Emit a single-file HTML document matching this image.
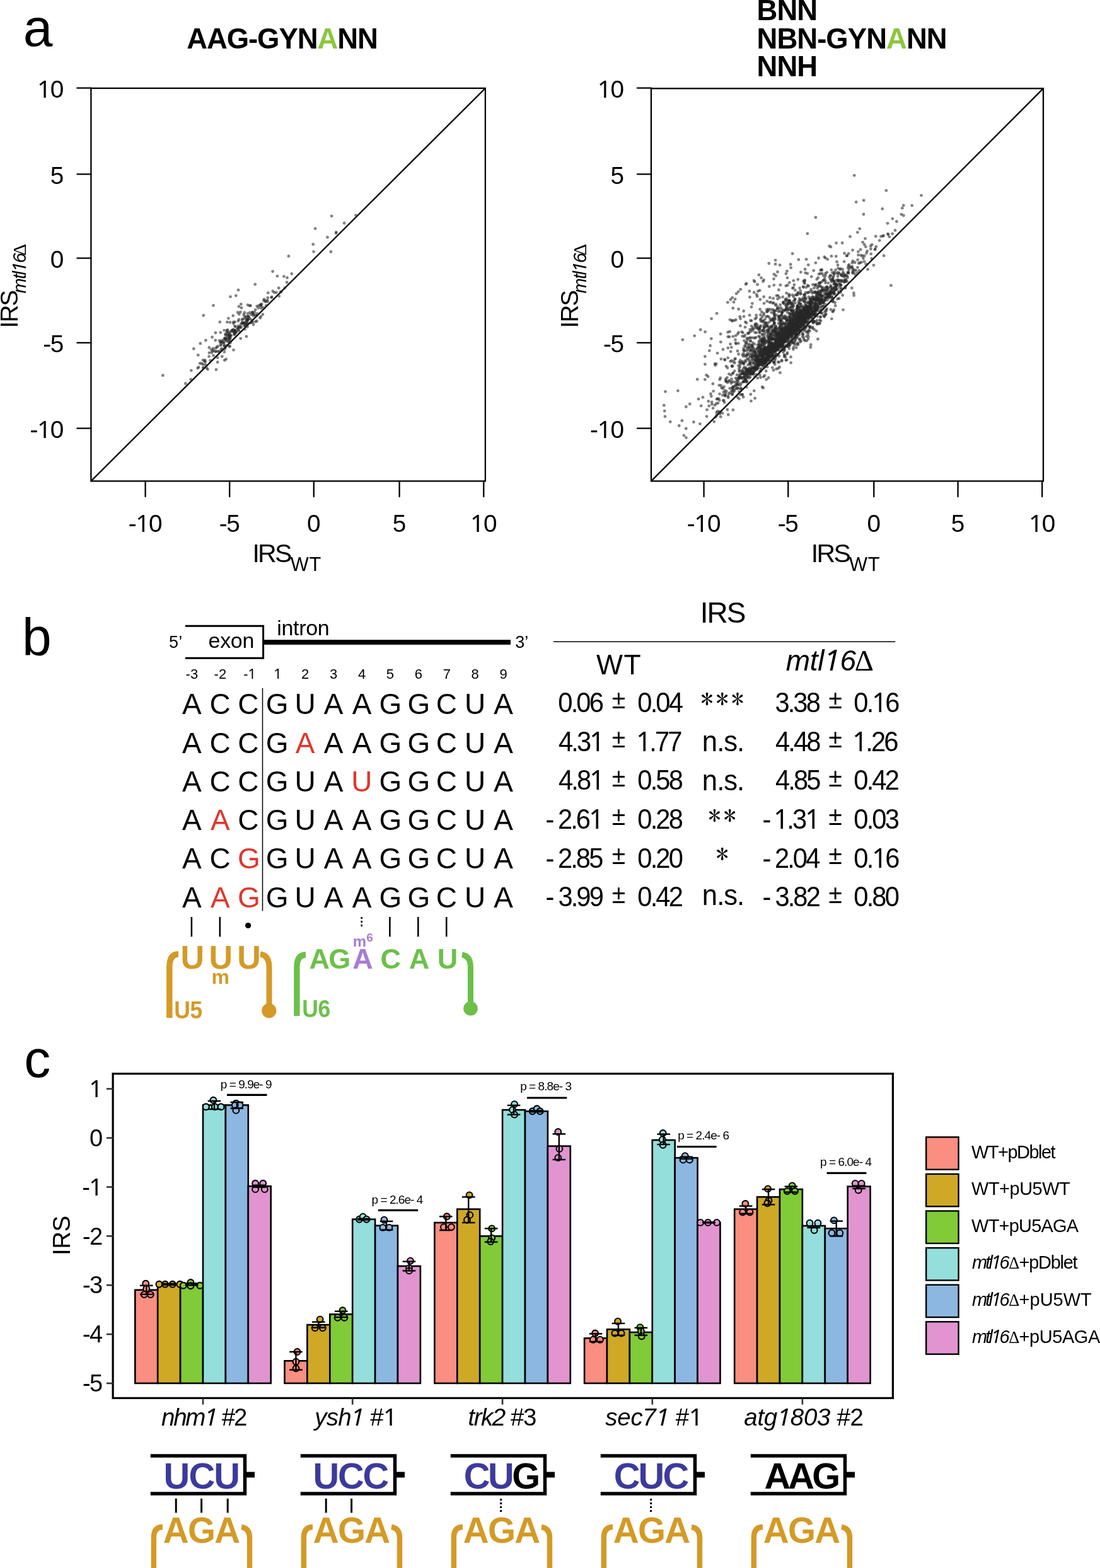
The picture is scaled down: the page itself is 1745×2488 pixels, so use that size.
<!DOCTYPE html>
<html><head><meta charset="utf-8"><title>Figure</title>
<style>html,body{margin:0;padding:0;background:#fff;overflow:hidden;} svg{display:block;}</style>
</head><body>
<svg width="1745" height="2488" viewBox="0 0 1745 2488" font-family="'Liberation Sans', Arial, Helvetica, sans-serif">
<text x="36.63" y="72.60" font-size="84">a</text>
<text x="296.17" y="77.00" font-size="45.5" font-weight="bold" letter-spacing="-1.082">AAG-GYN<tspan fill="#8cc63f">A</tspan>NN</text>
<text x="1200.56" y="32.40" font-size="45.5" font-weight="bold" letter-spacing="-0.977">BNN</text>
<text x="1200.56" y="76.60" font-size="45.5" font-weight="bold" letter-spacing="-0.977">NBN-GYN<tspan fill="#8cc63f">A</tspan>NN</text>
<text x="1200.56" y="121.00" font-size="45.5" font-weight="bold" letter-spacing="-0.977">NNH</text>
<rect x="144.4" y="140.0" width="625.50" height="623.40" fill="none" stroke="#000" stroke-width="2.3"/>
<line x1="144.40" y1="763.40" x2="769.90" y2="140.00" stroke="#000" stroke-width="2.3"/>
<line x1="122.40" y1="139.70" x2="144.40" y2="139.70" stroke="#000" stroke-width="2.3" stroke-linecap="round"/>
<text x="59.03" y="154.90" font-size="38.8" letter-spacing="-1.4"><tspan font-family="'Noto Sans', 'Liberation Sans', Arial, sans-serif">1</tspan>0</text>
<line x1="122.40" y1="276.30" x2="144.40" y2="276.30" stroke="#000" stroke-width="2.3" stroke-linecap="round"/>
<text x="79.82" y="291.50" font-size="38.8" letter-spacing="-1.4">5</text>
<line x1="122.40" y1="409.70" x2="144.40" y2="409.70" stroke="#000" stroke-width="2.3" stroke-linecap="round"/>
<text x="79.82" y="424.90" font-size="38.8" letter-spacing="-1.4">0</text>
<line x1="122.40" y1="543.90" x2="144.40" y2="543.90" stroke="#000" stroke-width="2.3" stroke-linecap="round"/>
<text x="68.30" y="559.10" font-size="38.8" letter-spacing="-1.4">-5</text>
<line x1="122.40" y1="679.70" x2="144.40" y2="679.70" stroke="#000" stroke-width="2.3" stroke-linecap="round"/>
<text x="47.51" y="694.90" font-size="38.8" letter-spacing="-1.4">-<tspan font-family="'Noto Sans', 'Liberation Sans', Arial, sans-serif">1</tspan>0</text>
<line x1="230.60" y1="763.40" x2="230.60" y2="788.00" stroke="#000" stroke-width="2.3" stroke-linecap="round"/>
<text x="203.65" y="844.20" font-size="38.8" letter-spacing="-1.4">-<tspan font-family="'Noto Sans', 'Liberation Sans', Arial, sans-serif">1</tspan>0</text>
<line x1="364.20" y1="763.40" x2="364.20" y2="788.00" stroke="#000" stroke-width="2.3" stroke-linecap="round"/>
<text x="347.65" y="844.20" font-size="38.8" letter-spacing="-1.4">-5</text>
<line x1="497.80" y1="763.40" x2="497.80" y2="788.00" stroke="#000" stroke-width="2.3" stroke-linecap="round"/>
<text x="487.01" y="844.20" font-size="38.8" letter-spacing="-1.4">0</text>
<line x1="633.60" y1="763.40" x2="633.60" y2="788.00" stroke="#000" stroke-width="2.3" stroke-linecap="round"/>
<text x="622.81" y="844.20" font-size="38.8" letter-spacing="-1.4">5</text>
<line x1="767.30" y1="763.40" x2="767.30" y2="788.00" stroke="#000" stroke-width="2.3" stroke-linecap="round"/>
<text x="746.11" y="844.20" font-size="38.8" letter-spacing="-1.4"><tspan font-family="'Noto Sans', 'Liberation Sans', Arial, sans-serif">1</tspan>0</text>
<rect x="1033.0" y="140.4" width="622.00" height="623.00" fill="none" stroke="#000" stroke-width="2.3"/>
<line x1="1033.00" y1="763.40" x2="1655.00" y2="140.40" stroke="#000" stroke-width="2.3"/>
<line x1="1011.00" y1="139.70" x2="1033.00" y2="139.70" stroke="#000" stroke-width="2.3" stroke-linecap="round"/>
<text x="947.63" y="154.90" font-size="38.8" letter-spacing="-1.4"><tspan font-family="'Noto Sans', 'Liberation Sans', Arial, sans-serif">1</tspan>0</text>
<line x1="1011.00" y1="276.30" x2="1033.00" y2="276.30" stroke="#000" stroke-width="2.3" stroke-linecap="round"/>
<text x="968.42" y="291.50" font-size="38.8" letter-spacing="-1.4">5</text>
<line x1="1011.00" y1="409.70" x2="1033.00" y2="409.70" stroke="#000" stroke-width="2.3" stroke-linecap="round"/>
<text x="968.42" y="424.90" font-size="38.8" letter-spacing="-1.4">0</text>
<line x1="1011.00" y1="543.90" x2="1033.00" y2="543.90" stroke="#000" stroke-width="2.3" stroke-linecap="round"/>
<text x="956.90" y="559.10" font-size="38.8" letter-spacing="-1.4">-5</text>
<line x1="1011.00" y1="679.70" x2="1033.00" y2="679.70" stroke="#000" stroke-width="2.3" stroke-linecap="round"/>
<text x="936.11" y="694.90" font-size="38.8" letter-spacing="-1.4">-<tspan font-family="'Noto Sans', 'Liberation Sans', Arial, sans-serif">1</tspan>0</text>
<line x1="1116.60" y1="763.40" x2="1116.60" y2="788.00" stroke="#000" stroke-width="2.3" stroke-linecap="round"/>
<text x="1089.65" y="844.20" font-size="38.8" letter-spacing="-1.4">-<tspan font-family="'Noto Sans', 'Liberation Sans', Arial, sans-serif">1</tspan>0</text>
<line x1="1250.30" y1="763.40" x2="1250.30" y2="788.00" stroke="#000" stroke-width="2.3" stroke-linecap="round"/>
<text x="1233.75" y="844.20" font-size="38.8" letter-spacing="-1.4">-5</text>
<line x1="1386.30" y1="763.40" x2="1386.30" y2="788.00" stroke="#000" stroke-width="2.3" stroke-linecap="round"/>
<text x="1375.51" y="844.20" font-size="38.8" letter-spacing="-1.4">0</text>
<line x1="1519.60" y1="763.40" x2="1519.60" y2="788.00" stroke="#000" stroke-width="2.3" stroke-linecap="round"/>
<text x="1508.81" y="844.20" font-size="38.8" letter-spacing="-1.4">5</text>
<line x1="1653.20" y1="763.40" x2="1653.20" y2="788.00" stroke="#000" stroke-width="2.3" stroke-linecap="round"/>
<text x="1632.01" y="844.20" font-size="38.8" letter-spacing="-1.4"><tspan font-family="'Noto Sans', 'Liberation Sans', Arial, sans-serif">1</tspan>0</text>
<text x="400.41" y="892.40" font-size="41.1" letter-spacing="-2.7">IRS<tspan font-size="30.8" dy="13.9" letter-spacing="0.5">WT</tspan></text>
<text x="1286.71" y="892.40" font-size="41.1" letter-spacing="-2.7">IRS<tspan font-size="30.8" dy="13.9" letter-spacing="0.5">WT</tspan></text>
<g transform="translate(27.8,520.4) rotate(-90)"><text x="0" y="0" font-size="38.5" letter-spacing="-1.9">IRS</text><text x="55.0" y="13" font-size="29" font-style="italic" letter-spacing="-1.6">mtl<tspan font-family="'Noto Sans', 'Liberation Sans', Arial, sans-serif">1</tspan>6</text><text x="115.0" y="13" font-size="29" font-family="'Liberation Serif', 'Times New Roman', serif">Δ</text></g>
<g transform="translate(916.8,520.4) rotate(-90)"><text x="0" y="0" font-size="38.5" letter-spacing="-1.9">IRS</text><text x="55.0" y="13" font-size="29" font-style="italic" letter-spacing="-1.6">mtl<tspan font-family="'Noto Sans', 'Liberation Sans', Arial, sans-serif">1</tspan>6</text><text x="115.0" y="13" font-size="29" font-family="'Liberation Serif', 'Times New Roman', serif">Δ</text></g>
<g fill="#282828" fill-opacity="0.58"><circle cx="359.9" cy="548.2" r="2.4"/><circle cx="392.4" cy="518.5" r="2.4"/><circle cx="371.6" cy="527.0" r="2.4"/><circle cx="418.9" cy="474.9" r="2.4"/><circle cx="457.9" cy="406.4" r="2.4"/><circle cx="401.7" cy="501.0" r="2.4"/><circle cx="412.6" cy="504.6" r="2.4"/><circle cx="303.4" cy="587.8" r="2.4"/><circle cx="387.0" cy="516.4" r="2.4"/><circle cx="372.3" cy="524.3" r="2.4"/><circle cx="381.4" cy="495.2" r="2.4"/><circle cx="439.9" cy="438.1" r="2.4"/><circle cx="313.6" cy="584.1" r="2.4"/><circle cx="533.1" cy="370.0" r="2.4"/><circle cx="405.4" cy="510.4" r="2.4"/><circle cx="338.5" cy="484.7" r="2.4"/><circle cx="331.6" cy="565.6" r="2.4"/><circle cx="375.3" cy="526.9" r="2.4"/><circle cx="355.3" cy="538.3" r="2.4"/><circle cx="358.1" cy="539.2" r="2.4"/><circle cx="497.6" cy="399.3" r="2.4"/><circle cx="356.2" cy="571.6" r="2.4"/><circle cx="432.6" cy="430.7" r="2.4"/><circle cx="366.2" cy="532.8" r="2.4"/><circle cx="432.8" cy="462.0" r="2.4"/><circle cx="322.2" cy="578.4" r="2.4"/><circle cx="360.3" cy="532.1" r="2.4"/><circle cx="338.6" cy="564.1" r="2.4"/><circle cx="355.8" cy="558.4" r="2.4"/><circle cx="371.5" cy="529.3" r="2.4"/><circle cx="496.7" cy="387.7" r="2.4"/><circle cx="322.4" cy="583.4" r="2.4"/><circle cx="357.4" cy="530.4" r="2.4"/><circle cx="370.2" cy="513.0" r="2.4"/><circle cx="442.2" cy="457.0" r="2.4"/><circle cx="438.4" cy="464.1" r="2.4"/><circle cx="377.1" cy="521.2" r="2.4"/><circle cx="405.6" cy="500.7" r="2.4"/><circle cx="352.0" cy="540.3" r="2.4"/><circle cx="377.9" cy="509.3" r="2.4"/><circle cx="382.2" cy="482.7" r="2.4"/><circle cx="373.1" cy="526.9" r="2.4"/><circle cx="371.9" cy="524.3" r="2.4"/><circle cx="349.4" cy="543.4" r="2.4"/><circle cx="377.7" cy="517.5" r="2.4"/><circle cx="302.6" cy="601.9" r="2.4"/><circle cx="329.5" cy="586.1" r="2.4"/><circle cx="363.8" cy="543.2" r="2.4"/><circle cx="413.6" cy="502.3" r="2.4"/><circle cx="386.5" cy="512.7" r="2.4"/><circle cx="397.4" cy="512.1" r="2.4"/><circle cx="415.1" cy="482.5" r="2.4"/><circle cx="345.5" cy="549.4" r="2.4"/><circle cx="336.6" cy="535.0" r="2.4"/><circle cx="380.8" cy="517.8" r="2.4"/><circle cx="374.3" cy="469.1" r="2.4"/><circle cx="317.8" cy="545.0" r="2.4"/><circle cx="364.9" cy="511.5" r="2.4"/><circle cx="400.5" cy="495.7" r="2.4"/><circle cx="369.8" cy="500.9" r="2.4"/><circle cx="564.5" cy="341.6" r="2.4"/><circle cx="357.0" cy="536.1" r="2.4"/><circle cx="401.1" cy="510.8" r="2.4"/><circle cx="364.7" cy="549.4" r="2.4"/><circle cx="370.4" cy="510.8" r="2.4"/><circle cx="407.4" cy="509.4" r="2.4"/><circle cx="315.0" cy="582.7" r="2.4"/><circle cx="398.7" cy="511.9" r="2.4"/><circle cx="424.3" cy="478.6" r="2.4"/><circle cx="355.2" cy="544.7" r="2.4"/><circle cx="258.3" cy="595.7" r="2.4"/><circle cx="392.4" cy="508.6" r="2.4"/><circle cx="370.3" cy="526.2" r="2.4"/><circle cx="358.9" cy="541.2" r="2.4"/><circle cx="397.0" cy="505.9" r="2.4"/><circle cx="392.0" cy="514.5" r="2.4"/><circle cx="337.2" cy="557.3" r="2.4"/><circle cx="500.1" cy="362.7" r="2.4"/><circle cx="349.8" cy="527.6" r="2.4"/><circle cx="359.7" cy="528.0" r="2.4"/><circle cx="388.0" cy="502.1" r="2.4"/><circle cx="371.6" cy="531.0" r="2.4"/><circle cx="392.8" cy="507.1" r="2.4"/><circle cx="325.7" cy="574.5" r="2.4"/><circle cx="379.3" cy="519.2" r="2.4"/><circle cx="362.9" cy="539.5" r="2.4"/><circle cx="430.6" cy="472.2" r="2.4"/><circle cx="324.2" cy="573.1" r="2.4"/><circle cx="357.4" cy="551.2" r="2.4"/><circle cx="358.0" cy="531.4" r="2.4"/><circle cx="396.0" cy="485.2" r="2.4"/><circle cx="307.3" cy="553.4" r="2.4"/><circle cx="445.2" cy="463.3" r="2.4"/><circle cx="546.1" cy="354.0" r="2.4"/><circle cx="331.8" cy="551.5" r="2.4"/><circle cx="358.6" cy="569.9" r="2.4"/><circle cx="370.5" cy="555.3" r="2.4"/><circle cx="350.8" cy="542.7" r="2.4"/><circle cx="354.5" cy="542.4" r="2.4"/><circle cx="373.5" cy="518.6" r="2.4"/><circle cx="378.3" cy="523.1" r="2.4"/><circle cx="348.0" cy="540.5" r="2.4"/><circle cx="421.2" cy="477.2" r="2.4"/><circle cx="393.0" cy="483.8" r="2.4"/><circle cx="367.5" cy="524.5" r="2.4"/><circle cx="363.8" cy="527.0" r="2.4"/><circle cx="379.3" cy="498.6" r="2.4"/><circle cx="345.1" cy="574.7" r="2.4"/><circle cx="386.7" cy="499.2" r="2.4"/><circle cx="392.2" cy="506.9" r="2.4"/><circle cx="388.8" cy="517.4" r="2.4"/><circle cx="392.0" cy="514.1" r="2.4"/><circle cx="326.4" cy="540.0" r="2.4"/><circle cx="341.6" cy="557.8" r="2.4"/><circle cx="424.7" cy="472.4" r="2.4"/><circle cx="533.3" cy="368.3" r="2.4"/><circle cx="410.9" cy="484.7" r="2.4"/><circle cx="363.3" cy="531.4" r="2.4"/><circle cx="364.2" cy="530.0" r="2.4"/><circle cx="350.0" cy="548.0" r="2.4"/><circle cx="384.0" cy="507.8" r="2.4"/><circle cx="407.9" cy="497.7" r="2.4"/><circle cx="346.0" cy="557.4" r="2.4"/><circle cx="372.7" cy="510.9" r="2.4"/><circle cx="338.0" cy="552.8" r="2.4"/><circle cx="414.1" cy="484.5" r="2.4"/><circle cx="364.9" cy="532.7" r="2.4"/><circle cx="414.1" cy="488.9" r="2.4"/><circle cx="373.9" cy="527.4" r="2.4"/><circle cx="387.9" cy="505.7" r="2.4"/><circle cx="331.9" cy="559.8" r="2.4"/><circle cx="394.3" cy="502.9" r="2.4"/><circle cx="390.4" cy="504.3" r="2.4"/><circle cx="382.1" cy="514.4" r="2.4"/><circle cx="424.3" cy="476.6" r="2.4"/><circle cx="407.7" cy="485.8" r="2.4"/><circle cx="363.7" cy="549.7" r="2.4"/><circle cx="369.2" cy="523.6" r="2.4"/><circle cx="442.8" cy="469.9" r="2.4"/><circle cx="325.8" cy="579.0" r="2.4"/><circle cx="409.7" cy="488.5" r="2.4"/><circle cx="364.7" cy="539.9" r="2.4"/><circle cx="421.1" cy="478.9" r="2.4"/><circle cx="385.4" cy="513.0" r="2.4"/><circle cx="387.9" cy="496.0" r="2.4"/><circle cx="402.8" cy="499.1" r="2.4"/><circle cx="388.2" cy="512.9" r="2.4"/><circle cx="393.6" cy="501.6" r="2.4"/><circle cx="378.9" cy="506.9" r="2.4"/><circle cx="372.3" cy="517.1" r="2.4"/><circle cx="342.8" cy="557.7" r="2.4"/><circle cx="399.5" cy="508.5" r="2.4"/><circle cx="422.1" cy="485.0" r="2.4"/><circle cx="390.9" cy="533.9" r="2.4"/><circle cx="352.3" cy="565.7" r="2.4"/><circle cx="317.1" cy="576.6" r="2.4"/><circle cx="361.0" cy="523.7" r="2.4"/><circle cx="378.9" cy="486.3" r="2.4"/><circle cx="524.9" cy="399.5" r="2.4"/><circle cx="381.7" cy="537.1" r="2.4"/><circle cx="342.3" cy="552.4" r="2.4"/><circle cx="390.8" cy="502.1" r="2.4"/><circle cx="391.4" cy="509.8" r="2.4"/><circle cx="365.3" cy="543.9" r="2.4"/><circle cx="388.1" cy="511.4" r="2.4"/><circle cx="341.9" cy="528.0" r="2.4"/><circle cx="344.1" cy="550.8" r="2.4"/><circle cx="382.6" cy="519.5" r="2.4"/><circle cx="360.3" cy="511.1" r="2.4"/><circle cx="372.5" cy="527.2" r="2.4"/><circle cx="357.7" cy="537.7" r="2.4"/><circle cx="327.9" cy="583.9" r="2.4"/><circle cx="455.1" cy="448.0" r="2.4"/><circle cx="425.3" cy="464.6" r="2.4"/><circle cx="362.4" cy="505.1" r="2.4"/><circle cx="400.6" cy="495.6" r="2.4"/><circle cx="322.8" cy="500.5" r="2.4"/><circle cx="407.2" cy="500.8" r="2.4"/><circle cx="354.1" cy="543.7" r="2.4"/><circle cx="435.2" cy="464.2" r="2.4"/><circle cx="362.7" cy="533.1" r="2.4"/><circle cx="359.8" cy="535.8" r="2.4"/><circle cx="322.1" cy="571.3" r="2.4"/><circle cx="397.5" cy="484.9" r="2.4"/><circle cx="350.4" cy="554.9" r="2.4"/><circle cx="403.6" cy="495.4" r="2.4"/><circle cx="350.7" cy="546.3" r="2.4"/><circle cx="388.2" cy="513.0" r="2.4"/><circle cx="366.4" cy="526.5" r="2.4"/><circle cx="362.1" cy="537.5" r="2.4"/><circle cx="370.3" cy="522.7" r="2.4"/><circle cx="462.8" cy="434.4" r="2.4"/><circle cx="314.3" cy="563.4" r="2.4"/><circle cx="370.8" cy="525.2" r="2.4"/><circle cx="342.9" cy="586.5" r="2.4"/><circle cx="358.3" cy="537.7" r="2.4"/><circle cx="335.9" cy="559.6" r="2.4"/><circle cx="401.1" cy="497.9" r="2.4"/><circle cx="345.1" cy="567.4" r="2.4"/><circle cx="416.8" cy="499.0" r="2.4"/><circle cx="347.5" cy="558.2" r="2.4"/><circle cx="383.8" cy="512.1" r="2.4"/><circle cx="366.5" cy="532.2" r="2.4"/><circle cx="389.8" cy="515.4" r="2.4"/><circle cx="450.4" cy="438.6" r="2.4"/><circle cx="380.9" cy="519.7" r="2.4"/><circle cx="351.0" cy="542.2" r="2.4"/><circle cx="394.1" cy="506.3" r="2.4"/><circle cx="377.5" cy="520.5" r="2.4"/><circle cx="341.8" cy="540.0" r="2.4"/><circle cx="431.1" cy="471.2" r="2.4"/><circle cx="451.8" cy="456.8" r="2.4"/><circle cx="405.1" cy="491.6" r="2.4"/><circle cx="384.7" cy="506.1" r="2.4"/><circle cx="398.3" cy="498.9" r="2.4"/><circle cx="362.8" cy="531.7" r="2.4"/><circle cx="392.4" cy="511.5" r="2.4"/><circle cx="335.1" cy="554.9" r="2.4"/><circle cx="365.5" cy="470.8" r="2.4"/><circle cx="368.4" cy="524.4" r="2.4"/><circle cx="383.0" cy="488.5" r="2.4"/><circle cx="377.2" cy="495.7" r="2.4"/><circle cx="355.7" cy="524.1" r="2.4"/><circle cx="364.4" cy="536.4" r="2.4"/><circle cx="404.7" cy="451.2" r="2.4"/><circle cx="356.7" cy="553.9" r="2.4"/><circle cx="325.2" cy="571.5" r="2.4"/><circle cx="319.9" cy="576.7" r="2.4"/><circle cx="348.8" cy="510.9" r="2.4"/><circle cx="378.1" cy="460.2" r="2.4"/><circle cx="374.8" cy="523.8" r="2.4"/><circle cx="394.5" cy="502.7" r="2.4"/><circle cx="294.3" cy="608.5" r="2.4"/><circle cx="417.3" cy="488.0" r="2.4"/><circle cx="391.8" cy="515.2" r="2.4"/><circle cx="363.8" cy="536.2" r="2.4"/><circle cx="393.0" cy="507.3" r="2.4"/><circle cx="333.7" cy="572.0" r="2.4"/><circle cx="355.6" cy="548.3" r="2.4"/><circle cx="526.1" cy="342.8" r="2.4"/><circle cx="361.8" cy="542.0" r="2.4"/><circle cx="391.2" cy="508.7" r="2.4"/><circle cx="361.8" cy="529.1" r="2.4"/><circle cx="365.5" cy="536.6" r="2.4"/><circle cx="446.0" cy="462.9" r="2.4"/><circle cx="418.4" cy="477.0" r="2.4"/><circle cx="396.5" cy="495.8" r="2.4"/><circle cx="360.0" cy="526.2" r="2.4"/><circle cx="402.1" cy="515.0" r="2.4"/><circle cx="388.4" cy="522.4" r="2.4"/><circle cx="379.1" cy="525.0" r="2.4"/><circle cx="384.3" cy="512.6" r="2.4"/><circle cx="356.0" cy="549.0" r="2.4"/><circle cx="322.9" cy="584.2" r="2.4"/><circle cx="360.4" cy="523.8" r="2.4"/><circle cx="413.5" cy="483.2" r="2.4"/><circle cx="455.5" cy="440.7" r="2.4"/><circle cx="519.5" cy="376.4" r="2.4"/><circle cx="356.7" cy="537.1" r="2.4"/><circle cx="363.5" cy="533.9" r="2.4"/><circle cx="372.7" cy="530.3" r="2.4"/><circle cx="351.9" cy="553.2" r="2.4"/><circle cx="338.9" cy="556.0" r="2.4"/><circle cx="413.5" cy="484.9" r="2.4"/><circle cx="393.0" cy="497.6" r="2.4"/></g>
<g fill="#282828" fill-opacity="0.58"><circle cx="1224.8" cy="568.8" r="2.4"/><circle cx="1212.7" cy="537.1" r="2.4"/><circle cx="1258.2" cy="494.2" r="2.4"/><circle cx="1231.0" cy="554.6" r="2.4"/><circle cx="1276.7" cy="506.5" r="2.4"/><circle cx="1220.7" cy="566.4" r="2.4"/><circle cx="1292.9" cy="493.1" r="2.4"/><circle cx="1294.0" cy="488.5" r="2.4"/><circle cx="1244.4" cy="537.3" r="2.4"/><circle cx="1267.9" cy="502.9" r="2.4"/><circle cx="1250.7" cy="515.8" r="2.4"/><circle cx="1321.2" cy="478.3" r="2.4"/><circle cx="1208.9" cy="540.9" r="2.4"/><circle cx="1217.7" cy="560.9" r="2.4"/><circle cx="1279.2" cy="485.7" r="2.4"/><circle cx="1267.7" cy="511.6" r="2.4"/><circle cx="1192.7" cy="547.3" r="2.4"/><circle cx="1229.8" cy="556.7" r="2.4"/><circle cx="1229.7" cy="525.1" r="2.4"/><circle cx="1222.8" cy="554.8" r="2.4"/><circle cx="1306.4" cy="500.5" r="2.4"/><circle cx="1284.9" cy="499.3" r="2.4"/><circle cx="1266.4" cy="513.6" r="2.4"/><circle cx="1226.0" cy="546.5" r="2.4"/><circle cx="1191.5" cy="636.3" r="2.4"/><circle cx="1258.8" cy="470.9" r="2.4"/><circle cx="1261.0" cy="531.1" r="2.4"/><circle cx="1230.7" cy="526.1" r="2.4"/><circle cx="1219.2" cy="554.0" r="2.4"/><circle cx="1201.9" cy="547.3" r="2.4"/><circle cx="1252.1" cy="518.2" r="2.4"/><circle cx="1237.6" cy="532.3" r="2.4"/><circle cx="1171.6" cy="490.5" r="2.4"/><circle cx="1209.2" cy="614.0" r="2.4"/><circle cx="1154.0" cy="583.7" r="2.4"/><circle cx="1271.8" cy="500.7" r="2.4"/><circle cx="1209.2" cy="502.7" r="2.4"/><circle cx="1218.9" cy="490.6" r="2.4"/><circle cx="1264.1" cy="526.0" r="2.4"/><circle cx="1206.5" cy="556.0" r="2.4"/><circle cx="1341.9" cy="454.1" r="2.4"/><circle cx="1240.8" cy="547.1" r="2.4"/><circle cx="1264.4" cy="506.6" r="2.4"/><circle cx="1254.3" cy="498.2" r="2.4"/><circle cx="1241.7" cy="526.9" r="2.4"/><circle cx="1254.0" cy="520.0" r="2.4"/><circle cx="1193.9" cy="561.8" r="2.4"/><circle cx="1244.7" cy="534.8" r="2.4"/><circle cx="1291.4" cy="457.1" r="2.4"/><circle cx="1197.1" cy="581.4" r="2.4"/><circle cx="1236.6" cy="493.3" r="2.4"/><circle cx="1171.5" cy="580.2" r="2.4"/><circle cx="1254.6" cy="566.4" r="2.4"/><circle cx="1227.7" cy="547.3" r="2.4"/><circle cx="1224.4" cy="547.7" r="2.4"/><circle cx="1222.2" cy="559.8" r="2.4"/><circle cx="1217.3" cy="554.5" r="2.4"/><circle cx="1422.4" cy="351.5" r="2.4"/><circle cx="1181.5" cy="556.7" r="2.4"/><circle cx="1190.7" cy="587.3" r="2.4"/><circle cx="1199.1" cy="535.4" r="2.4"/><circle cx="1276.2" cy="503.9" r="2.4"/><circle cx="1347.1" cy="419.9" r="2.4"/><circle cx="1115.0" cy="630.4" r="2.4"/><circle cx="1300.4" cy="479.1" r="2.4"/><circle cx="1369.4" cy="409.9" r="2.4"/><circle cx="1256.4" cy="525.0" r="2.4"/><circle cx="1221.9" cy="566.3" r="2.4"/><circle cx="1323.9" cy="460.6" r="2.4"/><circle cx="1192.3" cy="561.4" r="2.4"/><circle cx="1143.9" cy="611.7" r="2.4"/><circle cx="1240.0" cy="524.0" r="2.4"/><circle cx="1206.6" cy="518.5" r="2.4"/><circle cx="1351.3" cy="457.0" r="2.4"/><circle cx="1193.6" cy="548.9" r="2.4"/><circle cx="1275.3" cy="501.0" r="2.4"/><circle cx="1254.0" cy="524.9" r="2.4"/><circle cx="1248.0" cy="571.2" r="2.4"/><circle cx="1269.0" cy="538.0" r="2.4"/><circle cx="1291.9" cy="493.0" r="2.4"/><circle cx="1175.2" cy="598.1" r="2.4"/><circle cx="1302.7" cy="492.1" r="2.4"/><circle cx="1273.3" cy="502.6" r="2.4"/><circle cx="1077.3" cy="675.5" r="2.4"/><circle cx="1231.4" cy="499.6" r="2.4"/><circle cx="1337.6" cy="433.8" r="2.4"/><circle cx="1342.6" cy="437.1" r="2.4"/><circle cx="1214.8" cy="567.3" r="2.4"/><circle cx="1189.1" cy="500.2" r="2.4"/><circle cx="1236.7" cy="547.4" r="2.4"/><circle cx="1259.3" cy="522.0" r="2.4"/><circle cx="1205.5" cy="570.3" r="2.4"/><circle cx="1236.1" cy="574.6" r="2.4"/><circle cx="1292.8" cy="492.5" r="2.4"/><circle cx="1262.1" cy="511.4" r="2.4"/><circle cx="1235.9" cy="535.3" r="2.4"/><circle cx="1285.8" cy="499.0" r="2.4"/><circle cx="1203.9" cy="436.2" r="2.4"/><circle cx="1271.3" cy="516.5" r="2.4"/><circle cx="1278.6" cy="495.3" r="2.4"/><circle cx="1295.4" cy="470.7" r="2.4"/><circle cx="1088.3" cy="680.0" r="2.4"/><circle cx="1254.7" cy="487.6" r="2.4"/><circle cx="1174.2" cy="578.6" r="2.4"/><circle cx="1236.3" cy="537.1" r="2.4"/><circle cx="1326.4" cy="444.6" r="2.4"/><circle cx="1283.8" cy="498.2" r="2.4"/><circle cx="1201.3" cy="573.8" r="2.4"/><circle cx="1260.8" cy="517.4" r="2.4"/><circle cx="1256.6" cy="515.4" r="2.4"/><circle cx="1226.7" cy="473.4" r="2.4"/><circle cx="1220.9" cy="479.8" r="2.4"/><circle cx="1326.6" cy="453.6" r="2.4"/><circle cx="1266.9" cy="510.7" r="2.4"/><circle cx="1202.6" cy="581.4" r="2.4"/><circle cx="1266.2" cy="487.7" r="2.4"/><circle cx="1323.0" cy="466.7" r="2.4"/><circle cx="1244.9" cy="522.5" r="2.4"/><circle cx="1194.3" cy="520.1" r="2.4"/><circle cx="1143.9" cy="569.6" r="2.4"/><circle cx="1220.9" cy="542.5" r="2.4"/><circle cx="1255.0" cy="480.4" r="2.4"/><circle cx="1235.7" cy="503.3" r="2.4"/><circle cx="1286.5" cy="489.8" r="2.4"/><circle cx="1193.4" cy="556.6" r="2.4"/><circle cx="1279.2" cy="503.4" r="2.4"/><circle cx="1187.0" cy="537.2" r="2.4"/><circle cx="1256.4" cy="536.6" r="2.4"/><circle cx="1267.0" cy="481.3" r="2.4"/><circle cx="1321.4" cy="474.4" r="2.4"/><circle cx="1217.1" cy="559.7" r="2.4"/><circle cx="1234.1" cy="536.2" r="2.4"/><circle cx="1254.5" cy="507.9" r="2.4"/><circle cx="1334.6" cy="446.3" r="2.4"/><circle cx="1179.0" cy="576.4" r="2.4"/><circle cx="1301.9" cy="477.8" r="2.4"/><circle cx="1234.4" cy="562.5" r="2.4"/><circle cx="1245.0" cy="505.7" r="2.4"/><circle cx="1271.0" cy="504.0" r="2.4"/><circle cx="1214.1" cy="576.8" r="2.4"/><circle cx="1210.3" cy="568.6" r="2.4"/><circle cx="1231.3" cy="482.9" r="2.4"/><circle cx="1130.9" cy="608.9" r="2.4"/><circle cx="1251.2" cy="542.2" r="2.4"/><circle cx="1207.2" cy="584.6" r="2.4"/><circle cx="1260.0" cy="525.3" r="2.4"/><circle cx="1253.8" cy="508.4" r="2.4"/><circle cx="1241.0" cy="530.4" r="2.4"/><circle cx="1320.4" cy="432.6" r="2.4"/><circle cx="1230.7" cy="551.0" r="2.4"/><circle cx="1231.0" cy="552.1" r="2.4"/><circle cx="1167.1" cy="610.6" r="2.4"/><circle cx="1289.8" cy="471.1" r="2.4"/><circle cx="1254.7" cy="575.6" r="2.4"/><circle cx="1256.0" cy="531.6" r="2.4"/><circle cx="1239.4" cy="534.2" r="2.4"/><circle cx="1266.2" cy="524.4" r="2.4"/><circle cx="1208.0" cy="568.8" r="2.4"/><circle cx="1204.0" cy="519.5" r="2.4"/><circle cx="1323.2" cy="446.3" r="2.4"/><circle cx="1266.6" cy="505.3" r="2.4"/><circle cx="1317.6" cy="466.5" r="2.4"/><circle cx="1210.8" cy="562.0" r="2.4"/><circle cx="1118.4" cy="565.6" r="2.4"/><circle cx="1275.4" cy="502.0" r="2.4"/><circle cx="1266.1" cy="517.0" r="2.4"/><circle cx="1199.8" cy="519.7" r="2.4"/><circle cx="1301.7" cy="502.8" r="2.4"/><circle cx="1293.2" cy="486.0" r="2.4"/><circle cx="1265.6" cy="500.8" r="2.4"/><circle cx="1225.7" cy="545.7" r="2.4"/><circle cx="1233.3" cy="489.9" r="2.4"/><circle cx="1156.6" cy="593.4" r="2.4"/><circle cx="1288.3" cy="493.5" r="2.4"/><circle cx="1222.9" cy="552.6" r="2.4"/><circle cx="1193.4" cy="592.9" r="2.4"/><circle cx="1224.9" cy="544.3" r="2.4"/><circle cx="1256.5" cy="517.5" r="2.4"/><circle cx="1177.7" cy="625.9" r="2.4"/><circle cx="1231.1" cy="552.8" r="2.4"/><circle cx="1273.1" cy="500.5" r="2.4"/><circle cx="1211.6" cy="444.1" r="2.4"/><circle cx="1259.2" cy="528.3" r="2.4"/><circle cx="1220.8" cy="575.5" r="2.4"/><circle cx="1229.1" cy="551.5" r="2.4"/><circle cx="1237.9" cy="545.0" r="2.4"/><circle cx="1204.3" cy="565.1" r="2.4"/><circle cx="1208.3" cy="571.1" r="2.4"/><circle cx="1230.6" cy="547.0" r="2.4"/><circle cx="1293.9" cy="453.7" r="2.4"/><circle cx="1301.3" cy="488.1" r="2.4"/><circle cx="1271.9" cy="514.2" r="2.4"/><circle cx="1179.2" cy="630.0" r="2.4"/><circle cx="1368.6" cy="384.3" r="2.4"/><circle cx="1224.4" cy="535.3" r="2.4"/><circle cx="1162.9" cy="533.9" r="2.4"/><circle cx="1316.9" cy="463.6" r="2.4"/><circle cx="1204.8" cy="541.0" r="2.4"/><circle cx="1265.5" cy="515.9" r="2.4"/><circle cx="1264.2" cy="505.1" r="2.4"/><circle cx="1217.6" cy="563.8" r="2.4"/><circle cx="1162.8" cy="488.9" r="2.4"/><circle cx="1237.5" cy="591.4" r="2.4"/><circle cx="1279.2" cy="526.9" r="2.4"/><circle cx="1248.6" cy="519.5" r="2.4"/><circle cx="1297.9" cy="454.6" r="2.4"/><circle cx="1276.6" cy="445.5" r="2.4"/><circle cx="1253.0" cy="529.4" r="2.4"/><circle cx="1262.5" cy="520.7" r="2.4"/><circle cx="1244.5" cy="542.0" r="2.4"/><circle cx="1266.3" cy="523.7" r="2.4"/><circle cx="1254.5" cy="500.1" r="2.4"/><circle cx="1229.0" cy="521.1" r="2.4"/><circle cx="1239.7" cy="514.0" r="2.4"/><circle cx="1165.5" cy="575.8" r="2.4"/><circle cx="1270.9" cy="513.3" r="2.4"/><circle cx="1191.8" cy="591.8" r="2.4"/><circle cx="1269.2" cy="496.0" r="2.4"/><circle cx="1273.9" cy="502.5" r="2.4"/><circle cx="1322.3" cy="464.7" r="2.4"/><circle cx="1301.9" cy="454.2" r="2.4"/><circle cx="1415.9" cy="347.1" r="2.4"/><circle cx="1302.5" cy="475.6" r="2.4"/><circle cx="1261.7" cy="506.5" r="2.4"/><circle cx="1189.5" cy="587.8" r="2.4"/><circle cx="1276.5" cy="449.8" r="2.4"/><circle cx="1293.7" cy="481.0" r="2.4"/><circle cx="1158.0" cy="507.3" r="2.4"/><circle cx="1212.9" cy="558.4" r="2.4"/><circle cx="1271.8" cy="497.9" r="2.4"/><circle cx="1245.9" cy="538.6" r="2.4"/><circle cx="1273.7" cy="515.4" r="2.4"/><circle cx="1270.7" cy="508.2" r="2.4"/><circle cx="1236.0" cy="504.2" r="2.4"/><circle cx="1296.4" cy="467.3" r="2.4"/><circle cx="1265.1" cy="485.8" r="2.4"/><circle cx="1252.1" cy="548.2" r="2.4"/><circle cx="1295.7" cy="492.8" r="2.4"/><circle cx="1179.8" cy="598.2" r="2.4"/><circle cx="1272.7" cy="513.1" r="2.4"/><circle cx="1310.0" cy="483.2" r="2.4"/><circle cx="1284.3" cy="480.0" r="2.4"/><circle cx="1251.7" cy="531.8" r="2.4"/><circle cx="1199.9" cy="572.8" r="2.4"/><circle cx="1150.1" cy="626.3" r="2.4"/><circle cx="1177.3" cy="592.6" r="2.4"/><circle cx="1202.0" cy="570.1" r="2.4"/><circle cx="1208.7" cy="548.3" r="2.4"/><circle cx="1327.5" cy="453.3" r="2.4"/><circle cx="1217.6" cy="565.6" r="2.4"/><circle cx="1258.1" cy="514.6" r="2.4"/><circle cx="1304.1" cy="478.1" r="2.4"/><circle cx="1208.7" cy="538.2" r="2.4"/><circle cx="1239.9" cy="544.7" r="2.4"/><circle cx="1125.4" cy="556.4" r="2.4"/><circle cx="1217.7" cy="556.0" r="2.4"/><circle cx="1206.2" cy="550.9" r="2.4"/><circle cx="1281.5" cy="479.2" r="2.4"/><circle cx="1277.0" cy="492.1" r="2.4"/><circle cx="1260.3" cy="509.3" r="2.4"/><circle cx="1235.5" cy="543.5" r="2.4"/><circle cx="1267.1" cy="491.6" r="2.4"/><circle cx="1190.8" cy="540.7" r="2.4"/><circle cx="1283.0" cy="523.9" r="2.4"/><circle cx="1323.2" cy="462.8" r="2.4"/><circle cx="1214.5" cy="560.2" r="2.4"/><circle cx="1216.4" cy="494.8" r="2.4"/><circle cx="1299.1" cy="434.8" r="2.4"/><circle cx="1343.9" cy="405.7" r="2.4"/><circle cx="1200.0" cy="564.9" r="2.4"/><circle cx="1233.4" cy="553.2" r="2.4"/><circle cx="1229.6" cy="560.1" r="2.4"/><circle cx="1288.3" cy="483.3" r="2.4"/><circle cx="1197.6" cy="536.4" r="2.4"/><circle cx="1197.3" cy="447.0" r="2.4"/><circle cx="1189.0" cy="584.2" r="2.4"/><circle cx="1297.1" cy="463.6" r="2.4"/><circle cx="1207.1" cy="578.7" r="2.4"/><circle cx="1250.7" cy="513.4" r="2.4"/><circle cx="1263.3" cy="530.8" r="2.4"/><circle cx="1323.0" cy="435.9" r="2.4"/><circle cx="1257.4" cy="526.8" r="2.4"/><circle cx="1237.0" cy="518.4" r="2.4"/><circle cx="1352.0" cy="417.0" r="2.4"/><circle cx="1284.7" cy="480.2" r="2.4"/><circle cx="1197.5" cy="558.9" r="2.4"/><circle cx="1227.6" cy="524.2" r="2.4"/><circle cx="1278.8" cy="497.3" r="2.4"/><circle cx="1190.7" cy="583.6" r="2.4"/><circle cx="1306.8" cy="460.9" r="2.4"/><circle cx="1219.7" cy="502.8" r="2.4"/><circle cx="1274.1" cy="454.8" r="2.4"/><circle cx="1340.9" cy="457.0" r="2.4"/><circle cx="1212.2" cy="573.4" r="2.4"/><circle cx="1361.6" cy="404.7" r="2.4"/><circle cx="1221.9" cy="491.0" r="2.4"/><circle cx="1265.3" cy="511.8" r="2.4"/><circle cx="1264.4" cy="521.3" r="2.4"/><circle cx="1259.1" cy="520.0" r="2.4"/><circle cx="1227.8" cy="498.5" r="2.4"/><circle cx="1288.9" cy="495.1" r="2.4"/><circle cx="1131.7" cy="620.6" r="2.4"/><circle cx="1223.1" cy="547.9" r="2.4"/><circle cx="1321.0" cy="441.0" r="2.4"/><circle cx="1293.8" cy="481.7" r="2.4"/><circle cx="1234.2" cy="544.0" r="2.4"/><circle cx="1181.0" cy="597.7" r="2.4"/><circle cx="1280.4" cy="500.2" r="2.4"/><circle cx="1274.6" cy="445.8" r="2.4"/><circle cx="1241.3" cy="546.1" r="2.4"/><circle cx="1208.4" cy="560.3" r="2.4"/><circle cx="1222.7" cy="560.1" r="2.4"/><circle cx="1168.2" cy="465.9" r="2.4"/><circle cx="1228.0" cy="554.9" r="2.4"/><circle cx="1218.9" cy="529.0" r="2.4"/><circle cx="1208.4" cy="555.9" r="2.4"/><circle cx="1231.1" cy="543.4" r="2.4"/><circle cx="1154.9" cy="534.3" r="2.4"/><circle cx="1287.5" cy="480.4" r="2.4"/><circle cx="1316.8" cy="472.6" r="2.4"/><circle cx="1244.4" cy="563.3" r="2.4"/><circle cx="1238.5" cy="532.9" r="2.4"/><circle cx="1272.0" cy="510.6" r="2.4"/><circle cx="1274.4" cy="501.4" r="2.4"/><circle cx="1261.0" cy="530.6" r="2.4"/><circle cx="1214.3" cy="573.4" r="2.4"/><circle cx="1215.7" cy="602.2" r="2.4"/><circle cx="1211.9" cy="519.1" r="2.4"/><circle cx="1245.3" cy="529.7" r="2.4"/><circle cx="1244.4" cy="534.5" r="2.4"/><circle cx="1291.5" cy="473.8" r="2.4"/><circle cx="1142.9" cy="599.6" r="2.4"/><circle cx="1220.7" cy="557.4" r="2.4"/><circle cx="1162.1" cy="617.6" r="2.4"/><circle cx="1265.1" cy="534.5" r="2.4"/><circle cx="1257.6" cy="515.8" r="2.4"/><circle cx="1226.3" cy="554.7" r="2.4"/><circle cx="1285.1" cy="519.7" r="2.4"/><circle cx="1253.7" cy="519.6" r="2.4"/><circle cx="1209.6" cy="565.3" r="2.4"/><circle cx="1277.1" cy="519.2" r="2.4"/><circle cx="1259.7" cy="535.9" r="2.4"/><circle cx="1238.7" cy="509.2" r="2.4"/><circle cx="1199.9" cy="504.2" r="2.4"/><circle cx="1253.2" cy="532.1" r="2.4"/><circle cx="1189.0" cy="594.4" r="2.4"/><circle cx="1244.7" cy="522.1" r="2.4"/><circle cx="1217.7" cy="525.4" r="2.4"/><circle cx="1298.0" cy="474.4" r="2.4"/><circle cx="1203.3" cy="566.9" r="2.4"/><circle cx="1295.4" cy="483.9" r="2.4"/><circle cx="1177.3" cy="599.9" r="2.4"/><circle cx="1276.1" cy="509.7" r="2.4"/><circle cx="1234.5" cy="553.9" r="2.4"/><circle cx="1335.3" cy="446.5" r="2.4"/><circle cx="1258.7" cy="519.1" r="2.4"/><circle cx="1266.1" cy="488.2" r="2.4"/><circle cx="1232.9" cy="543.2" r="2.4"/><circle cx="1192.2" cy="517.3" r="2.4"/><circle cx="1202.8" cy="579.5" r="2.4"/><circle cx="1299.2" cy="448.9" r="2.4"/><circle cx="1281.1" cy="499.4" r="2.4"/><circle cx="1250.9" cy="536.4" r="2.4"/><circle cx="1202.6" cy="577.8" r="2.4"/><circle cx="1299.6" cy="454.0" r="2.4"/><circle cx="1238.5" cy="542.6" r="2.4"/><circle cx="1240.6" cy="539.4" r="2.4"/><circle cx="1207.3" cy="569.6" r="2.4"/><circle cx="1318.7" cy="447.1" r="2.4"/><circle cx="1249.8" cy="483.6" r="2.4"/><circle cx="1279.3" cy="498.8" r="2.4"/><circle cx="1161.9" cy="615.9" r="2.4"/><circle cx="1272.7" cy="501.2" r="2.4"/><circle cx="1293.9" cy="497.7" r="2.4"/><circle cx="1298.6" cy="512.9" r="2.4"/><circle cx="1181.2" cy="589.9" r="2.4"/><circle cx="1201.9" cy="570.9" r="2.4"/><circle cx="1222.9" cy="552.3" r="2.4"/><circle cx="1268.6" cy="524.5" r="2.4"/><circle cx="1277.8" cy="506.8" r="2.4"/><circle cx="1306.0" cy="444.8" r="2.4"/><circle cx="1249.8" cy="518.3" r="2.4"/><circle cx="1174.4" cy="611.2" r="2.4"/><circle cx="1296.3" cy="514.4" r="2.4"/><circle cx="1213.1" cy="546.0" r="2.4"/><circle cx="1318.5" cy="460.5" r="2.4"/><circle cx="1271.7" cy="514.9" r="2.4"/><circle cx="1301.3" cy="502.9" r="2.4"/><circle cx="1287.3" cy="439.0" r="2.4"/><circle cx="1241.9" cy="531.0" r="2.4"/><circle cx="1153.8" cy="650.0" r="2.4"/><circle cx="1170.9" cy="610.7" r="2.4"/><circle cx="1188.1" cy="599.4" r="2.4"/><circle cx="1256.3" cy="540.4" r="2.4"/><circle cx="1225.3" cy="538.2" r="2.4"/><circle cx="1233.6" cy="474.3" r="2.4"/><circle cx="1221.5" cy="529.8" r="2.4"/><circle cx="1191.6" cy="571.8" r="2.4"/><circle cx="1239.2" cy="514.3" r="2.4"/><circle cx="1193.9" cy="583.8" r="2.4"/><circle cx="1250.8" cy="519.1" r="2.4"/><circle cx="1223.5" cy="537.0" r="2.4"/><circle cx="1251.5" cy="470.5" r="2.4"/><circle cx="1243.7" cy="535.3" r="2.4"/><circle cx="1252.3" cy="520.3" r="2.4"/><circle cx="1179.5" cy="605.3" r="2.4"/><circle cx="1219.6" cy="553.1" r="2.4"/><circle cx="1207.5" cy="510.2" r="2.4"/><circle cx="1246.9" cy="536.7" r="2.4"/><circle cx="1326.6" cy="460.0" r="2.4"/><circle cx="1188.3" cy="527.6" r="2.4"/><circle cx="1253.7" cy="512.7" r="2.4"/><circle cx="1232.0" cy="545.8" r="2.4"/><circle cx="1245.1" cy="526.0" r="2.4"/><circle cx="1320.7" cy="494.4" r="2.4"/><circle cx="1256.8" cy="513.2" r="2.4"/><circle cx="1256.8" cy="517.4" r="2.4"/><circle cx="1271.2" cy="514.9" r="2.4"/><circle cx="1282.6" cy="534.5" r="2.4"/><circle cx="1257.6" cy="507.2" r="2.4"/><circle cx="1309.6" cy="499.0" r="2.4"/><circle cx="1251.7" cy="508.1" r="2.4"/><circle cx="1262.0" cy="527.7" r="2.4"/><circle cx="1160.3" cy="551.1" r="2.4"/><circle cx="1184.2" cy="449.8" r="2.4"/><circle cx="1158.2" cy="623.0" r="2.4"/><circle cx="1262.1" cy="522.7" r="2.4"/><circle cx="1282.3" cy="420.3" r="2.4"/><circle cx="1201.4" cy="584.8" r="2.4"/><circle cx="1275.1" cy="513.9" r="2.4"/><circle cx="1234.5" cy="538.9" r="2.4"/><circle cx="1250.3" cy="507.6" r="2.4"/><circle cx="1220.5" cy="558.1" r="2.4"/><circle cx="1198.2" cy="514.1" r="2.4"/><circle cx="1258.8" cy="445.3" r="2.4"/><circle cx="1147.5" cy="635.5" r="2.4"/><circle cx="1171.4" cy="544.8" r="2.4"/><circle cx="1196.0" cy="445.1" r="2.4"/><circle cx="1207.9" cy="540.1" r="2.4"/><circle cx="1247.7" cy="474.2" r="2.4"/><circle cx="1351.8" cy="423.0" r="2.4"/><circle cx="1219.8" cy="418.0" r="2.4"/><circle cx="1250.7" cy="534.3" r="2.4"/><circle cx="1223.4" cy="518.7" r="2.4"/><circle cx="1276.2" cy="506.2" r="2.4"/><circle cx="1167.3" cy="507.5" r="2.4"/><circle cx="1253.8" cy="529.8" r="2.4"/><circle cx="1265.7" cy="507.2" r="2.4"/><circle cx="1324.7" cy="456.3" r="2.4"/><circle cx="1208.6" cy="577.8" r="2.4"/><circle cx="1255.0" cy="491.9" r="2.4"/><circle cx="1217.0" cy="517.0" r="2.4"/><circle cx="1228.1" cy="556.5" r="2.4"/><circle cx="1234.3" cy="469.1" r="2.4"/><circle cx="1265.7" cy="526.3" r="2.4"/><circle cx="1207.3" cy="555.4" r="2.4"/><circle cx="1180.1" cy="597.7" r="2.4"/><circle cx="1235.8" cy="565.2" r="2.4"/><circle cx="1264.2" cy="489.5" r="2.4"/><circle cx="1282.6" cy="503.1" r="2.4"/><circle cx="1263.5" cy="504.0" r="2.4"/><circle cx="1265.8" cy="544.1" r="2.4"/><circle cx="1265.1" cy="495.4" r="2.4"/><circle cx="1212.3" cy="562.1" r="2.4"/><circle cx="1264.6" cy="511.6" r="2.4"/><circle cx="1253.6" cy="545.7" r="2.4"/><circle cx="1185.4" cy="553.1" r="2.4"/><circle cx="1244.7" cy="552.5" r="2.4"/><circle cx="1215.3" cy="512.2" r="2.4"/><circle cx="1266.4" cy="496.0" r="2.4"/><circle cx="1238.4" cy="501.7" r="2.4"/><circle cx="1251.4" cy="530.4" r="2.4"/><circle cx="1246.4" cy="523.4" r="2.4"/><circle cx="1238.7" cy="538.6" r="2.4"/><circle cx="1243.8" cy="527.3" r="2.4"/><circle cx="1315.5" cy="468.5" r="2.4"/><circle cx="1237.7" cy="483.7" r="2.4"/><circle cx="1277.9" cy="508.6" r="2.4"/><circle cx="1171.2" cy="462.9" r="2.4"/><circle cx="1280.6" cy="498.1" r="2.4"/><circle cx="1234.6" cy="548.5" r="2.4"/><circle cx="1260.6" cy="498.7" r="2.4"/><circle cx="1243.4" cy="501.7" r="2.4"/><circle cx="1221.4" cy="553.0" r="2.4"/><circle cx="1215.5" cy="502.5" r="2.4"/><circle cx="1329.5" cy="425.6" r="2.4"/><circle cx="1202.6" cy="575.1" r="2.4"/><circle cx="1281.8" cy="530.7" r="2.4"/><circle cx="1243.5" cy="550.6" r="2.4"/><circle cx="1207.0" cy="563.7" r="2.4"/><circle cx="1238.6" cy="488.4" r="2.4"/><circle cx="1277.2" cy="503.4" r="2.4"/><circle cx="1202.3" cy="556.9" r="2.4"/><circle cx="1279.7" cy="504.2" r="2.4"/><circle cx="1225.3" cy="537.0" r="2.4"/><circle cx="1269.5" cy="498.5" r="2.4"/><circle cx="1171.0" cy="605.2" r="2.4"/><circle cx="1234.3" cy="574.5" r="2.4"/><circle cx="1282.3" cy="495.6" r="2.4"/><circle cx="1211.6" cy="574.4" r="2.4"/><circle cx="1174.2" cy="571.6" r="2.4"/><circle cx="1316.9" cy="463.9" r="2.4"/><circle cx="1241.5" cy="547.6" r="2.4"/><circle cx="1270.5" cy="501.3" r="2.4"/><circle cx="1270.6" cy="513.0" r="2.4"/><circle cx="1227.5" cy="544.4" r="2.4"/><circle cx="1313.7" cy="449.1" r="2.4"/><circle cx="1255.5" cy="523.6" r="2.4"/><circle cx="1247.7" cy="509.0" r="2.4"/><circle cx="1247.7" cy="533.2" r="2.4"/><circle cx="1291.6" cy="522.7" r="2.4"/><circle cx="1146.4" cy="627.1" r="2.4"/><circle cx="1297.0" cy="486.4" r="2.4"/><circle cx="1285.3" cy="482.7" r="2.4"/><circle cx="1263.0" cy="513.9" r="2.4"/><circle cx="1198.1" cy="571.0" r="2.4"/><circle cx="1273.6" cy="508.6" r="2.4"/><circle cx="1259.8" cy="523.9" r="2.4"/><circle cx="1219.0" cy="522.6" r="2.4"/><circle cx="1244.5" cy="532.8" r="2.4"/><circle cx="1171.7" cy="527.3" r="2.4"/><circle cx="1249.6" cy="522.1" r="2.4"/><circle cx="1219.0" cy="549.6" r="2.4"/><circle cx="1274.1" cy="509.5" r="2.4"/><circle cx="1237.2" cy="550.0" r="2.4"/><circle cx="1294.9" cy="476.8" r="2.4"/><circle cx="1196.2" cy="521.6" r="2.4"/><circle cx="1276.7" cy="478.5" r="2.4"/><circle cx="1286.3" cy="546.8" r="2.4"/><circle cx="1213.8" cy="561.4" r="2.4"/><circle cx="1128.4" cy="628.8" r="2.4"/><circle cx="1220.1" cy="566.8" r="2.4"/><circle cx="1237.6" cy="509.9" r="2.4"/><circle cx="1300.3" cy="495.8" r="2.4"/><circle cx="1262.9" cy="512.8" r="2.4"/><circle cx="1213.7" cy="552.1" r="2.4"/><circle cx="1176.7" cy="526.6" r="2.4"/><circle cx="1338.8" cy="439.0" r="2.4"/><circle cx="1270.1" cy="466.4" r="2.4"/><circle cx="1204.1" cy="555.9" r="2.4"/><circle cx="1280.4" cy="517.0" r="2.4"/><circle cx="1233.0" cy="541.1" r="2.4"/><circle cx="1170.3" cy="530.0" r="2.4"/><circle cx="1321.4" cy="478.5" r="2.4"/><circle cx="1279.9" cy="493.6" r="2.4"/><circle cx="1336.2" cy="385.4" r="2.4"/><circle cx="1280.1" cy="494.4" r="2.4"/><circle cx="1229.9" cy="546.7" r="2.4"/><circle cx="1201.6" cy="565.5" r="2.4"/><circle cx="1261.0" cy="514.8" r="2.4"/><circle cx="1227.0" cy="557.8" r="2.4"/><circle cx="1240.4" cy="531.8" r="2.4"/><circle cx="1294.2" cy="485.5" r="2.4"/><circle cx="1315.7" cy="467.9" r="2.4"/><circle cx="1224.3" cy="564.2" r="2.4"/><circle cx="1218.9" cy="550.7" r="2.4"/><circle cx="1237.1" cy="420.6" r="2.4"/><circle cx="1148.1" cy="635.6" r="2.4"/><circle cx="1277.2" cy="488.4" r="2.4"/><circle cx="1294.6" cy="482.3" r="2.4"/><circle cx="1218.2" cy="551.0" r="2.4"/><circle cx="1252.1" cy="527.7" r="2.4"/><circle cx="1120.6" cy="595.2" r="2.4"/><circle cx="1240.0" cy="571.6" r="2.4"/><circle cx="1123.2" cy="597.5" r="2.4"/><circle cx="1212.2" cy="578.5" r="2.4"/><circle cx="1239.8" cy="530.7" r="2.4"/><circle cx="1370.0" cy="340.0" r="2.4"/><circle cx="1236.6" cy="582.5" r="2.4"/><circle cx="1219.6" cy="518.3" r="2.4"/><circle cx="1319.4" cy="505.8" r="2.4"/><circle cx="1233.5" cy="548.3" r="2.4"/><circle cx="1268.6" cy="505.8" r="2.4"/><circle cx="1306.7" cy="485.4" r="2.4"/><circle cx="1276.4" cy="491.9" r="2.4"/><circle cx="1206.6" cy="576.5" r="2.4"/><circle cx="1247.2" cy="521.1" r="2.4"/><circle cx="1303.9" cy="496.9" r="2.4"/><circle cx="1226.5" cy="550.0" r="2.4"/><circle cx="1199.2" cy="554.0" r="2.4"/><circle cx="1213.7" cy="513.8" r="2.4"/><circle cx="1252.0" cy="534.3" r="2.4"/><circle cx="1325.1" cy="453.5" r="2.4"/><circle cx="1192.0" cy="487.1" r="2.4"/><circle cx="1240.0" cy="495.4" r="2.4"/><circle cx="1326.6" cy="385.6" r="2.4"/><circle cx="1205.4" cy="528.2" r="2.4"/><circle cx="1193.7" cy="565.5" r="2.4"/><circle cx="1106.2" cy="601.9" r="2.4"/><circle cx="1283.1" cy="517.4" r="2.4"/><circle cx="1310.3" cy="498.5" r="2.4"/><circle cx="1216.4" cy="556.0" r="2.4"/><circle cx="1211.7" cy="572.5" r="2.4"/><circle cx="1280.4" cy="487.4" r="2.4"/><circle cx="1315.6" cy="439.7" r="2.4"/><circle cx="1402.1" cy="405.7" r="2.4"/><circle cx="1190.1" cy="590.3" r="2.4"/><circle cx="1197.5" cy="570.2" r="2.4"/><circle cx="1270.4" cy="481.8" r="2.4"/><circle cx="1286.5" cy="489.6" r="2.4"/><circle cx="1236.7" cy="535.5" r="2.4"/><circle cx="1248.2" cy="509.8" r="2.4"/><circle cx="1212.7" cy="560.9" r="2.4"/><circle cx="1232.1" cy="532.0" r="2.4"/><circle cx="1284.9" cy="488.6" r="2.4"/><circle cx="1161.9" cy="615.0" r="2.4"/><circle cx="1236.3" cy="505.4" r="2.4"/><circle cx="1245.2" cy="527.0" r="2.4"/><circle cx="1147.0" cy="554.4" r="2.4"/><circle cx="1253.4" cy="528.5" r="2.4"/><circle cx="1204.8" cy="562.0" r="2.4"/><circle cx="1221.1" cy="551.4" r="2.4"/><circle cx="1172.4" cy="632.8" r="2.4"/><circle cx="1206.0" cy="475.2" r="2.4"/><circle cx="1251.5" cy="490.6" r="2.4"/><circle cx="1207.5" cy="440.8" r="2.4"/><circle cx="1250.6" cy="549.5" r="2.4"/><circle cx="1108.1" cy="633.2" r="2.4"/><circle cx="1361.5" cy="399.3" r="2.4"/><circle cx="1219.1" cy="559.3" r="2.4"/><circle cx="1293.8" cy="489.6" r="2.4"/><circle cx="1307.3" cy="477.5" r="2.4"/><circle cx="1238.6" cy="530.6" r="2.4"/><circle cx="1214.4" cy="572.6" r="2.4"/><circle cx="1287.3" cy="491.1" r="2.4"/><circle cx="1258.4" cy="456.6" r="2.4"/><circle cx="1250.7" cy="522.7" r="2.4"/><circle cx="1291.4" cy="495.5" r="2.4"/><circle cx="1180.0" cy="502.2" r="2.4"/><circle cx="1231.7" cy="562.6" r="2.4"/><circle cx="1250.8" cy="522.2" r="2.4"/><circle cx="1254.7" cy="506.6" r="2.4"/><circle cx="1321.1" cy="445.2" r="2.4"/><circle cx="1302.5" cy="492.3" r="2.4"/><circle cx="1281.8" cy="495.8" r="2.4"/><circle cx="1136.2" cy="577.5" r="2.4"/><circle cx="1179.9" cy="556.6" r="2.4"/><circle cx="1200.6" cy="577.1" r="2.4"/><circle cx="1241.7" cy="471.2" r="2.4"/><circle cx="1152.0" cy="581.1" r="2.4"/><circle cx="1224.1" cy="563.2" r="2.4"/><circle cx="1208.9" cy="570.6" r="2.4"/><circle cx="1143.2" cy="661.3" r="2.4"/><circle cx="1182.3" cy="510.8" r="2.4"/><circle cx="1319.7" cy="470.7" r="2.4"/><circle cx="1352.9" cy="432.1" r="2.4"/><circle cx="1118.7" cy="526.6" r="2.4"/><circle cx="1331.6" cy="455.1" r="2.4"/><circle cx="1312.5" cy="457.8" r="2.4"/><circle cx="1273.3" cy="534.3" r="2.4"/><circle cx="1179.7" cy="605.6" r="2.4"/><circle cx="1286.6" cy="459.2" r="2.4"/><circle cx="1179.4" cy="561.0" r="2.4"/><circle cx="1189.3" cy="535.8" r="2.4"/><circle cx="1229.6" cy="506.5" r="2.4"/><circle cx="1228.4" cy="500.8" r="2.4"/><circle cx="1249.9" cy="523.1" r="2.4"/><circle cx="1226.9" cy="550.5" r="2.4"/><circle cx="1302.7" cy="469.3" r="2.4"/><circle cx="1255.5" cy="531.2" r="2.4"/><circle cx="1154.7" cy="567.8" r="2.4"/><circle cx="1310.9" cy="467.5" r="2.4"/><circle cx="1288.0" cy="479.6" r="2.4"/><circle cx="1276.1" cy="524.5" r="2.4"/><circle cx="1271.9" cy="504.8" r="2.4"/><circle cx="1227.5" cy="442.6" r="2.4"/><circle cx="1278.1" cy="520.4" r="2.4"/><circle cx="1268.7" cy="516.5" r="2.4"/><circle cx="1303.0" cy="428.0" r="2.4"/><circle cx="1273.3" cy="513.9" r="2.4"/><circle cx="1260.3" cy="519.2" r="2.4"/><circle cx="1226.6" cy="555.9" r="2.4"/><circle cx="1255.2" cy="514.3" r="2.4"/><circle cx="1297.6" cy="473.4" r="2.4"/><circle cx="1173.5" cy="598.5" r="2.4"/><circle cx="1248.7" cy="533.7" r="2.4"/><circle cx="1233.4" cy="552.6" r="2.4"/><circle cx="1239.3" cy="530.8" r="2.4"/><circle cx="1173.0" cy="594.7" r="2.4"/><circle cx="1328.3" cy="458.1" r="2.4"/><circle cx="1280.4" cy="497.0" r="2.4"/><circle cx="1204.2" cy="551.3" r="2.4"/><circle cx="1254.4" cy="517.0" r="2.4"/><circle cx="1282.3" cy="486.5" r="2.4"/><circle cx="1251.9" cy="497.2" r="2.4"/><circle cx="1275.2" cy="503.9" r="2.4"/><circle cx="1247.7" cy="530.1" r="2.4"/><circle cx="1249.0" cy="440.8" r="2.4"/><circle cx="1180.3" cy="582.7" r="2.4"/><circle cx="1289.5" cy="451.6" r="2.4"/><circle cx="1231.0" cy="553.2" r="2.4"/><circle cx="1179.7" cy="493.5" r="2.4"/><circle cx="1193.7" cy="585.7" r="2.4"/><circle cx="1181.7" cy="596.2" r="2.4"/><circle cx="1198.7" cy="559.7" r="2.4"/><circle cx="1258.9" cy="498.7" r="2.4"/><circle cx="1334.6" cy="435.9" r="2.4"/><circle cx="1283.7" cy="499.3" r="2.4"/><circle cx="1247.9" cy="537.0" r="2.4"/><circle cx="1229.7" cy="531.8" r="2.4"/><circle cx="1205.7" cy="490.7" r="2.4"/><circle cx="1174.0" cy="596.9" r="2.4"/><circle cx="1381.4" cy="395.0" r="2.4"/><circle cx="1319.1" cy="444.6" r="2.4"/><circle cx="1277.1" cy="427.2" r="2.4"/><circle cx="1371.3" cy="405.9" r="2.4"/><circle cx="1275.9" cy="509.8" r="2.4"/><circle cx="1216.4" cy="518.0" r="2.4"/><circle cx="1260.9" cy="475.2" r="2.4"/><circle cx="1208.3" cy="524.5" r="2.4"/><circle cx="1231.6" cy="540.5" r="2.4"/><circle cx="1305.5" cy="459.9" r="2.4"/><circle cx="1303.4" cy="455.9" r="2.4"/><circle cx="1241.8" cy="528.5" r="2.4"/><circle cx="1395.3" cy="381.6" r="2.4"/><circle cx="1192.1" cy="592.7" r="2.4"/><circle cx="1352.6" cy="433.6" r="2.4"/><circle cx="1301.9" cy="464.4" r="2.4"/><circle cx="1253.6" cy="520.9" r="2.4"/><circle cx="1219.5" cy="536.0" r="2.4"/><circle cx="1212.7" cy="567.7" r="2.4"/><circle cx="1176.8" cy="617.6" r="2.4"/><circle cx="1302.1" cy="509.1" r="2.4"/><circle cx="1312.6" cy="460.2" r="2.4"/><circle cx="1226.4" cy="565.5" r="2.4"/><circle cx="1280.2" cy="489.4" r="2.4"/><circle cx="1211.2" cy="573.0" r="2.4"/><circle cx="1257.6" cy="488.6" r="2.4"/><circle cx="1268.3" cy="518.4" r="2.4"/><circle cx="1249.9" cy="525.5" r="2.4"/><circle cx="1220.8" cy="570.1" r="2.4"/><circle cx="1205.2" cy="571.4" r="2.4"/><circle cx="1297.4" cy="538.0" r="2.4"/><circle cx="1297.0" cy="480.9" r="2.4"/><circle cx="1170.0" cy="556.9" r="2.4"/><circle cx="1206.6" cy="599.0" r="2.4"/><circle cx="1226.5" cy="508.6" r="2.4"/><circle cx="1207.0" cy="565.4" r="2.4"/><circle cx="1262.7" cy="521.2" r="2.4"/><circle cx="1291.4" cy="481.0" r="2.4"/><circle cx="1257.2" cy="402.4" r="2.4"/><circle cx="1211.3" cy="597.8" r="2.4"/><circle cx="1280.3" cy="486.4" r="2.4"/><circle cx="1274.2" cy="506.4" r="2.4"/><circle cx="1251.5" cy="501.6" r="2.4"/><circle cx="1211.6" cy="560.0" r="2.4"/><circle cx="1329.1" cy="432.3" r="2.4"/><circle cx="1362.3" cy="417.7" r="2.4"/><circle cx="1312.2" cy="455.1" r="2.4"/><circle cx="1255.7" cy="530.1" r="2.4"/><circle cx="1237.2" cy="518.3" r="2.4"/><circle cx="1249.0" cy="540.6" r="2.4"/><circle cx="1158.6" cy="573.3" r="2.4"/><circle cx="1204.5" cy="563.1" r="2.4"/><circle cx="1330.1" cy="434.7" r="2.4"/><circle cx="1254.6" cy="524.8" r="2.4"/><circle cx="1235.6" cy="489.1" r="2.4"/><circle cx="1252.8" cy="482.0" r="2.4"/><circle cx="1408.3" cy="371.1" r="2.4"/><circle cx="1215.3" cy="588.7" r="2.4"/><circle cx="1223.9" cy="545.1" r="2.4"/><circle cx="1205.3" cy="595.0" r="2.4"/><circle cx="1214.3" cy="557.9" r="2.4"/><circle cx="1303.8" cy="469.6" r="2.4"/><circle cx="1235.2" cy="551.2" r="2.4"/><circle cx="1250.5" cy="531.4" r="2.4"/><circle cx="1274.7" cy="491.1" r="2.4"/><circle cx="1295.2" cy="474.0" r="2.4"/><circle cx="1311.0" cy="455.4" r="2.4"/><circle cx="1248.9" cy="495.6" r="2.4"/><circle cx="1282.1" cy="505.7" r="2.4"/><circle cx="1197.6" cy="631.9" r="2.4"/><circle cx="1252.2" cy="530.1" r="2.4"/><circle cx="1223.4" cy="560.3" r="2.4"/><circle cx="1256.2" cy="544.5" r="2.4"/><circle cx="1265.6" cy="510.6" r="2.4"/><circle cx="1280.1" cy="496.8" r="2.4"/><circle cx="1216.4" cy="562.5" r="2.4"/><circle cx="1196.8" cy="545.9" r="2.4"/><circle cx="1214.4" cy="572.2" r="2.4"/><circle cx="1247.4" cy="488.6" r="2.4"/><circle cx="1303.9" cy="475.2" r="2.4"/><circle cx="1257.9" cy="501.6" r="2.4"/><circle cx="1203.9" cy="545.8" r="2.4"/><circle cx="1267.4" cy="517.2" r="2.4"/><circle cx="1245.1" cy="504.3" r="2.4"/><circle cx="1230.6" cy="523.5" r="2.4"/><circle cx="1188.1" cy="572.1" r="2.4"/><circle cx="1101.7" cy="532.8" r="2.4"/><circle cx="1318.1" cy="466.0" r="2.4"/><circle cx="1271.0" cy="502.8" r="2.4"/><circle cx="1280.1" cy="490.7" r="2.4"/><circle cx="1330.9" cy="462.7" r="2.4"/><circle cx="1139.1" cy="639.6" r="2.4"/><circle cx="1243.8" cy="532.6" r="2.4"/><circle cx="1288.1" cy="474.1" r="2.4"/><circle cx="1211.1" cy="543.4" r="2.4"/><circle cx="1147.8" cy="622.3" r="2.4"/><circle cx="1277.6" cy="432.8" r="2.4"/><circle cx="1167.7" cy="545.4" r="2.4"/><circle cx="1229.7" cy="520.9" r="2.4"/><circle cx="1232.9" cy="547.4" r="2.4"/><circle cx="1209.2" cy="543.9" r="2.4"/><circle cx="1256.2" cy="529.3" r="2.4"/><circle cx="1231.5" cy="552.7" r="2.4"/><circle cx="1256.4" cy="504.0" r="2.4"/><circle cx="1307.0" cy="444.4" r="2.4"/><circle cx="1228.1" cy="513.8" r="2.4"/><circle cx="1183.7" cy="605.4" r="2.4"/><circle cx="1274.6" cy="455.8" r="2.4"/><circle cx="1293.4" cy="492.5" r="2.4"/><circle cx="1326.1" cy="458.9" r="2.4"/><circle cx="1250.2" cy="505.0" r="2.4"/><circle cx="1322.8" cy="464.2" r="2.4"/><circle cx="1207.9" cy="556.9" r="2.4"/><circle cx="1252.1" cy="519.5" r="2.4"/><circle cx="1170.5" cy="616.4" r="2.4"/><circle cx="1301.7" cy="482.2" r="2.4"/><circle cx="1337.4" cy="431.7" r="2.4"/><circle cx="1075.4" cy="620.1" r="2.4"/><circle cx="1266.8" cy="411.9" r="2.4"/><circle cx="1298.4" cy="463.6" r="2.4"/><circle cx="1208.1" cy="561.7" r="2.4"/><circle cx="1282.5" cy="486.3" r="2.4"/><circle cx="1247.9" cy="528.3" r="2.4"/><circle cx="1370.9" cy="414.8" r="2.4"/><circle cx="1239.7" cy="538.2" r="2.4"/><circle cx="1266.1" cy="546.7" r="2.4"/><circle cx="1177.5" cy="600.3" r="2.4"/><circle cx="1245.8" cy="535.0" r="2.4"/><circle cx="1262.4" cy="527.8" r="2.4"/><circle cx="1274.1" cy="514.4" r="2.4"/><circle cx="1275.1" cy="491.0" r="2.4"/><circle cx="1283.7" cy="482.2" r="2.4"/><circle cx="1254.7" cy="519.2" r="2.4"/><circle cx="1154.4" cy="479.8" r="2.4"/><circle cx="1288.8" cy="465.3" r="2.4"/><circle cx="1202.6" cy="461.9" r="2.4"/><circle cx="1242.9" cy="550.6" r="2.4"/><circle cx="1250.0" cy="508.2" r="2.4"/><circle cx="1289.0" cy="519.1" r="2.4"/><circle cx="1339.5" cy="447.0" r="2.4"/><circle cx="1251.7" cy="529.7" r="2.4"/><circle cx="1305.6" cy="490.3" r="2.4"/><circle cx="1226.6" cy="506.7" r="2.4"/><circle cx="1201.7" cy="553.6" r="2.4"/><circle cx="1186.9" cy="594.0" r="2.4"/><circle cx="1261.4" cy="514.8" r="2.4"/><circle cx="1265.5" cy="517.4" r="2.4"/><circle cx="1179.9" cy="592.6" r="2.4"/><circle cx="1266.1" cy="464.3" r="2.4"/><circle cx="1261.0" cy="517.5" r="2.4"/><circle cx="1272.8" cy="507.8" r="2.4"/><circle cx="1276.1" cy="509.9" r="2.4"/><circle cx="1205.6" cy="589.3" r="2.4"/><circle cx="1168.9" cy="608.8" r="2.4"/><circle cx="1270.5" cy="494.5" r="2.4"/><circle cx="1155.3" cy="658.0" r="2.4"/><circle cx="1194.7" cy="551.5" r="2.4"/><circle cx="1255.7" cy="508.6" r="2.4"/><circle cx="1290.6" cy="495.2" r="2.4"/><circle cx="1250.6" cy="481.1" r="2.4"/><circle cx="1141.3" cy="635.1" r="2.4"/><circle cx="1261.4" cy="460.4" r="2.4"/><circle cx="1223.5" cy="540.2" r="2.4"/><circle cx="1233.6" cy="543.6" r="2.4"/><circle cx="1211.2" cy="554.9" r="2.4"/><circle cx="1134.1" cy="577.1" r="2.4"/><circle cx="1258.5" cy="507.5" r="2.4"/><circle cx="1179.0" cy="585.7" r="2.4"/><circle cx="1364.3" cy="417.1" r="2.4"/><circle cx="1324.3" cy="448.5" r="2.4"/><circle cx="1204.6" cy="558.3" r="2.4"/><circle cx="1234.3" cy="545.7" r="2.4"/><circle cx="1227.1" cy="559.0" r="2.4"/><circle cx="1295.9" cy="508.3" r="2.4"/><circle cx="1302.8" cy="462.7" r="2.4"/><circle cx="1249.1" cy="532.8" r="2.4"/><circle cx="1235.5" cy="546.4" r="2.4"/><circle cx="1118.5" cy="578.0" r="2.4"/><circle cx="1138.2" cy="633.2" r="2.4"/><circle cx="1282.7" cy="454.0" r="2.4"/><circle cx="1148.5" cy="613.7" r="2.4"/><circle cx="1401.7" cy="373.9" r="2.4"/><circle cx="1275.6" cy="490.5" r="2.4"/><circle cx="1227.3" cy="550.2" r="2.4"/><circle cx="1249.3" cy="526.1" r="2.4"/><circle cx="1211.1" cy="523.1" r="2.4"/><circle cx="1272.7" cy="512.1" r="2.4"/><circle cx="1216.8" cy="560.6" r="2.4"/><circle cx="1276.8" cy="540.4" r="2.4"/><circle cx="1252.0" cy="513.2" r="2.4"/><circle cx="1368.2" cy="406.0" r="2.4"/><circle cx="1205.0" cy="576.1" r="2.4"/><circle cx="1312.0" cy="455.8" r="2.4"/><circle cx="1210.6" cy="553.0" r="2.4"/><circle cx="1293.4" cy="491.8" r="2.4"/><circle cx="1219.0" cy="552.4" r="2.4"/><circle cx="1229.3" cy="493.2" r="2.4"/><circle cx="1260.4" cy="524.5" r="2.4"/><circle cx="1192.0" cy="550.1" r="2.4"/><circle cx="1215.8" cy="541.7" r="2.4"/><circle cx="1180.1" cy="605.8" r="2.4"/><circle cx="1299.4" cy="467.8" r="2.4"/><circle cx="1235.8" cy="556.6" r="2.4"/><circle cx="1283.8" cy="490.8" r="2.4"/><circle cx="1284.3" cy="501.6" r="2.4"/><circle cx="1184.9" cy="536.7" r="2.4"/><circle cx="1254.7" cy="424.8" r="2.4"/><circle cx="1271.5" cy="523.4" r="2.4"/><circle cx="1281.9" cy="538.0" r="2.4"/><circle cx="1278.0" cy="464.5" r="2.4"/><circle cx="1184.0" cy="589.5" r="2.4"/><circle cx="1256.5" cy="524.2" r="2.4"/><circle cx="1231.6" cy="548.9" r="2.4"/><circle cx="1184.0" cy="588.5" r="2.4"/><circle cx="1281.3" cy="504.4" r="2.4"/><circle cx="1263.1" cy="495.2" r="2.4"/><circle cx="1166.5" cy="539.1" r="2.4"/><circle cx="1303.2" cy="486.4" r="2.4"/><circle cx="1409.1" cy="371.9" r="2.4"/><circle cx="1287.3" cy="491.6" r="2.4"/><circle cx="1284.1" cy="493.1" r="2.4"/><circle cx="1252.9" cy="478.7" r="2.4"/><circle cx="1239.4" cy="536.1" r="2.4"/><circle cx="1248.4" cy="536.4" r="2.4"/><circle cx="1309.5" cy="448.8" r="2.4"/><circle cx="1217.1" cy="568.9" r="2.4"/><circle cx="1261.4" cy="520.9" r="2.4"/><circle cx="1326.3" cy="406.7" r="2.4"/><circle cx="1265.3" cy="500.9" r="2.4"/><circle cx="1200.1" cy="527.8" r="2.4"/><circle cx="1287.6" cy="503.9" r="2.4"/><circle cx="1229.7" cy="504.7" r="2.4"/><circle cx="1140.9" cy="611.3" r="2.4"/><circle cx="1317.5" cy="437.3" r="2.4"/><circle cx="1249.5" cy="531.7" r="2.4"/><circle cx="1220.7" cy="510.6" r="2.4"/><circle cx="1254.4" cy="523.8" r="2.4"/><circle cx="1190.1" cy="564.7" r="2.4"/><circle cx="1262.7" cy="525.9" r="2.4"/><circle cx="1263.1" cy="505.4" r="2.4"/><circle cx="1154.7" cy="527.2" r="2.4"/><circle cx="1221.1" cy="560.4" r="2.4"/><circle cx="1250.0" cy="513.5" r="2.4"/><circle cx="1237.5" cy="534.8" r="2.4"/><circle cx="1173.0" cy="589.4" r="2.4"/><circle cx="1209.9" cy="541.7" r="2.4"/><circle cx="1261.8" cy="513.4" r="2.4"/><circle cx="1270.4" cy="431.8" r="2.4"/><circle cx="1224.6" cy="530.0" r="2.4"/><circle cx="1244.2" cy="481.9" r="2.4"/><circle cx="1206.5" cy="563.5" r="2.4"/><circle cx="1243.0" cy="535.7" r="2.4"/><circle cx="1136.6" cy="659.5" r="2.4"/><circle cx="1258.4" cy="511.6" r="2.4"/><circle cx="1182.4" cy="601.0" r="2.4"/><circle cx="1227.6" cy="508.9" r="2.4"/><circle cx="1100.4" cy="669.7" r="2.4"/><circle cx="1299.0" cy="478.6" r="2.4"/><circle cx="1250.8" cy="515.4" r="2.4"/><circle cx="1275.0" cy="503.4" r="2.4"/><circle cx="1268.1" cy="494.6" r="2.4"/><circle cx="1222.0" cy="551.4" r="2.4"/><circle cx="1237.5" cy="530.5" r="2.4"/><circle cx="1239.6" cy="541.9" r="2.4"/><circle cx="1317.4" cy="437.2" r="2.4"/><circle cx="1244.7" cy="542.8" r="2.4"/><circle cx="1292.3" cy="489.1" r="2.4"/><circle cx="1319.0" cy="406.4" r="2.4"/><circle cx="1250.9" cy="534.8" r="2.4"/><circle cx="1310.8" cy="463.4" r="2.4"/><circle cx="1258.2" cy="509.7" r="2.4"/><circle cx="1339.1" cy="447.5" r="2.4"/><circle cx="1219.1" cy="545.8" r="2.4"/><circle cx="1211.7" cy="541.7" r="2.4"/><circle cx="1261.3" cy="517.6" r="2.4"/><circle cx="1250.4" cy="533.6" r="2.4"/><circle cx="1315.9" cy="467.6" r="2.4"/><circle cx="1291.8" cy="487.3" r="2.4"/><circle cx="1267.7" cy="538.4" r="2.4"/><circle cx="1188.7" cy="555.7" r="2.4"/><circle cx="1353.1" cy="414.2" r="2.4"/><circle cx="1232.6" cy="540.7" r="2.4"/><circle cx="1210.4" cy="570.4" r="2.4"/><circle cx="1203.1" cy="578.3" r="2.4"/><circle cx="1241.4" cy="515.7" r="2.4"/><circle cx="1203.2" cy="574.1" r="2.4"/><circle cx="1283.3" cy="503.8" r="2.4"/><circle cx="1263.8" cy="516.1" r="2.4"/><circle cx="1210.0" cy="547.2" r="2.4"/><circle cx="1266.4" cy="520.5" r="2.4"/><circle cx="1286.5" cy="483.6" r="2.4"/><circle cx="1205.2" cy="558.5" r="2.4"/><circle cx="1266.1" cy="503.2" r="2.4"/><circle cx="1313.0" cy="468.5" r="2.4"/><circle cx="1250.0" cy="518.9" r="2.4"/><circle cx="1218.6" cy="553.1" r="2.4"/><circle cx="1276.4" cy="473.7" r="2.4"/><circle cx="1209.0" cy="531.5" r="2.4"/><circle cx="1290.1" cy="474.4" r="2.4"/><circle cx="1327.6" cy="415.4" r="2.4"/><circle cx="1247.3" cy="505.3" r="2.4"/><circle cx="1242.6" cy="543.6" r="2.4"/><circle cx="1268.5" cy="510.2" r="2.4"/><circle cx="1292.6" cy="486.0" r="2.4"/><circle cx="1284.6" cy="497.0" r="2.4"/><circle cx="1161.5" cy="509.3" r="2.4"/><circle cx="1280.9" cy="370.7" r="2.4"/><circle cx="1256.6" cy="514.5" r="2.4"/><circle cx="1284.0" cy="494.2" r="2.4"/><circle cx="1233.0" cy="489.6" r="2.4"/><circle cx="1285.9" cy="482.0" r="2.4"/><circle cx="1161.6" cy="472.5" r="2.4"/><circle cx="1245.7" cy="541.1" r="2.4"/><circle cx="1265.7" cy="495.2" r="2.4"/><circle cx="1314.0" cy="466.7" r="2.4"/><circle cx="1197.9" cy="505.9" r="2.4"/><circle cx="1268.6" cy="504.1" r="2.4"/><circle cx="1273.9" cy="506.1" r="2.4"/><circle cx="1228.7" cy="563.4" r="2.4"/><circle cx="1295.8" cy="489.7" r="2.4"/><circle cx="1408.1" cy="354.3" r="2.4"/><circle cx="1225.9" cy="526.8" r="2.4"/><circle cx="1264.5" cy="510.3" r="2.4"/><circle cx="1224.4" cy="562.7" r="2.4"/><circle cx="1336.7" cy="427.3" r="2.4"/><circle cx="1259.3" cy="515.6" r="2.4"/><circle cx="1293.0" cy="489.1" r="2.4"/><circle cx="1241.4" cy="523.1" r="2.4"/><circle cx="1226.1" cy="548.0" r="2.4"/><circle cx="1094.3" cy="641.0" r="2.4"/><circle cx="1253.2" cy="504.0" r="2.4"/><circle cx="1252.6" cy="524.1" r="2.4"/><circle cx="1228.3" cy="513.1" r="2.4"/><circle cx="1246.8" cy="453.6" r="2.4"/><circle cx="1283.2" cy="498.9" r="2.4"/><circle cx="1216.4" cy="517.1" r="2.4"/><circle cx="1325.2" cy="485.2" r="2.4"/><circle cx="1269.8" cy="491.9" r="2.4"/><circle cx="1210.5" cy="564.6" r="2.4"/><circle cx="1293.3" cy="463.0" r="2.4"/><circle cx="1261.5" cy="480.7" r="2.4"/><circle cx="1167.1" cy="544.2" r="2.4"/><circle cx="1295.4" cy="467.2" r="2.4"/><circle cx="1240.8" cy="495.1" r="2.4"/><circle cx="1238.4" cy="506.8" r="2.4"/><circle cx="1194.5" cy="591.7" r="2.4"/><circle cx="1385.9" cy="420.8" r="2.4"/><circle cx="1291.5" cy="464.2" r="2.4"/><circle cx="1260.3" cy="523.2" r="2.4"/><circle cx="1201.2" cy="470.4" r="2.4"/><circle cx="1282.2" cy="464.0" r="2.4"/><circle cx="1136.2" cy="640.5" r="2.4"/><circle cx="1258.7" cy="523.1" r="2.4"/><circle cx="1288.8" cy="498.8" r="2.4"/><circle cx="1334.4" cy="435.9" r="2.4"/><circle cx="1263.9" cy="511.4" r="2.4"/><circle cx="1280.4" cy="510.0" r="2.4"/><circle cx="1257.9" cy="503.6" r="2.4"/><circle cx="1252.1" cy="521.7" r="2.4"/><circle cx="1230.2" cy="412.8" r="2.4"/><circle cx="1226.8" cy="555.9" r="2.4"/><circle cx="1138.1" cy="560.3" r="2.4"/><circle cx="1183.9" cy="598.0" r="2.4"/><circle cx="1297.8" cy="483.7" r="2.4"/><circle cx="1264.8" cy="497.9" r="2.4"/><circle cx="1269.5" cy="477.1" r="2.4"/><circle cx="1210.0" cy="529.9" r="2.4"/><circle cx="1169.6" cy="604.1" r="2.4"/><circle cx="1166.5" cy="568.9" r="2.4"/><circle cx="1211.6" cy="497.0" r="2.4"/><circle cx="1279.3" cy="503.2" r="2.4"/><circle cx="1259.9" cy="451.9" r="2.4"/><circle cx="1274.8" cy="535.9" r="2.4"/><circle cx="1278.2" cy="506.8" r="2.4"/><circle cx="1247.7" cy="531.5" r="2.4"/><circle cx="1151.1" cy="623.6" r="2.4"/><circle cx="1330.2" cy="445.7" r="2.4"/><circle cx="1263.3" cy="533.4" r="2.4"/><circle cx="1193.6" cy="590.9" r="2.4"/><circle cx="1222.7" cy="530.3" r="2.4"/><circle cx="1232.7" cy="554.4" r="2.4"/><circle cx="1281.2" cy="496.5" r="2.4"/><circle cx="1212.6" cy="535.9" r="2.4"/><circle cx="1337.5" cy="491.6" r="2.4"/><circle cx="1262.2" cy="467.9" r="2.4"/><circle cx="1257.1" cy="496.8" r="2.4"/><circle cx="1257.5" cy="468.2" r="2.4"/><circle cx="1326.8" cy="450.4" r="2.4"/><circle cx="1260.0" cy="508.4" r="2.4"/><circle cx="1231.5" cy="585.4" r="2.4"/><circle cx="1229.0" cy="550.5" r="2.4"/><circle cx="1230.8" cy="537.1" r="2.4"/><circle cx="1196.3" cy="620.1" r="2.4"/><circle cx="1300.3" cy="465.6" r="2.4"/><circle cx="1252.8" cy="511.7" r="2.4"/><circle cx="1194.7" cy="589.9" r="2.4"/><circle cx="1217.8" cy="571.8" r="2.4"/><circle cx="1303.9" cy="459.6" r="2.4"/><circle cx="1279.3" cy="533.7" r="2.4"/><circle cx="1161.3" cy="508.4" r="2.4"/><circle cx="1227.0" cy="533.0" r="2.4"/><circle cx="1278.0" cy="489.4" r="2.4"/><circle cx="1254.7" cy="520.3" r="2.4"/><circle cx="1281.9" cy="492.6" r="2.4"/><circle cx="1241.2" cy="525.2" r="2.4"/><circle cx="1211.3" cy="552.7" r="2.4"/><circle cx="1289.1" cy="521.0" r="2.4"/><circle cx="1293.8" cy="477.9" r="2.4"/><circle cx="1258.4" cy="483.0" r="2.4"/><circle cx="1284.7" cy="519.7" r="2.4"/><circle cx="1257.9" cy="494.8" r="2.4"/><circle cx="1286.4" cy="480.2" r="2.4"/><circle cx="1180.2" cy="577.5" r="2.4"/><circle cx="1233.5" cy="532.1" r="2.4"/><circle cx="1220.7" cy="550.5" r="2.4"/><circle cx="1223.1" cy="528.1" r="2.4"/><circle cx="1298.9" cy="465.4" r="2.4"/><circle cx="1199.3" cy="584.1" r="2.4"/><circle cx="1308.8" cy="477.1" r="2.4"/><circle cx="1237.1" cy="514.7" r="2.4"/><circle cx="1278.4" cy="492.7" r="2.4"/><circle cx="1249.3" cy="527.8" r="2.4"/><circle cx="1204.9" cy="526.5" r="2.4"/><circle cx="1240.6" cy="519.1" r="2.4"/><circle cx="1323.2" cy="431.8" r="2.4"/><circle cx="1282.3" cy="499.6" r="2.4"/><circle cx="1285.8" cy="477.5" r="2.4"/><circle cx="1354.7" cy="468.8" r="2.4"/><circle cx="1290.2" cy="499.7" r="2.4"/><circle cx="1241.3" cy="522.7" r="2.4"/><circle cx="1256.5" cy="533.5" r="2.4"/><circle cx="1217.6" cy="501.8" r="2.4"/><circle cx="1231.4" cy="529.2" r="2.4"/><circle cx="1269.3" cy="499.4" r="2.4"/><circle cx="1274.0" cy="514.2" r="2.4"/><circle cx="1151.3" cy="603.6" r="2.4"/><circle cx="1143.4" cy="542.7" r="2.4"/><circle cx="1214.6" cy="569.9" r="2.4"/><circle cx="1209.6" cy="576.4" r="2.4"/><circle cx="1245.5" cy="534.9" r="2.4"/><circle cx="1230.1" cy="484.2" r="2.4"/><circle cx="1221.5" cy="544.6" r="2.4"/><circle cx="1263.4" cy="512.1" r="2.4"/><circle cx="1254.2" cy="532.4" r="2.4"/><circle cx="1206.6" cy="563.2" r="2.4"/><circle cx="1311.8" cy="432.2" r="2.4"/><circle cx="1230.3" cy="517.8" r="2.4"/><circle cx="1219.0" cy="569.5" r="2.4"/><circle cx="1239.7" cy="524.1" r="2.4"/><circle cx="1142.5" cy="654.0" r="2.4"/><circle cx="1354.4" cy="465.0" r="2.4"/><circle cx="1281.0" cy="495.8" r="2.4"/><circle cx="1245.3" cy="491.9" r="2.4"/><circle cx="1162.6" cy="620.6" r="2.4"/><circle cx="1268.0" cy="481.6" r="2.4"/><circle cx="1254.3" cy="510.5" r="2.4"/><circle cx="1232.0" cy="469.2" r="2.4"/><circle cx="1248.4" cy="519.3" r="2.4"/><circle cx="1183.3" cy="601.6" r="2.4"/><circle cx="1276.3" cy="467.1" r="2.4"/><circle cx="1293.2" cy="499.7" r="2.4"/><circle cx="1276.7" cy="494.8" r="2.4"/><circle cx="1187.3" cy="551.7" r="2.4"/><circle cx="1172.4" cy="600.8" r="2.4"/><circle cx="1219.0" cy="555.0" r="2.4"/><circle cx="1267.0" cy="497.9" r="2.4"/><circle cx="1271.1" cy="515.3" r="2.4"/><circle cx="1246.3" cy="537.7" r="2.4"/><circle cx="1309.5" cy="433.8" r="2.4"/><circle cx="1270.2" cy="465.4" r="2.4"/><circle cx="1240.5" cy="550.5" r="2.4"/><circle cx="1230.3" cy="539.8" r="2.4"/><circle cx="1325.5" cy="459.1" r="2.4"/><circle cx="1265.5" cy="467.7" r="2.4"/><circle cx="1213.7" cy="525.5" r="2.4"/><circle cx="1239.8" cy="552.2" r="2.4"/><circle cx="1288.5" cy="462.3" r="2.4"/><circle cx="1248.6" cy="561.7" r="2.4"/><circle cx="1211.9" cy="560.4" r="2.4"/><circle cx="1189.6" cy="522.8" r="2.4"/><circle cx="1124.7" cy="644.1" r="2.4"/><circle cx="1261.9" cy="530.4" r="2.4"/><circle cx="1204.3" cy="547.8" r="2.4"/><circle cx="1278.6" cy="499.6" r="2.4"/><circle cx="1365.9" cy="405.2" r="2.4"/><circle cx="1198.3" cy="582.0" r="2.4"/><circle cx="1330.2" cy="464.6" r="2.4"/><circle cx="1276.8" cy="468.5" r="2.4"/><circle cx="1283.0" cy="494.4" r="2.4"/><circle cx="1228.4" cy="526.3" r="2.4"/><circle cx="1179.6" cy="552.7" r="2.4"/><circle cx="1356.2" cy="416.5" r="2.4"/><circle cx="1311.6" cy="460.3" r="2.4"/><circle cx="1236.6" cy="539.6" r="2.4"/><circle cx="1191.7" cy="555.4" r="2.4"/><circle cx="1182.1" cy="519.2" r="2.4"/><circle cx="1372.5" cy="378.6" r="2.4"/><circle cx="1285.8" cy="475.4" r="2.4"/><circle cx="1250.6" cy="527.4" r="2.4"/><circle cx="1308.9" cy="475.4" r="2.4"/><circle cx="1150.0" cy="628.0" r="2.4"/><circle cx="1206.5" cy="564.8" r="2.4"/><circle cx="1189.9" cy="541.3" r="2.4"/><circle cx="1273.0" cy="487.1" r="2.4"/><circle cx="1189.7" cy="575.4" r="2.4"/><circle cx="1234.7" cy="530.8" r="2.4"/><circle cx="1243.7" cy="528.2" r="2.4"/><circle cx="1284.5" cy="500.9" r="2.4"/><circle cx="1231.9" cy="548.6" r="2.4"/><circle cx="1175.4" cy="599.6" r="2.4"/><circle cx="1224.1" cy="546.4" r="2.4"/><circle cx="1235.4" cy="540.2" r="2.4"/><circle cx="1315.5" cy="468.4" r="2.4"/><circle cx="1317.9" cy="491.2" r="2.4"/><circle cx="1241.5" cy="532.4" r="2.4"/><circle cx="1298.2" cy="486.1" r="2.4"/><circle cx="1159.2" cy="557.8" r="2.4"/><circle cx="1258.5" cy="544.1" r="2.4"/><circle cx="1135.3" cy="661.7" r="2.4"/><circle cx="1264.3" cy="522.4" r="2.4"/><circle cx="1149.8" cy="619.7" r="2.4"/><circle cx="1221.9" cy="532.2" r="2.4"/><circle cx="1266.9" cy="478.2" r="2.4"/><circle cx="1283.2" cy="507.9" r="2.4"/><circle cx="1207.5" cy="574.9" r="2.4"/><circle cx="1156.0" cy="604.9" r="2.4"/><circle cx="1260.8" cy="523.7" r="2.4"/><circle cx="1186.9" cy="592.5" r="2.4"/><circle cx="1200.5" cy="577.1" r="2.4"/><circle cx="1228.5" cy="551.3" r="2.4"/><circle cx="1193.1" cy="564.5" r="2.4"/><circle cx="1262.8" cy="522.2" r="2.4"/><circle cx="1295.3" cy="475.8" r="2.4"/><circle cx="1174.3" cy="626.0" r="2.4"/><circle cx="1322.1" cy="438.8" r="2.4"/><circle cx="1244.5" cy="540.0" r="2.4"/><circle cx="1216.6" cy="574.2" r="2.4"/><circle cx="1205.9" cy="554.3" r="2.4"/><circle cx="1218.5" cy="571.4" r="2.4"/><circle cx="1258.5" cy="521.5" r="2.4"/><circle cx="1227.6" cy="504.6" r="2.4"/><circle cx="1240.4" cy="572.8" r="2.4"/><circle cx="1279.1" cy="481.2" r="2.4"/><circle cx="1274.1" cy="472.5" r="2.4"/><circle cx="1269.0" cy="486.7" r="2.4"/><circle cx="1217.1" cy="494.0" r="2.4"/><circle cx="1255.5" cy="493.0" r="2.4"/><circle cx="1220.9" cy="550.7" r="2.4"/><circle cx="1254.0" cy="511.5" r="2.4"/><circle cx="1246.3" cy="531.0" r="2.4"/><circle cx="1197.7" cy="556.5" r="2.4"/><circle cx="1294.4" cy="491.8" r="2.4"/><circle cx="1186.7" cy="579.0" r="2.4"/><circle cx="1197.5" cy="559.2" r="2.4"/><circle cx="1269.8" cy="461.5" r="2.4"/><circle cx="1224.2" cy="524.4" r="2.4"/><circle cx="1297.5" cy="487.8" r="2.4"/><circle cx="1211.6" cy="516.2" r="2.4"/><circle cx="1160.7" cy="620.1" r="2.4"/><circle cx="1244.5" cy="563.7" r="2.4"/><circle cx="1266.0" cy="498.0" r="2.4"/><circle cx="1265.3" cy="517.7" r="2.4"/><circle cx="1214.2" cy="571.3" r="2.4"/><circle cx="1221.6" cy="505.9" r="2.4"/><circle cx="1223.8" cy="546.1" r="2.4"/><circle cx="1267.1" cy="497.5" r="2.4"/><circle cx="1218.9" cy="540.7" r="2.4"/><circle cx="1283.8" cy="496.4" r="2.4"/><circle cx="1284.1" cy="500.6" r="2.4"/><circle cx="1293.7" cy="492.4" r="2.4"/><circle cx="1139.8" cy="632.3" r="2.4"/><circle cx="1182.3" cy="592.0" r="2.4"/><circle cx="1243.1" cy="538.9" r="2.4"/><circle cx="1251.2" cy="526.0" r="2.4"/><circle cx="1209.2" cy="565.5" r="2.4"/><circle cx="1312.2" cy="466.1" r="2.4"/><circle cx="1228.9" cy="555.9" r="2.4"/><circle cx="1345.2" cy="425.0" r="2.4"/><circle cx="1269.9" cy="504.2" r="2.4"/><circle cx="1260.3" cy="500.9" r="2.4"/><circle cx="1195.1" cy="591.4" r="2.4"/><circle cx="1306.1" cy="437.2" r="2.4"/><circle cx="1235.0" cy="507.7" r="2.4"/><circle cx="1246.1" cy="566.6" r="2.4"/><circle cx="1189.5" cy="578.1" r="2.4"/><circle cx="1191.8" cy="554.5" r="2.4"/><circle cx="1203.5" cy="569.7" r="2.4"/><circle cx="1141.0" cy="653.2" r="2.4"/><circle cx="1208.2" cy="494.8" r="2.4"/><circle cx="1290.7" cy="509.7" r="2.4"/><circle cx="1212.3" cy="583.4" r="2.4"/><circle cx="1215.5" cy="567.7" r="2.4"/><circle cx="1210.1" cy="554.5" r="2.4"/><circle cx="1252.9" cy="503.4" r="2.4"/><circle cx="1203.6" cy="573.8" r="2.4"/><circle cx="1171.5" cy="609.0" r="2.4"/><circle cx="1327.4" cy="452.2" r="2.4"/><circle cx="1210.3" cy="566.0" r="2.4"/><circle cx="1235.6" cy="540.8" r="2.4"/><circle cx="1256.0" cy="484.0" r="2.4"/><circle cx="1266.2" cy="521.1" r="2.4"/><circle cx="1295.0" cy="510.9" r="2.4"/><circle cx="1201.3" cy="585.5" r="2.4"/><circle cx="1275.5" cy="506.1" r="2.4"/><circle cx="1209.3" cy="565.7" r="2.4"/><circle cx="1220.5" cy="537.7" r="2.4"/><circle cx="1231.9" cy="520.1" r="2.4"/><circle cx="1304.9" cy="480.2" r="2.4"/><circle cx="1165.7" cy="570.2" r="2.4"/><circle cx="1303.9" cy="447.0" r="2.4"/><circle cx="1247.6" cy="465.1" r="2.4"/><circle cx="1186.6" cy="591.2" r="2.4"/><circle cx="1191.4" cy="585.8" r="2.4"/><circle cx="1263.1" cy="529.7" r="2.4"/><circle cx="1259.4" cy="506.3" r="2.4"/><circle cx="1238.3" cy="549.6" r="2.4"/><circle cx="1177.2" cy="626.4" r="2.4"/><circle cx="1227.5" cy="480.6" r="2.4"/><circle cx="1267.7" cy="500.7" r="2.4"/><circle cx="1214.9" cy="573.8" r="2.4"/><circle cx="1181.2" cy="593.2" r="2.4"/><circle cx="1211.7" cy="471.0" r="2.4"/><circle cx="1327.9" cy="452.1" r="2.4"/><circle cx="1374.5" cy="401.7" r="2.4"/><circle cx="1247.8" cy="481.3" r="2.4"/><circle cx="1234.4" cy="584.7" r="2.4"/><circle cx="1249.1" cy="543.0" r="2.4"/><circle cx="1218.6" cy="562.0" r="2.4"/><circle cx="1138.0" cy="652.7" r="2.4"/><circle cx="1287.2" cy="496.0" r="2.4"/><circle cx="1246.1" cy="531.4" r="2.4"/><circle cx="1362.8" cy="429.5" r="2.4"/><circle cx="1177.6" cy="533.3" r="2.4"/><circle cx="1203.5" cy="579.8" r="2.4"/><circle cx="1231.4" cy="537.6" r="2.4"/><circle cx="1332.4" cy="427.5" r="2.4"/><circle cx="1238.5" cy="541.0" r="2.4"/><circle cx="1235.4" cy="539.1" r="2.4"/><circle cx="1271.7" cy="510.0" r="2.4"/><circle cx="1291.7" cy="510.6" r="2.4"/><circle cx="1277.4" cy="473.7" r="2.4"/><circle cx="1228.0" cy="524.2" r="2.4"/><circle cx="1205.9" cy="578.8" r="2.4"/><circle cx="1263.8" cy="517.1" r="2.4"/><circle cx="1282.1" cy="487.8" r="2.4"/><circle cx="1257.4" cy="517.7" r="2.4"/><circle cx="1219.9" cy="549.8" r="2.4"/><circle cx="1281.7" cy="493.3" r="2.4"/><circle cx="1195.1" cy="593.3" r="2.4"/><circle cx="1215.2" cy="554.2" r="2.4"/><circle cx="1173.7" cy="582.6" r="2.4"/><circle cx="1344.2" cy="438.2" r="2.4"/><circle cx="1238.7" cy="546.1" r="2.4"/><circle cx="1192.9" cy="566.3" r="2.4"/><circle cx="1216.2" cy="562.1" r="2.4"/><circle cx="1229.5" cy="543.0" r="2.4"/><circle cx="1258.4" cy="554.3" r="2.4"/><circle cx="1382.7" cy="410.4" r="2.4"/><circle cx="1228.3" cy="512.8" r="2.4"/><circle cx="1433.4" cy="342.0" r="2.4"/><circle cx="1348.1" cy="424.0" r="2.4"/><circle cx="1189.4" cy="576.9" r="2.4"/><circle cx="1262.6" cy="503.8" r="2.4"/><circle cx="1244.3" cy="512.7" r="2.4"/><circle cx="1223.8" cy="495.9" r="2.4"/><circle cx="1220.3" cy="454.5" r="2.4"/><circle cx="1233.0" cy="554.2" r="2.4"/><circle cx="1216.0" cy="564.7" r="2.4"/><circle cx="1293.6" cy="463.7" r="2.4"/><circle cx="1301.5" cy="428.8" r="2.4"/><circle cx="1110.5" cy="672.6" r="2.4"/><circle cx="1263.5" cy="524.4" r="2.4"/><circle cx="1346.2" cy="432.8" r="2.4"/><circle cx="1243.3" cy="555.2" r="2.4"/><circle cx="1269.5" cy="524.1" r="2.4"/><circle cx="1207.2" cy="551.9" r="2.4"/><circle cx="1371.2" cy="387.9" r="2.4"/><circle cx="1207.5" cy="544.3" r="2.4"/><circle cx="1231.8" cy="544.7" r="2.4"/><circle cx="1305.2" cy="456.3" r="2.4"/><circle cx="1285.7" cy="474.9" r="2.4"/><circle cx="1235.2" cy="494.5" r="2.4"/><circle cx="1309.3" cy="445.3" r="2.4"/><circle cx="1302.1" cy="495.5" r="2.4"/><circle cx="1216.6" cy="560.0" r="2.4"/><circle cx="1245.2" cy="535.4" r="2.4"/><circle cx="1237.3" cy="539.0" r="2.4"/><circle cx="1203.7" cy="580.1" r="2.4"/><circle cx="1292.5" cy="473.9" r="2.4"/><circle cx="1235.7" cy="501.7" r="2.4"/><circle cx="1191.3" cy="536.0" r="2.4"/><circle cx="1247.7" cy="484.1" r="2.4"/><circle cx="1264.7" cy="519.8" r="2.4"/><circle cx="1243.1" cy="492.3" r="2.4"/><circle cx="1258.8" cy="492.2" r="2.4"/><circle cx="1270.2" cy="508.3" r="2.4"/><circle cx="1229.5" cy="535.3" r="2.4"/><circle cx="1300.3" cy="477.0" r="2.4"/><circle cx="1252.9" cy="477.0" r="2.4"/><circle cx="1357.3" cy="437.0" r="2.4"/><circle cx="1231.5" cy="551.0" r="2.4"/><circle cx="1270.4" cy="521.4" r="2.4"/><circle cx="1197.3" cy="597.7" r="2.4"/><circle cx="1290.4" cy="498.1" r="2.4"/><circle cx="1230.4" cy="521.5" r="2.4"/><circle cx="1141.9" cy="656.7" r="2.4"/><circle cx="1274.5" cy="492.5" r="2.4"/><circle cx="1223.9" cy="537.1" r="2.4"/><circle cx="1259.4" cy="521.5" r="2.4"/><circle cx="1232.7" cy="537.7" r="2.4"/><circle cx="1265.4" cy="509.5" r="2.4"/><circle cx="1263.2" cy="528.6" r="2.4"/><circle cx="1280.8" cy="486.0" r="2.4"/><circle cx="1170.0" cy="615.3" r="2.4"/><circle cx="1257.9" cy="527.5" r="2.4"/><circle cx="1363.8" cy="362.9" r="2.4"/><circle cx="1285.3" cy="498.5" r="2.4"/><circle cx="1247.3" cy="516.0" r="2.4"/><circle cx="1118.4" cy="602.2" r="2.4"/><circle cx="1252.6" cy="524.1" r="2.4"/><circle cx="1287.0" cy="503.1" r="2.4"/><circle cx="1272.5" cy="506.7" r="2.4"/><circle cx="1344.4" cy="440.8" r="2.4"/><circle cx="1360.5" cy="424.3" r="2.4"/><circle cx="1185.3" cy="539.6" r="2.4"/><circle cx="1429.8" cy="340.1" r="2.4"/><circle cx="1249.2" cy="521.4" r="2.4"/><circle cx="1310.6" cy="492.0" r="2.4"/><circle cx="1251.3" cy="521.6" r="2.4"/><circle cx="1220.8" cy="566.0" r="2.4"/><circle cx="1252.5" cy="517.7" r="2.4"/><circle cx="1210.9" cy="561.9" r="2.4"/><circle cx="1292.5" cy="492.2" r="2.4"/><circle cx="1227.3" cy="575.2" r="2.4"/><circle cx="1282.9" cy="500.8" r="2.4"/><circle cx="1210.7" cy="615.5" r="2.4"/><circle cx="1297.3" cy="489.6" r="2.4"/><circle cx="1202.5" cy="559.0" r="2.4"/><circle cx="1223.9" cy="543.8" r="2.4"/><circle cx="1314.7" cy="469.5" r="2.4"/><circle cx="1287.5" cy="499.6" r="2.4"/><circle cx="1289.9" cy="505.7" r="2.4"/><circle cx="1282.1" cy="511.9" r="2.4"/><circle cx="1219.7" cy="541.1" r="2.4"/><circle cx="1312.8" cy="476.1" r="2.4"/><circle cx="1192.8" cy="522.2" r="2.4"/><circle cx="1169.2" cy="594.9" r="2.4"/><circle cx="1252.8" cy="526.5" r="2.4"/><circle cx="1299.0" cy="461.6" r="2.4"/><circle cx="1236.2" cy="539.5" r="2.4"/><circle cx="1221.3" cy="553.6" r="2.4"/><circle cx="1232.7" cy="549.5" r="2.4"/><circle cx="1373.3" cy="391.6" r="2.4"/><circle cx="1267.3" cy="522.0" r="2.4"/><circle cx="1185.7" cy="599.0" r="2.4"/><circle cx="1206.4" cy="559.5" r="2.4"/><circle cx="1279.6" cy="495.5" r="2.4"/><circle cx="1272.6" cy="504.6" r="2.4"/><circle cx="1197.4" cy="564.1" r="2.4"/><circle cx="1300.6" cy="512.9" r="2.4"/><circle cx="1217.2" cy="582.1" r="2.4"/><circle cx="1210.7" cy="574.9" r="2.4"/><circle cx="1242.3" cy="513.2" r="2.4"/><circle cx="1259.7" cy="521.9" r="2.4"/><circle cx="1256.2" cy="517.7" r="2.4"/><circle cx="1227.8" cy="537.4" r="2.4"/><circle cx="1232.0" cy="554.4" r="2.4"/><circle cx="1282.9" cy="487.7" r="2.4"/><circle cx="1229.3" cy="501.3" r="2.4"/><circle cx="1340.1" cy="435.3" r="2.4"/><circle cx="1318.7" cy="463.1" r="2.4"/><circle cx="1198.2" cy="571.4" r="2.4"/><circle cx="1256.8" cy="529.5" r="2.4"/><circle cx="1220.0" cy="552.4" r="2.4"/><circle cx="1184.0" cy="512.4" r="2.4"/><circle cx="1317.1" cy="443.0" r="2.4"/><circle cx="1296.9" cy="475.3" r="2.4"/><circle cx="1206.2" cy="507.5" r="2.4"/><circle cx="1221.3" cy="536.4" r="2.4"/><circle cx="1301.8" cy="472.9" r="2.4"/><circle cx="1268.0" cy="519.1" r="2.4"/><circle cx="1227.8" cy="452.4" r="2.4"/><circle cx="1265.8" cy="509.5" r="2.4"/><circle cx="1204.7" cy="521.2" r="2.4"/><circle cx="1245.8" cy="474.9" r="2.4"/><circle cx="1166.2" cy="474.7" r="2.4"/><circle cx="1258.9" cy="521.7" r="2.4"/><circle cx="1268.2" cy="473.8" r="2.4"/><circle cx="1252.7" cy="524.5" r="2.4"/><circle cx="1195.8" cy="584.5" r="2.4"/><circle cx="1248.0" cy="491.4" r="2.4"/><circle cx="1173.7" cy="502.3" r="2.4"/><circle cx="1278.5" cy="487.8" r="2.4"/><circle cx="1296.6" cy="464.6" r="2.4"/><circle cx="1340.4" cy="437.9" r="2.4"/><circle cx="1220.8" cy="535.3" r="2.4"/><circle cx="1252.2" cy="530.2" r="2.4"/><circle cx="1290.3" cy="512.7" r="2.4"/><circle cx="1260.5" cy="521.1" r="2.4"/><circle cx="1230.7" cy="517.4" r="2.4"/><circle cx="1199.7" cy="566.3" r="2.4"/><circle cx="1256.6" cy="542.2" r="2.4"/><circle cx="1257.4" cy="457.3" r="2.4"/><circle cx="1294.9" cy="488.7" r="2.4"/><circle cx="1313.0" cy="471.6" r="2.4"/><circle cx="1265.5" cy="519.2" r="2.4"/><circle cx="1219.2" cy="570.6" r="2.4"/><circle cx="1300.9" cy="481.1" r="2.4"/><circle cx="1207.2" cy="572.1" r="2.4"/><circle cx="1205.4" cy="551.1" r="2.4"/><circle cx="1274.1" cy="498.9" r="2.4"/><circle cx="1271.7" cy="504.5" r="2.4"/><circle cx="1249.6" cy="536.8" r="2.4"/><circle cx="1234.3" cy="551.8" r="2.4"/><circle cx="1287.8" cy="488.4" r="2.4"/><circle cx="1241.5" cy="541.5" r="2.4"/><circle cx="1224.5" cy="550.4" r="2.4"/><circle cx="1322.9" cy="491.4" r="2.4"/><circle cx="1224.3" cy="565.4" r="2.4"/><circle cx="1301.1" cy="448.6" r="2.4"/><circle cx="1293.9" cy="344.9" r="2.4"/><circle cx="1308.8" cy="473.0" r="2.4"/><circle cx="1275.2" cy="509.8" r="2.4"/><circle cx="1272.8" cy="513.8" r="2.4"/><circle cx="1223.5" cy="537.5" r="2.4"/><circle cx="1275.0" cy="488.2" r="2.4"/><circle cx="1271.4" cy="510.8" r="2.4"/><circle cx="1259.4" cy="514.5" r="2.4"/><circle cx="1192.2" cy="508.9" r="2.4"/><circle cx="1269.7" cy="496.7" r="2.4"/><circle cx="1225.7" cy="491.2" r="2.4"/><circle cx="1308.9" cy="456.8" r="2.4"/><circle cx="1229.1" cy="557.2" r="2.4"/><circle cx="1251.3" cy="510.1" r="2.4"/><circle cx="1228.1" cy="565.7" r="2.4"/><circle cx="1288.5" cy="496.9" r="2.4"/><circle cx="1237.7" cy="521.8" r="2.4"/><circle cx="1199.3" cy="562.7" r="2.4"/><circle cx="1316.6" cy="461.6" r="2.4"/><circle cx="1183.7" cy="594.9" r="2.4"/><circle cx="1193.3" cy="481.6" r="2.4"/><circle cx="1243.7" cy="542.2" r="2.4"/><circle cx="1263.6" cy="536.2" r="2.4"/><circle cx="1254.7" cy="521.2" r="2.4"/><circle cx="1186.1" cy="589.4" r="2.4"/><circle cx="1082.0" cy="667.4" r="2.4"/><circle cx="1360.4" cy="368.7" r="2.4"/><circle cx="1285.7" cy="503.4" r="2.4"/><circle cx="1280.2" cy="488.6" r="2.4"/><circle cx="1269.1" cy="518.1" r="2.4"/><circle cx="1255.7" cy="533.7" r="2.4"/><circle cx="1254.1" cy="419.5" r="2.4"/><circle cx="1247.4" cy="534.9" r="2.4"/><circle cx="1158.6" cy="545.9" r="2.4"/><circle cx="1265.7" cy="522.9" r="2.4"/><circle cx="1259.8" cy="500.1" r="2.4"/><circle cx="1201.7" cy="562.1" r="2.4"/><circle cx="1207.2" cy="554.2" r="2.4"/><circle cx="1276.8" cy="488.3" r="2.4"/><circle cx="1433.3" cy="325.8" r="2.4"/><circle cx="1143.1" cy="530.0" r="2.4"/><circle cx="1249.0" cy="549.9" r="2.4"/><circle cx="1191.2" cy="594.0" r="2.4"/><circle cx="1265.3" cy="485.0" r="2.4"/><circle cx="1319.7" cy="471.3" r="2.4"/><circle cx="1264.9" cy="521.6" r="2.4"/><circle cx="1334.2" cy="452.3" r="2.4"/><circle cx="1322.9" cy="433.8" r="2.4"/><circle cx="1329.5" cy="444.0" r="2.4"/><circle cx="1216.9" cy="523.6" r="2.4"/><circle cx="1249.9" cy="521.5" r="2.4"/><circle cx="1313.7" cy="472.7" r="2.4"/><circle cx="1202.8" cy="583.8" r="2.4"/><circle cx="1204.9" cy="521.3" r="2.4"/><circle cx="1332.3" cy="444.9" r="2.4"/><circle cx="1254.5" cy="524.8" r="2.4"/><circle cx="1278.6" cy="509.4" r="2.4"/><circle cx="1205.2" cy="460.9" r="2.4"/><circle cx="1297.9" cy="440.6" r="2.4"/><circle cx="1248.1" cy="534.7" r="2.4"/><circle cx="1283.2" cy="488.5" r="2.4"/><circle cx="1189.5" cy="592.1" r="2.4"/><circle cx="1291.2" cy="492.8" r="2.4"/><circle cx="1319.4" cy="459.3" r="2.4"/><circle cx="1258.5" cy="520.8" r="2.4"/><circle cx="1340.9" cy="447.2" r="2.4"/><circle cx="1273.0" cy="508.3" r="2.4"/><circle cx="1278.3" cy="505.9" r="2.4"/><circle cx="1261.4" cy="534.3" r="2.4"/><circle cx="1348.6" cy="375.4" r="2.4"/><circle cx="1297.8" cy="486.5" r="2.4"/><circle cx="1248.5" cy="530.5" r="2.4"/><circle cx="1243.9" cy="554.4" r="2.4"/><circle cx="1291.4" cy="482.8" r="2.4"/><circle cx="1343.1" cy="405.9" r="2.4"/><circle cx="1273.5" cy="500.7" r="2.4"/><circle cx="1177.3" cy="592.8" r="2.4"/><circle cx="1304.6" cy="469.5" r="2.4"/><circle cx="1263.5" cy="497.6" r="2.4"/><circle cx="1373.7" cy="418.9" r="2.4"/><circle cx="1316.8" cy="470.8" r="2.4"/><circle cx="1343.9" cy="446.7" r="2.4"/><circle cx="1263.5" cy="507.8" r="2.4"/><circle cx="1183.0" cy="543.3" r="2.4"/><circle cx="1231.9" cy="543.3" r="2.4"/><circle cx="1163.8" cy="606.0" r="2.4"/><circle cx="1286.9" cy="477.2" r="2.4"/><circle cx="1236.0" cy="529.1" r="2.4"/><circle cx="1258.7" cy="551.4" r="2.4"/><circle cx="1128.4" cy="537.3" r="2.4"/><circle cx="1250.4" cy="531.5" r="2.4"/><circle cx="1225.1" cy="549.4" r="2.4"/><circle cx="1238.8" cy="546.1" r="2.4"/><circle cx="1227.8" cy="546.8" r="2.4"/><circle cx="1214.1" cy="581.6" r="2.4"/><circle cx="1217.8" cy="531.9" r="2.4"/><circle cx="1232.3" cy="543.2" r="2.4"/><circle cx="1229.3" cy="539.9" r="2.4"/><circle cx="1265.8" cy="443.4" r="2.4"/><circle cx="1232.6" cy="522.9" r="2.4"/><circle cx="1223.6" cy="546.0" r="2.4"/><circle cx="1242.4" cy="526.4" r="2.4"/><circle cx="1215.7" cy="554.0" r="2.4"/><circle cx="1285.4" cy="484.2" r="2.4"/><circle cx="1203.4" cy="520.8" r="2.4"/><circle cx="1209.7" cy="574.3" r="2.4"/><circle cx="1300.4" cy="508.0" r="2.4"/><circle cx="1111.3" cy="523.2" r="2.4"/><circle cx="1196.2" cy="563.9" r="2.4"/><circle cx="1180.3" cy="592.8" r="2.4"/><circle cx="1249.0" cy="549.3" r="2.4"/><circle cx="1319.9" cy="465.7" r="2.4"/><circle cx="1255.5" cy="525.2" r="2.4"/><circle cx="1208.7" cy="541.1" r="2.4"/><circle cx="1218.2" cy="557.8" r="2.4"/><circle cx="1224.6" cy="562.7" r="2.4"/><circle cx="1253.8" cy="528.0" r="2.4"/><circle cx="1141.6" cy="625.1" r="2.4"/><circle cx="1278.3" cy="500.3" r="2.4"/><circle cx="1181.3" cy="548.8" r="2.4"/><circle cx="1346.2" cy="402.3" r="2.4"/><circle cx="1273.5" cy="504.3" r="2.4"/><circle cx="1196.8" cy="584.4" r="2.4"/><circle cx="1215.3" cy="576.1" r="2.4"/><circle cx="1265.5" cy="494.2" r="2.4"/><circle cx="1227.9" cy="435.2" r="2.4"/><circle cx="1222.5" cy="556.0" r="2.4"/><circle cx="1277.5" cy="501.7" r="2.4"/><circle cx="1281.0" cy="525.9" r="2.4"/><circle cx="1275.5" cy="512.3" r="2.4"/><circle cx="1152.4" cy="620.7" r="2.4"/><circle cx="1239.0" cy="535.3" r="2.4"/><circle cx="1229.7" cy="564.6" r="2.4"/><circle cx="1212.9" cy="519.5" r="2.4"/><circle cx="1224.5" cy="551.8" r="2.4"/><circle cx="1222.9" cy="572.6" r="2.4"/><circle cx="1311.0" cy="465.7" r="2.4"/><circle cx="1203.5" cy="533.7" r="2.4"/><circle cx="1258.4" cy="478.5" r="2.4"/><circle cx="1276.9" cy="507.1" r="2.4"/><circle cx="1237.9" cy="452.2" r="2.4"/><circle cx="1239.1" cy="545.8" r="2.4"/><circle cx="1278.0" cy="519.0" r="2.4"/><circle cx="1193.9" cy="524.5" r="2.4"/><circle cx="1193.8" cy="567.1" r="2.4"/><circle cx="1287.4" cy="479.3" r="2.4"/><circle cx="1219.1" cy="563.0" r="2.4"/><circle cx="1270.0" cy="509.9" r="2.4"/><circle cx="1269.7" cy="503.4" r="2.4"/><circle cx="1276.3" cy="507.9" r="2.4"/><circle cx="1256.8" cy="515.3" r="2.4"/><circle cx="1134.1" cy="642.8" r="2.4"/><circle cx="1325.8" cy="455.1" r="2.4"/><circle cx="1289.0" cy="470.9" r="2.4"/><circle cx="1231.6" cy="531.4" r="2.4"/><circle cx="1129.5" cy="641.6" r="2.4"/><circle cx="1226.9" cy="531.0" r="2.4"/><circle cx="1247.4" cy="513.6" r="2.4"/><circle cx="1224.5" cy="518.7" r="2.4"/><circle cx="1221.5" cy="552.0" r="2.4"/><circle cx="1198.5" cy="587.6" r="2.4"/><circle cx="1253.8" cy="510.8" r="2.4"/><circle cx="1185.1" cy="563.3" r="2.4"/><circle cx="1281.1" cy="464.5" r="2.4"/><circle cx="1233.7" cy="529.3" r="2.4"/><circle cx="1199.7" cy="500.1" r="2.4"/><circle cx="1267.6" cy="510.3" r="2.4"/><circle cx="1279.1" cy="487.8" r="2.4"/><circle cx="1213.6" cy="552.7" r="2.4"/><circle cx="1329.8" cy="445.1" r="2.4"/><circle cx="1212.8" cy="572.6" r="2.4"/><circle cx="1249.8" cy="528.6" r="2.4"/><circle cx="1237.7" cy="549.4" r="2.4"/><circle cx="1088.4" cy="694.4" r="2.4"/><circle cx="1249.6" cy="535.7" r="2.4"/><circle cx="1235.4" cy="460.0" r="2.4"/><circle cx="1242.0" cy="531.0" r="2.4"/><circle cx="1240.0" cy="544.0" r="2.4"/><circle cx="1273.7" cy="509.4" r="2.4"/><circle cx="1255.6" cy="492.3" r="2.4"/><circle cx="1131.1" cy="647.7" r="2.4"/><circle cx="1231.8" cy="527.2" r="2.4"/><circle cx="1239.0" cy="537.5" r="2.4"/><circle cx="1249.4" cy="452.5" r="2.4"/><circle cx="1222.3" cy="559.1" r="2.4"/><circle cx="1311.3" cy="472.0" r="2.4"/><circle cx="1196.1" cy="556.8" r="2.4"/><circle cx="1206.5" cy="589.3" r="2.4"/><circle cx="1333.2" cy="452.5" r="2.4"/><circle cx="1243.8" cy="532.5" r="2.4"/><circle cx="1333.5" cy="451.9" r="2.4"/><circle cx="1275.5" cy="509.1" r="2.4"/><circle cx="1295.8" cy="443.1" r="2.4"/><circle cx="1293.0" cy="481.8" r="2.4"/><circle cx="1322.0" cy="457.4" r="2.4"/><circle cx="1193.7" cy="569.7" r="2.4"/><circle cx="1235.0" cy="538.3" r="2.4"/><circle cx="1219.9" cy="543.2" r="2.4"/><circle cx="1261.1" cy="540.3" r="2.4"/><circle cx="1260.6" cy="547.6" r="2.4"/><circle cx="1160.9" cy="625.8" r="2.4"/><circle cx="1265.2" cy="504.7" r="2.4"/><circle cx="1326.6" cy="433.6" r="2.4"/><circle cx="1290.4" cy="493.7" r="2.4"/><circle cx="1237.2" cy="540.8" r="2.4"/><circle cx="1271.2" cy="505.0" r="2.4"/><circle cx="1197.8" cy="515.6" r="2.4"/><circle cx="1263.9" cy="501.2" r="2.4"/><circle cx="1292.4" cy="488.8" r="2.4"/><circle cx="1383.2" cy="388.2" r="2.4"/><circle cx="1196.3" cy="464.0" r="2.4"/><circle cx="1187.0" cy="546.7" r="2.4"/><circle cx="1213.0" cy="595.9" r="2.4"/><circle cx="1278.4" cy="499.0" r="2.4"/><circle cx="1193.9" cy="591.2" r="2.4"/><circle cx="1263.2" cy="526.1" r="2.4"/><circle cx="1284.3" cy="474.3" r="2.4"/><circle cx="1247.4" cy="476.9" r="2.4"/><circle cx="1199.4" cy="594.1" r="2.4"/><circle cx="1162.4" cy="622.6" r="2.4"/><circle cx="1175.3" cy="616.0" r="2.4"/><circle cx="1265.6" cy="464.9" r="2.4"/><circle cx="1282.0" cy="527.6" r="2.4"/><circle cx="1182.9" cy="603.8" r="2.4"/><circle cx="1242.5" cy="559.0" r="2.4"/><circle cx="1221.6" cy="545.5" r="2.4"/><circle cx="1129.2" cy="638.0" r="2.4"/><circle cx="1167.4" cy="606.2" r="2.4"/><circle cx="1253.3" cy="535.1" r="2.4"/><circle cx="1309.6" cy="437.1" r="2.4"/><circle cx="1236.3" cy="548.8" r="2.4"/><circle cx="1245.7" cy="520.7" r="2.4"/><circle cx="1181.8" cy="532.0" r="2.4"/><circle cx="1336.7" cy="468.5" r="2.4"/><circle cx="1322.7" cy="446.1" r="2.4"/><circle cx="1259.6" cy="521.2" r="2.4"/><circle cx="1322.2" cy="462.9" r="2.4"/><circle cx="1088.4" cy="645.5" r="2.4"/><circle cx="1282.9" cy="497.9" r="2.4"/><circle cx="1212.3" cy="562.6" r="2.4"/><circle cx="1300.4" cy="479.5" r="2.4"/><circle cx="1180.5" cy="540.6" r="2.4"/><circle cx="1296.6" cy="457.4" r="2.4"/><circle cx="1285.3" cy="477.1" r="2.4"/><circle cx="1360.6" cy="412.4" r="2.4"/><circle cx="1187.5" cy="587.2" r="2.4"/><circle cx="1242.9" cy="526.8" r="2.4"/><circle cx="1190.1" cy="598.5" r="2.4"/><circle cx="1283.5" cy="487.9" r="2.4"/><circle cx="1271.8" cy="504.0" r="2.4"/><circle cx="1247.4" cy="503.6" r="2.4"/><circle cx="1292.9" cy="499.7" r="2.4"/><circle cx="1298.9" cy="476.6" r="2.4"/><circle cx="1216.3" cy="491.1" r="2.4"/><circle cx="1281.7" cy="504.6" r="2.4"/><circle cx="1226.0" cy="564.3" r="2.4"/><circle cx="1055.5" cy="621.3" r="2.4"/><circle cx="1225.3" cy="551.9" r="2.4"/><circle cx="1270.7" cy="495.5" r="2.4"/><circle cx="1200.3" cy="467.5" r="2.4"/><circle cx="1273.0" cy="501.4" r="2.4"/><circle cx="1305.7" cy="485.9" r="2.4"/><circle cx="1205.4" cy="558.6" r="2.4"/><circle cx="1294.7" cy="492.6" r="2.4"/><circle cx="1242.4" cy="538.2" r="2.4"/><circle cx="1167.2" cy="532.6" r="2.4"/><circle cx="1289.3" cy="511.3" r="2.4"/><circle cx="1329.0" cy="438.5" r="2.4"/><circle cx="1132.9" cy="669.1" r="2.4"/><circle cx="1171.5" cy="599.1" r="2.4"/><circle cx="1297.2" cy="490.5" r="2.4"/><circle cx="1215.2" cy="558.1" r="2.4"/><circle cx="1268.7" cy="503.6" r="2.4"/><circle cx="1381.7" cy="402.9" r="2.4"/><circle cx="1260.9" cy="514.9" r="2.4"/><circle cx="1247.1" cy="534.8" r="2.4"/><circle cx="1112.2" cy="643.9" r="2.4"/><circle cx="1248.9" cy="559.7" r="2.4"/><circle cx="1229.2" cy="553.0" r="2.4"/><circle cx="1237.3" cy="542.2" r="2.4"/><circle cx="1233.4" cy="486.7" r="2.4"/><circle cx="1331.2" cy="433.2" r="2.4"/><circle cx="1292.5" cy="452.1" r="2.4"/><circle cx="1275.2" cy="510.2" r="2.4"/><circle cx="1282.5" cy="489.2" r="2.4"/><circle cx="1230.7" cy="544.3" r="2.4"/><circle cx="1163.6" cy="574.0" r="2.4"/><circle cx="1214.2" cy="555.0" r="2.4"/><circle cx="1216.3" cy="568.2" r="2.4"/><circle cx="1255.2" cy="530.1" r="2.4"/><circle cx="1152.0" cy="605.3" r="2.4"/><circle cx="1239.3" cy="516.0" r="2.4"/><circle cx="1294.0" cy="470.6" r="2.4"/><circle cx="1252.0" cy="479.1" r="2.4"/><circle cx="1303.0" cy="467.3" r="2.4"/><circle cx="1304.9" cy="479.5" r="2.4"/><circle cx="1285.0" cy="463.0" r="2.4"/><circle cx="1227.5" cy="492.6" r="2.4"/><circle cx="1266.0" cy="490.9" r="2.4"/><circle cx="1324.9" cy="466.6" r="2.4"/><circle cx="1388.0" cy="396.1" r="2.4"/><circle cx="1238.9" cy="519.9" r="2.4"/><circle cx="1255.8" cy="528.1" r="2.4"/><circle cx="1285.1" cy="517.8" r="2.4"/><circle cx="1249.2" cy="534.6" r="2.4"/><circle cx="1244.2" cy="566.0" r="2.4"/><circle cx="1275.8" cy="507.4" r="2.4"/><circle cx="1271.7" cy="499.0" r="2.4"/><circle cx="1232.4" cy="551.0" r="2.4"/><circle cx="1239.2" cy="534.9" r="2.4"/><circle cx="1293.1" cy="488.0" r="2.4"/><circle cx="1227.7" cy="556.2" r="2.4"/><circle cx="1340.9" cy="443.2" r="2.4"/><circle cx="1352.6" cy="396.8" r="2.4"/><circle cx="1190.8" cy="526.0" r="2.4"/><circle cx="1289.1" cy="495.2" r="2.4"/><circle cx="1258.9" cy="503.7" r="2.4"/><circle cx="1259.9" cy="514.0" r="2.4"/><circle cx="1206.0" cy="537.8" r="2.4"/><circle cx="1275.7" cy="448.2" r="2.4"/><circle cx="1255.1" cy="526.6" r="2.4"/><circle cx="1244.4" cy="493.0" r="2.4"/><circle cx="1215.6" cy="558.6" r="2.4"/><circle cx="1252.7" cy="516.3" r="2.4"/><circle cx="1196.2" cy="583.3" r="2.4"/><circle cx="1184.0" cy="588.0" r="2.4"/><circle cx="1190.5" cy="586.7" r="2.4"/><circle cx="1206.3" cy="572.6" r="2.4"/><circle cx="1189.5" cy="551.8" r="2.4"/><circle cx="1317.6" cy="456.2" r="2.4"/><circle cx="1229.4" cy="571.3" r="2.4"/><circle cx="1241.4" cy="526.4" r="2.4"/><circle cx="1223.5" cy="548.8" r="2.4"/><circle cx="1254.9" cy="526.8" r="2.4"/><circle cx="1306.0" cy="479.8" r="2.4"/><circle cx="1178.4" cy="592.9" r="2.4"/><circle cx="1206.5" cy="499.7" r="2.4"/><circle cx="1316.9" cy="466.2" r="2.4"/><circle cx="1226.7" cy="550.1" r="2.4"/><circle cx="1292.3" cy="485.6" r="2.4"/><circle cx="1141.7" cy="602.2" r="2.4"/><circle cx="1237.9" cy="540.1" r="2.4"/><circle cx="1333.7" cy="458.9" r="2.4"/><circle cx="1214.0" cy="558.4" r="2.4"/><circle cx="1224.3" cy="532.4" r="2.4"/><circle cx="1210.4" cy="575.4" r="2.4"/><circle cx="1243.9" cy="529.3" r="2.4"/><circle cx="1238.1" cy="539.9" r="2.4"/><circle cx="1193.1" cy="592.8" r="2.4"/><circle cx="1325.2" cy="456.2" r="2.4"/><circle cx="1236.5" cy="542.6" r="2.4"/><circle cx="1290.9" cy="473.8" r="2.4"/><circle cx="1255.3" cy="492.9" r="2.4"/><circle cx="1277.0" cy="492.4" r="2.4"/><circle cx="1236.2" cy="541.5" r="2.4"/><circle cx="1287.2" cy="498.3" r="2.4"/><circle cx="1210.8" cy="581.2" r="2.4"/><circle cx="1291.1" cy="500.8" r="2.4"/><circle cx="1244.0" cy="533.2" r="2.4"/><circle cx="1228.5" cy="512.0" r="2.4"/><circle cx="1251.6" cy="479.3" r="2.4"/><circle cx="1217.4" cy="533.9" r="2.4"/><circle cx="1231.9" cy="554.0" r="2.4"/><circle cx="1285.9" cy="490.4" r="2.4"/><circle cx="1183.9" cy="594.0" r="2.4"/><circle cx="1254.4" cy="487.1" r="2.4"/><circle cx="1209.4" cy="579.1" r="2.4"/><circle cx="1229.9" cy="556.3" r="2.4"/><circle cx="1209.6" cy="570.1" r="2.4"/><circle cx="1225.5" cy="505.6" r="2.4"/><circle cx="1250.2" cy="481.4" r="2.4"/><circle cx="1276.7" cy="444.7" r="2.4"/><circle cx="1264.1" cy="517.7" r="2.4"/><circle cx="1242.7" cy="538.3" r="2.4"/><circle cx="1201.6" cy="451.5" r="2.4"/><circle cx="1269.9" cy="485.9" r="2.4"/><circle cx="1262.3" cy="518.8" r="2.4"/><circle cx="1240.0" cy="546.3" r="2.4"/><circle cx="1266.0" cy="499.9" r="2.4"/><circle cx="1274.0" cy="509.1" r="2.4"/><circle cx="1239.2" cy="540.6" r="2.4"/><circle cx="1259.9" cy="515.5" r="2.4"/><circle cx="1284.7" cy="484.0" r="2.4"/><circle cx="1237.4" cy="546.4" r="2.4"/><circle cx="1181.4" cy="602.3" r="2.4"/><circle cx="1194.8" cy="535.9" r="2.4"/><circle cx="1174.8" cy="459.2" r="2.4"/><circle cx="1217.9" cy="568.6" r="2.4"/><circle cx="1252.0" cy="553.0" r="2.4"/><circle cx="1175.3" cy="593.6" r="2.4"/><circle cx="1200.2" cy="571.2" r="2.4"/><circle cx="1264.8" cy="502.2" r="2.4"/><circle cx="1263.8" cy="517.5" r="2.4"/><circle cx="1162.3" cy="592.4" r="2.4"/><circle cx="1164.0" cy="479.3" r="2.4"/><circle cx="1190.5" cy="575.7" r="2.4"/><circle cx="1233.4" cy="528.1" r="2.4"/><circle cx="1242.3" cy="526.2" r="2.4"/><circle cx="1177.3" cy="573.3" r="2.4"/><circle cx="1311.0" cy="471.9" r="2.4"/><circle cx="1295.9" cy="513.6" r="2.4"/><circle cx="1309.2" cy="409.3" r="2.4"/><circle cx="1199.8" cy="580.0" r="2.4"/><circle cx="1261.2" cy="524.3" r="2.4"/><circle cx="1252.2" cy="529.3" r="2.4"/><circle cx="1235.0" cy="528.7" r="2.4"/><circle cx="1151.9" cy="605.2" r="2.4"/><circle cx="1388.4" cy="395.0" r="2.4"/><circle cx="1192.1" cy="580.2" r="2.4"/><circle cx="1342.0" cy="444.7" r="2.4"/><circle cx="1291.7" cy="509.8" r="2.4"/><circle cx="1225.8" cy="550.6" r="2.4"/><circle cx="1357.7" cy="428.9" r="2.4"/><circle cx="1210.6" cy="446.5" r="2.4"/><circle cx="1193.6" cy="587.6" r="2.4"/><circle cx="1221.9" cy="532.8" r="2.4"/><circle cx="1313.8" cy="464.2" r="2.4"/><circle cx="1239.1" cy="545.8" r="2.4"/><circle cx="1162.1" cy="581.0" r="2.4"/><circle cx="1275.2" cy="468.0" r="2.4"/><circle cx="1145.9" cy="655.5" r="2.4"/><circle cx="1225.4" cy="583.3" r="2.4"/><circle cx="1266.9" cy="524.9" r="2.4"/><circle cx="1205.8" cy="571.7" r="2.4"/><circle cx="1170.0" cy="630.4" r="2.4"/><circle cx="1255.2" cy="525.0" r="2.4"/><circle cx="1202.1" cy="568.7" r="2.4"/><circle cx="1264.9" cy="507.4" r="2.4"/><circle cx="1255.4" cy="481.7" r="2.4"/><circle cx="1311.5" cy="466.8" r="2.4"/><circle cx="1275.1" cy="494.9" r="2.4"/><circle cx="1257.3" cy="486.4" r="2.4"/><circle cx="1254.6" cy="522.7" r="2.4"/><circle cx="1233.8" cy="547.9" r="2.4"/><circle cx="1275.0" cy="496.6" r="2.4"/><circle cx="1206.6" cy="516.9" r="2.4"/><circle cx="1269.5" cy="494.2" r="2.4"/><circle cx="1162.9" cy="650.5" r="2.4"/><circle cx="1273.2" cy="509.9" r="2.4"/><circle cx="1241.1" cy="543.8" r="2.4"/><circle cx="1246.5" cy="477.1" r="2.4"/><circle cx="1323.3" cy="449.9" r="2.4"/><circle cx="1172.6" cy="621.7" r="2.4"/><circle cx="1232.9" cy="562.1" r="2.4"/><circle cx="1246.8" cy="571.6" r="2.4"/><circle cx="1339.2" cy="415.1" r="2.4"/><circle cx="1126.7" cy="548.5" r="2.4"/><circle cx="1249.8" cy="530.6" r="2.4"/><circle cx="1339.6" cy="401.9" r="2.4"/><circle cx="1221.7" cy="574.0" r="2.4"/><circle cx="1208.8" cy="556.6" r="2.4"/><circle cx="1272.2" cy="492.7" r="2.4"/><circle cx="1240.4" cy="544.2" r="2.4"/><circle cx="1186.9" cy="598.2" r="2.4"/><circle cx="1279.0" cy="490.2" r="2.4"/><circle cx="1221.0" cy="565.3" r="2.4"/><circle cx="1224.3" cy="560.6" r="2.4"/><circle cx="1230.8" cy="548.6" r="2.4"/><circle cx="1217.1" cy="558.5" r="2.4"/><circle cx="1186.7" cy="568.9" r="2.4"/><circle cx="1255.5" cy="508.4" r="2.4"/><circle cx="1166.9" cy="612.7" r="2.4"/><circle cx="1206.4" cy="571.3" r="2.4"/><circle cx="1312.8" cy="411.4" r="2.4"/><circle cx="1225.6" cy="556.2" r="2.4"/><circle cx="1181.9" cy="572.5" r="2.4"/><circle cx="1273.7" cy="492.9" r="2.4"/><circle cx="1299.0" cy="493.5" r="2.4"/><circle cx="1258.0" cy="522.8" r="2.4"/><circle cx="1185.0" cy="570.2" r="2.4"/><circle cx="1351.7" cy="425.2" r="2.4"/><circle cx="1253.8" cy="527.9" r="2.4"/><circle cx="1183.9" cy="585.6" r="2.4"/><circle cx="1218.4" cy="566.0" r="2.4"/><circle cx="1297.7" cy="482.4" r="2.4"/><circle cx="1174.4" cy="616.9" r="2.4"/><circle cx="1164.5" cy="613.3" r="2.4"/><circle cx="1381.2" cy="390.4" r="2.4"/><circle cx="1296.5" cy="502.0" r="2.4"/><circle cx="1223.2" cy="479.4" r="2.4"/><circle cx="1285.9" cy="551.0" r="2.4"/><circle cx="1285.2" cy="503.3" r="2.4"/><circle cx="1277.1" cy="483.2" r="2.4"/><circle cx="1214.3" cy="551.3" r="2.4"/><circle cx="1242.5" cy="481.0" r="2.4"/><circle cx="1308.2" cy="501.6" r="2.4"/><circle cx="1217.6" cy="553.3" r="2.4"/><circle cx="1247.1" cy="490.2" r="2.4"/><circle cx="1160.8" cy="572.4" r="2.4"/><circle cx="1128.6" cy="505.7" r="2.4"/><circle cx="1280.0" cy="496.7" r="2.4"/><circle cx="1219.1" cy="542.5" r="2.4"/><circle cx="1246.3" cy="538.3" r="2.4"/><circle cx="1257.9" cy="511.9" r="2.4"/><circle cx="1339.8" cy="437.5" r="2.4"/><circle cx="1283.5" cy="502.7" r="2.4"/><circle cx="1228.5" cy="574.7" r="2.4"/><circle cx="1269.6" cy="511.9" r="2.4"/><circle cx="1239.2" cy="540.5" r="2.4"/><circle cx="1318.0" cy="391.8" r="2.4"/><circle cx="1258.9" cy="485.7" r="2.4"/><circle cx="1269.4" cy="475.6" r="2.4"/><circle cx="1244.6" cy="556.0" r="2.4"/><circle cx="1266.4" cy="489.7" r="2.4"/><circle cx="1189.8" cy="567.2" r="2.4"/><circle cx="1212.9" cy="557.6" r="2.4"/><circle cx="1266.8" cy="503.2" r="2.4"/><circle cx="1187.8" cy="550.7" r="2.4"/><circle cx="1235.0" cy="550.8" r="2.4"/><circle cx="1202.9" cy="550.8" r="2.4"/><circle cx="1200.7" cy="584.3" r="2.4"/><circle cx="1320.5" cy="474.7" r="2.4"/><circle cx="1257.3" cy="519.5" r="2.4"/><circle cx="1149.3" cy="570.4" r="2.4"/><circle cx="1279.7" cy="540.7" r="2.4"/><circle cx="1308.1" cy="459.6" r="2.4"/><circle cx="1237.8" cy="539.2" r="2.4"/><circle cx="1269.1" cy="510.7" r="2.4"/><circle cx="1277.5" cy="492.7" r="2.4"/><circle cx="1290.8" cy="488.8" r="2.4"/><circle cx="1195.9" cy="589.7" r="2.4"/><circle cx="1153.5" cy="599.2" r="2.4"/><circle cx="1155.3" cy="628.7" r="2.4"/><circle cx="1195.5" cy="576.0" r="2.4"/><circle cx="1217.7" cy="527.6" r="2.4"/><circle cx="1262.9" cy="518.6" r="2.4"/><circle cx="1182.0" cy="602.2" r="2.4"/><circle cx="1289.0" cy="480.0" r="2.4"/><circle cx="1258.8" cy="499.8" r="2.4"/><circle cx="1154.9" cy="552.1" r="2.4"/><circle cx="1246.0" cy="527.0" r="2.4"/><circle cx="1288.0" cy="487.7" r="2.4"/><circle cx="1256.8" cy="518.0" r="2.4"/><circle cx="1229.3" cy="525.7" r="2.4"/><circle cx="1324.6" cy="480.5" r="2.4"/><circle cx="1216.9" cy="478.0" r="2.4"/><circle cx="1211.4" cy="509.2" r="2.4"/><circle cx="1314.3" cy="470.7" r="2.4"/><circle cx="1254.6" cy="523.2" r="2.4"/><circle cx="1241.9" cy="532.7" r="2.4"/><circle cx="1206.4" cy="547.2" r="2.4"/><circle cx="1253.7" cy="504.5" r="2.4"/><circle cx="1219.6" cy="564.1" r="2.4"/><circle cx="1234.9" cy="535.7" r="2.4"/><circle cx="1277.3" cy="493.1" r="2.4"/><circle cx="1248.3" cy="487.7" r="2.4"/><circle cx="1264.6" cy="496.6" r="2.4"/><circle cx="1295.5" cy="471.3" r="2.4"/><circle cx="1237.8" cy="541.1" r="2.4"/><circle cx="1308.3" cy="495.0" r="2.4"/><circle cx="1144.7" cy="615.5" r="2.4"/><circle cx="1283.4" cy="487.8" r="2.4"/><circle cx="1329.1" cy="420.6" r="2.4"/><circle cx="1223.0" cy="547.6" r="2.4"/><circle cx="1282.5" cy="496.3" r="2.4"/><circle cx="1194.2" cy="543.8" r="2.4"/><circle cx="1168.2" cy="616.8" r="2.4"/><circle cx="1213.4" cy="528.8" r="2.4"/><circle cx="1151.3" cy="627.9" r="2.4"/><circle cx="1240.3" cy="541.0" r="2.4"/><circle cx="1303.9" cy="428.5" r="2.4"/><circle cx="1244.2" cy="514.5" r="2.4"/><circle cx="1256.2" cy="524.9" r="2.4"/><circle cx="1261.0" cy="503.4" r="2.4"/><circle cx="1169.2" cy="610.5" r="2.4"/><circle cx="1245.6" cy="523.5" r="2.4"/><circle cx="1221.5" cy="538.7" r="2.4"/><circle cx="1245.3" cy="538.2" r="2.4"/><circle cx="1231.0" cy="540.7" r="2.4"/><circle cx="1280.2" cy="494.3" r="2.4"/><circle cx="1257.3" cy="518.6" r="2.4"/><circle cx="1214.1" cy="539.8" r="2.4"/><circle cx="1215.1" cy="556.9" r="2.4"/><circle cx="1234.9" cy="501.9" r="2.4"/><circle cx="1291.6" cy="500.1" r="2.4"/><circle cx="1151.3" cy="601.3" r="2.4"/><circle cx="1137.0" cy="633.1" r="2.4"/><circle cx="1316.0" cy="465.3" r="2.4"/><circle cx="1159.7" cy="595.1" r="2.4"/><circle cx="1233.3" cy="543.5" r="2.4"/><circle cx="1219.2" cy="557.2" r="2.4"/><circle cx="1239.9" cy="500.2" r="2.4"/><circle cx="1346.8" cy="428.0" r="2.4"/><circle cx="1217.5" cy="560.3" r="2.4"/><circle cx="1278.4" cy="499.7" r="2.4"/><circle cx="1241.1" cy="535.4" r="2.4"/><circle cx="1250.7" cy="521.2" r="2.4"/><circle cx="1251.4" cy="476.8" r="2.4"/><circle cx="1198.2" cy="584.3" r="2.4"/><circle cx="1258.7" cy="543.5" r="2.4"/><circle cx="1246.0" cy="501.3" r="2.4"/><circle cx="1331.1" cy="473.7" r="2.4"/><circle cx="1269.0" cy="505.3" r="2.4"/><circle cx="1209.9" cy="538.1" r="2.4"/><circle cx="1231.2" cy="492.8" r="2.4"/><circle cx="1222.9" cy="558.1" r="2.4"/><circle cx="1121.5" cy="650.2" r="2.4"/><circle cx="1274.1" cy="498.9" r="2.4"/><circle cx="1172.6" cy="574.7" r="2.4"/><circle cx="1174.5" cy="517.0" r="2.4"/><circle cx="1200.9" cy="581.5" r="2.4"/><circle cx="1272.5" cy="514.4" r="2.4"/><circle cx="1261.5" cy="539.7" r="2.4"/><circle cx="1226.6" cy="538.1" r="2.4"/><circle cx="1338.1" cy="445.0" r="2.4"/><circle cx="1134.6" cy="579.5" r="2.4"/><circle cx="1400.4" cy="374.6" r="2.4"/><circle cx="1212.7" cy="570.6" r="2.4"/><circle cx="1205.6" cy="562.7" r="2.4"/><circle cx="1290.3" cy="475.4" r="2.4"/><circle cx="1216.5" cy="567.9" r="2.4"/><circle cx="1198.0" cy="573.6" r="2.4"/><circle cx="1264.5" cy="516.5" r="2.4"/><circle cx="1161.5" cy="580.7" r="2.4"/><circle cx="1268.6" cy="457.1" r="2.4"/><circle cx="1249.4" cy="524.3" r="2.4"/><circle cx="1325.5" cy="428.5" r="2.4"/><circle cx="1121.0" cy="660.8" r="2.4"/><circle cx="1210.1" cy="566.1" r="2.4"/><circle cx="1127.5" cy="624.9" r="2.4"/><circle cx="1240.9" cy="510.5" r="2.4"/><circle cx="1304.2" cy="477.1" r="2.4"/><circle cx="1242.5" cy="520.2" r="2.4"/><circle cx="1230.9" cy="533.7" r="2.4"/><circle cx="1211.4" cy="563.3" r="2.4"/><circle cx="1267.9" cy="531.0" r="2.4"/><circle cx="1257.0" cy="532.3" r="2.4"/><circle cx="1249.5" cy="528.9" r="2.4"/><circle cx="1224.7" cy="571.8" r="2.4"/><circle cx="1185.2" cy="605.0" r="2.4"/><circle cx="1278.5" cy="512.1" r="2.4"/><circle cx="1321.1" cy="442.7" r="2.4"/><circle cx="1279.3" cy="485.7" r="2.4"/><circle cx="1219.2" cy="599.4" r="2.4"/><circle cx="1301.1" cy="448.8" r="2.4"/><circle cx="1234.3" cy="521.5" r="2.4"/><circle cx="1310.2" cy="472.4" r="2.4"/><circle cx="1247.0" cy="491.6" r="2.4"/><circle cx="1221.4" cy="472.2" r="2.4"/><circle cx="1165.4" cy="617.6" r="2.4"/><circle cx="1164.9" cy="620.5" r="2.4"/><circle cx="1199.7" cy="513.6" r="2.4"/><circle cx="1219.9" cy="525.8" r="2.4"/><circle cx="1257.1" cy="517.3" r="2.4"/><circle cx="1255.9" cy="525.5" r="2.4"/><circle cx="1209.6" cy="509.2" r="2.4"/><circle cx="1233.5" cy="431.5" r="2.4"/><circle cx="1237.5" cy="543.2" r="2.4"/><circle cx="1197.6" cy="527.7" r="2.4"/><circle cx="1241.6" cy="525.8" r="2.4"/><circle cx="1297.4" cy="474.4" r="2.4"/><circle cx="1291.2" cy="493.7" r="2.4"/><circle cx="1273.5" cy="505.0" r="2.4"/><circle cx="1263.3" cy="551.7" r="2.4"/><circle cx="1241.4" cy="504.6" r="2.4"/><circle cx="1199.1" cy="583.5" r="2.4"/><circle cx="1228.7" cy="557.5" r="2.4"/><circle cx="1185.8" cy="586.6" r="2.4"/><circle cx="1217.0" cy="565.7" r="2.4"/><circle cx="1194.2" cy="575.7" r="2.4"/><circle cx="1191.0" cy="590.5" r="2.4"/><circle cx="1150.1" cy="571.0" r="2.4"/><circle cx="1305.1" cy="472.5" r="2.4"/><circle cx="1297.7" cy="475.0" r="2.4"/><circle cx="1263.6" cy="511.1" r="2.4"/><circle cx="1219.5" cy="524.1" r="2.4"/><circle cx="1272.3" cy="475.1" r="2.4"/><circle cx="1212.1" cy="578.4" r="2.4"/><circle cx="1301.0" cy="481.6" r="2.4"/><circle cx="1292.4" cy="485.8" r="2.4"/><circle cx="1246.3" cy="520.3" r="2.4"/><circle cx="1219.9" cy="548.9" r="2.4"/><circle cx="1302.4" cy="470.0" r="2.4"/><circle cx="1274.3" cy="509.4" r="2.4"/><circle cx="1216.3" cy="543.2" r="2.4"/><circle cx="1160.4" cy="605.7" r="2.4"/><circle cx="1213.9" cy="563.8" r="2.4"/><circle cx="1261.6" cy="507.7" r="2.4"/><circle cx="1185.8" cy="560.6" r="2.4"/><circle cx="1245.6" cy="518.1" r="2.4"/><circle cx="1207.9" cy="559.8" r="2.4"/><circle cx="1241.3" cy="547.3" r="2.4"/><circle cx="1196.7" cy="577.5" r="2.4"/><circle cx="1213.7" cy="553.0" r="2.4"/><circle cx="1163.0" cy="591.8" r="2.4"/><circle cx="1269.8" cy="518.0" r="2.4"/><circle cx="1273.3" cy="476.5" r="2.4"/><circle cx="1284.8" cy="499.0" r="2.4"/><circle cx="1257.2" cy="497.4" r="2.4"/><circle cx="1341.5" cy="444.8" r="2.4"/><circle cx="1268.9" cy="519.1" r="2.4"/><circle cx="1250.4" cy="525.1" r="2.4"/><circle cx="1278.8" cy="474.6" r="2.4"/><circle cx="1234.1" cy="550.7" r="2.4"/><circle cx="1200.9" cy="565.2" r="2.4"/><circle cx="1270.4" cy="502.1" r="2.4"/><circle cx="1271.3" cy="518.7" r="2.4"/><circle cx="1195.0" cy="571.7" r="2.4"/><circle cx="1281.7" cy="503.2" r="2.4"/><circle cx="1273.0" cy="494.4" r="2.4"/><circle cx="1269.3" cy="512.7" r="2.4"/><circle cx="1172.9" cy="588.1" r="2.4"/><circle cx="1216.3" cy="569.4" r="2.4"/><circle cx="1237.7" cy="555.0" r="2.4"/><circle cx="1269.3" cy="508.8" r="2.4"/><circle cx="1254.4" cy="518.5" r="2.4"/><circle cx="1273.4" cy="513.9" r="2.4"/><circle cx="1207.4" cy="575.1" r="2.4"/><circle cx="1177.1" cy="589.6" r="2.4"/><circle cx="1237.3" cy="520.1" r="2.4"/><circle cx="1175.5" cy="608.5" r="2.4"/><circle cx="1283.2" cy="486.5" r="2.4"/><circle cx="1212.8" cy="557.7" r="2.4"/><circle cx="1293.9" cy="476.5" r="2.4"/><circle cx="1295.6" cy="475.9" r="2.4"/><circle cx="1178.7" cy="605.9" r="2.4"/><circle cx="1225.6" cy="525.2" r="2.4"/><circle cx="1261.3" cy="507.3" r="2.4"/><circle cx="1207.9" cy="578.9" r="2.4"/><circle cx="1281.2" cy="453.0" r="2.4"/><circle cx="1243.7" cy="542.9" r="2.4"/><circle cx="1288.0" cy="499.7" r="2.4"/><circle cx="1311.8" cy="489.9" r="2.4"/><circle cx="1270.9" cy="512.9" r="2.4"/><circle cx="1254.1" cy="528.0" r="2.4"/><circle cx="1273.6" cy="517.7" r="2.4"/><circle cx="1174.6" cy="505.7" r="2.4"/><circle cx="1193.9" cy="584.4" r="2.4"/><circle cx="1146.7" cy="616.3" r="2.4"/><circle cx="1272.1" cy="513.2" r="2.4"/><circle cx="1211.9" cy="538.5" r="2.4"/><circle cx="1228.4" cy="497.0" r="2.4"/><circle cx="1235.4" cy="525.3" r="2.4"/><circle cx="1280.8" cy="434.0" r="2.4"/><circle cx="1243.3" cy="537.9" r="2.4"/><circle cx="1215.0" cy="575.9" r="2.4"/><circle cx="1317.8" cy="463.8" r="2.4"/><circle cx="1306.7" cy="480.7" r="2.4"/><circle cx="1225.9" cy="481.1" r="2.4"/><circle cx="1248.1" cy="522.3" r="2.4"/><circle cx="1182.7" cy="585.4" r="2.4"/><circle cx="1245.7" cy="542.0" r="2.4"/><circle cx="1275.6" cy="496.4" r="2.4"/><circle cx="1228.4" cy="538.4" r="2.4"/><circle cx="1218.2" cy="537.8" r="2.4"/><circle cx="1410.7" cy="375.7" r="2.4"/><circle cx="1256.2" cy="512.5" r="2.4"/><circle cx="1204.2" cy="573.4" r="2.4"/><circle cx="1271.7" cy="496.4" r="2.4"/><circle cx="1291.3" cy="498.7" r="2.4"/><circle cx="1328.7" cy="474.2" r="2.4"/><circle cx="1276.1" cy="517.4" r="2.4"/><circle cx="1254.0" cy="524.7" r="2.4"/><circle cx="1259.8" cy="515.6" r="2.4"/><circle cx="1221.9" cy="563.2" r="2.4"/><circle cx="1344.9" cy="433.2" r="2.4"/><circle cx="1230.2" cy="545.8" r="2.4"/><circle cx="1220.5" cy="521.3" r="2.4"/><circle cx="1242.3" cy="521.4" r="2.4"/><circle cx="1270.4" cy="503.5" r="2.4"/><circle cx="1267.1" cy="514.0" r="2.4"/><circle cx="1188.9" cy="461.9" r="2.4"/><circle cx="1232.1" cy="552.2" r="2.4"/><circle cx="1256.1" cy="538.3" r="2.4"/><circle cx="1136.7" cy="654.9" r="2.4"/><circle cx="1335.0" cy="436.9" r="2.4"/><circle cx="1287.5" cy="492.2" r="2.4"/><circle cx="1233.8" cy="534.3" r="2.4"/><circle cx="1184.5" cy="606.4" r="2.4"/><circle cx="1226.2" cy="556.7" r="2.4"/><circle cx="1304.1" cy="433.9" r="2.4"/><circle cx="1240.5" cy="496.5" r="2.4"/><circle cx="1307.9" cy="469.0" r="2.4"/><circle cx="1252.3" cy="448.3" r="2.4"/><circle cx="1295.1" cy="525.2" r="2.4"/><circle cx="1286.1" cy="486.4" r="2.4"/><circle cx="1227.2" cy="527.4" r="2.4"/><circle cx="1258.5" cy="515.0" r="2.4"/><circle cx="1297.7" cy="472.2" r="2.4"/><circle cx="1223.1" cy="555.6" r="2.4"/><circle cx="1200.1" cy="567.0" r="2.4"/><circle cx="1171.6" cy="562.0" r="2.4"/><circle cx="1259.6" cy="501.1" r="2.4"/><circle cx="1227.3" cy="556.4" r="2.4"/><circle cx="1252.0" cy="531.7" r="2.4"/><circle cx="1259.0" cy="522.3" r="2.4"/><circle cx="1304.9" cy="460.2" r="2.4"/><circle cx="1320.3" cy="458.8" r="2.4"/><circle cx="1157.8" cy="616.2" r="2.4"/><circle cx="1193.9" cy="593.4" r="2.4"/><circle cx="1275.2" cy="503.1" r="2.4"/><circle cx="1279.1" cy="411.4" r="2.4"/><circle cx="1205.0" cy="534.4" r="2.4"/><circle cx="1294.0" cy="464.5" r="2.4"/><circle cx="1211.6" cy="569.5" r="2.4"/><circle cx="1238.3" cy="512.5" r="2.4"/><circle cx="1226.7" cy="516.4" r="2.4"/><circle cx="1226.3" cy="546.0" r="2.4"/><circle cx="1232.5" cy="545.7" r="2.4"/><circle cx="1230.2" cy="528.9" r="2.4"/><circle cx="1253.3" cy="503.0" r="2.4"/><circle cx="1276.1" cy="523.3" r="2.4"/><circle cx="1291.4" cy="497.4" r="2.4"/><circle cx="1222.7" cy="555.7" r="2.4"/><circle cx="1246.0" cy="522.1" r="2.4"/><circle cx="1253.7" cy="522.1" r="2.4"/><circle cx="1157.2" cy="534.4" r="2.4"/><circle cx="1177.7" cy="563.2" r="2.4"/><circle cx="1288.5" cy="496.5" r="2.4"/><circle cx="1269.6" cy="542.5" r="2.4"/><circle cx="1177.2" cy="587.9" r="2.4"/><circle cx="1250.5" cy="528.1" r="2.4"/><circle cx="1207.3" cy="586.9" r="2.4"/><circle cx="1214.8" cy="512.2" r="2.4"/><circle cx="1365.2" cy="396.0" r="2.4"/><circle cx="1263.0" cy="491.8" r="2.4"/><circle cx="1246.7" cy="527.8" r="2.4"/><circle cx="1244.6" cy="548.6" r="2.4"/><circle cx="1190.5" cy="557.2" r="2.4"/><circle cx="1262.3" cy="503.6" r="2.4"/><circle cx="1258.4" cy="494.2" r="2.4"/><circle cx="1302.0" cy="496.3" r="2.4"/><circle cx="1137.1" cy="497.3" r="2.4"/><circle cx="1309.9" cy="460.5" r="2.4"/><circle cx="1162.9" cy="613.5" r="2.4"/><circle cx="1415.7" cy="370.8" r="2.4"/><circle cx="1198.0" cy="565.1" r="2.4"/><circle cx="1297.9" cy="477.2" r="2.4"/><circle cx="1188.5" cy="588.7" r="2.4"/><circle cx="1255.3" cy="530.6" r="2.4"/><circle cx="1262.7" cy="530.5" r="2.4"/><circle cx="1314.2" cy="457.5" r="2.4"/><circle cx="1192.7" cy="548.4" r="2.4"/><circle cx="1250.1" cy="527.0" r="2.4"/><circle cx="1260.8" cy="523.1" r="2.4"/><circle cx="1207.2" cy="505.8" r="2.4"/><circle cx="1332.1" cy="450.8" r="2.4"/><circle cx="1231.0" cy="565.3" r="2.4"/><circle cx="1230.5" cy="554.2" r="2.4"/><circle cx="1333.5" cy="426.3" r="2.4"/><circle cx="1250.2" cy="533.2" r="2.4"/><circle cx="1271.6" cy="498.0" r="2.4"/><circle cx="1263.7" cy="468.0" r="2.4"/><circle cx="1389.2" cy="374.9" r="2.4"/><circle cx="1231.9" cy="555.7" r="2.4"/><circle cx="1248.6" cy="529.2" r="2.4"/><circle cx="1239.0" cy="548.5" r="2.4"/><circle cx="1182.1" cy="563.7" r="2.4"/><circle cx="1189.5" cy="471.5" r="2.4"/><circle cx="1331.6" cy="449.6" r="2.4"/><circle cx="1253.1" cy="521.5" r="2.4"/><circle cx="1236.9" cy="545.9" r="2.4"/><circle cx="1239.3" cy="522.5" r="2.4"/><circle cx="1213.6" cy="506.4" r="2.4"/><circle cx="1305.9" cy="480.1" r="2.4"/><circle cx="1420.0" cy="365.5" r="2.4"/><circle cx="1261.3" cy="474.4" r="2.4"/><circle cx="1194.2" cy="583.4" r="2.4"/><circle cx="1236.4" cy="522.2" r="2.4"/><circle cx="1186.2" cy="585.8" r="2.4"/><circle cx="1220.0" cy="536.8" r="2.4"/><circle cx="1255.0" cy="541.5" r="2.4"/><circle cx="1247.5" cy="534.6" r="2.4"/><circle cx="1186.3" cy="591.4" r="2.4"/><circle cx="1194.0" cy="592.0" r="2.4"/><circle cx="1359.9" cy="433.1" r="2.4"/><circle cx="1289.6" cy="510.5" r="2.4"/><circle cx="1206.8" cy="572.8" r="2.4"/><circle cx="1232.3" cy="531.9" r="2.4"/><circle cx="1182.9" cy="583.1" r="2.4"/><circle cx="1236.7" cy="525.5" r="2.4"/><circle cx="1210.9" cy="544.5" r="2.4"/><circle cx="1209.1" cy="566.2" r="2.4"/><circle cx="1300.6" cy="468.0" r="2.4"/><circle cx="1225.1" cy="521.7" r="2.4"/><circle cx="1230.1" cy="558.1" r="2.4"/><circle cx="1178.4" cy="527.8" r="2.4"/><circle cx="1279.9" cy="497.2" r="2.4"/><circle cx="1275.7" cy="499.0" r="2.4"/><circle cx="1246.5" cy="517.2" r="2.4"/><circle cx="1237.0" cy="527.8" r="2.4"/><circle cx="1218.8" cy="548.6" r="2.4"/><circle cx="1254.8" cy="529.2" r="2.4"/><circle cx="1209.5" cy="561.1" r="2.4"/><circle cx="1245.7" cy="535.6" r="2.4"/><circle cx="1195.2" cy="553.1" r="2.4"/><circle cx="1231.4" cy="555.4" r="2.4"/><circle cx="1276.4" cy="501.1" r="2.4"/><circle cx="1355.3" cy="428.7" r="2.4"/><circle cx="1389.9" cy="391.4" r="2.4"/><circle cx="1174.8" cy="575.1" r="2.4"/><circle cx="1278.9" cy="456.0" r="2.4"/><circle cx="1207.3" cy="560.6" r="2.4"/><circle cx="1217.8" cy="560.4" r="2.4"/><circle cx="1253.3" cy="512.9" r="2.4"/><circle cx="1224.5" cy="538.7" r="2.4"/><circle cx="1180.4" cy="534.1" r="2.4"/><circle cx="1261.3" cy="523.5" r="2.4"/><circle cx="1274.3" cy="490.0" r="2.4"/><circle cx="1240.3" cy="506.7" r="2.4"/><circle cx="1290.8" cy="429.3" r="2.4"/><circle cx="1210.7" cy="525.0" r="2.4"/><circle cx="1214.1" cy="576.1" r="2.4"/><circle cx="1268.4" cy="505.8" r="2.4"/><circle cx="1162.2" cy="625.7" r="2.4"/><circle cx="1299.4" cy="450.9" r="2.4"/><circle cx="1180.1" cy="555.2" r="2.4"/><circle cx="1214.3" cy="573.2" r="2.4"/><circle cx="1210.3" cy="548.5" r="2.4"/><circle cx="1252.3" cy="517.4" r="2.4"/><circle cx="1334.7" cy="457.1" r="2.4"/><circle cx="1172.5" cy="599.2" r="2.4"/><circle cx="1264.3" cy="491.2" r="2.4"/><circle cx="1205.9" cy="548.5" r="2.4"/><circle cx="1273.5" cy="531.2" r="2.4"/><circle cx="1262.2" cy="499.3" r="2.4"/><circle cx="1229.9" cy="568.9" r="2.4"/><circle cx="1299.3" cy="513.5" r="2.4"/><circle cx="1252.7" cy="528.1" r="2.4"/><circle cx="1184.9" cy="587.8" r="2.4"/><circle cx="1199.5" cy="574.3" r="2.4"/><circle cx="1227.1" cy="587.4" r="2.4"/><circle cx="1209.3" cy="573.8" r="2.4"/><circle cx="1220.8" cy="550.6" r="2.4"/><circle cx="1210.3" cy="561.0" r="2.4"/><circle cx="1283.5" cy="490.4" r="2.4"/><circle cx="1287.7" cy="486.0" r="2.4"/><circle cx="1240.6" cy="491.0" r="2.4"/><circle cx="1345.7" cy="432.7" r="2.4"/><circle cx="1336.0" cy="437.9" r="2.4"/><circle cx="1185.1" cy="595.7" r="2.4"/><circle cx="1264.5" cy="546.5" r="2.4"/><circle cx="1269.5" cy="508.8" r="2.4"/><circle cx="1294.9" cy="497.5" r="2.4"/><circle cx="1320.9" cy="444.5" r="2.4"/><circle cx="1227.4" cy="550.8" r="2.4"/><circle cx="1202.9" cy="567.4" r="2.4"/><circle cx="1157.1" cy="604.0" r="2.4"/><circle cx="1185.0" cy="556.2" r="2.4"/><circle cx="1260.5" cy="516.1" r="2.4"/><circle cx="1227.5" cy="495.6" r="2.4"/><circle cx="1246.9" cy="434.3" r="2.4"/><circle cx="1218.9" cy="493.1" r="2.4"/><circle cx="1355.2" cy="433.5" r="2.4"/><circle cx="1307.7" cy="502.6" r="2.4"/><circle cx="1183.3" cy="565.7" r="2.4"/><circle cx="1273.3" cy="520.0" r="2.4"/><circle cx="1253.2" cy="497.6" r="2.4"/><circle cx="1288.0" cy="507.3" r="2.4"/><circle cx="1274.0" cy="530.3" r="2.4"/><circle cx="1264.7" cy="485.4" r="2.4"/><circle cx="1054.2" cy="652.1" r="2.4"/><circle cx="1299.6" cy="470.8" r="2.4"/><circle cx="1304.0" cy="475.3" r="2.4"/><circle cx="1277.5" cy="506.4" r="2.4"/><circle cx="1238.5" cy="532.3" r="2.4"/><circle cx="1290.6" cy="476.4" r="2.4"/><circle cx="1190.9" cy="625.7" r="2.4"/><circle cx="1223.3" cy="546.1" r="2.4"/><circle cx="1222.3" cy="552.9" r="2.4"/><circle cx="1302.2" cy="461.3" r="2.4"/><circle cx="1211.8" cy="556.2" r="2.4"/><circle cx="1213.2" cy="552.9" r="2.4"/><circle cx="1199.1" cy="579.5" r="2.4"/><circle cx="1183.1" cy="450.9" r="2.4"/><circle cx="1243.6" cy="528.2" r="2.4"/><circle cx="1224.2" cy="517.1" r="2.4"/><circle cx="1251.1" cy="476.7" r="2.4"/><circle cx="1256.5" cy="482.1" r="2.4"/><circle cx="1236.4" cy="549.8" r="2.4"/><circle cx="1185.6" cy="563.4" r="2.4"/><circle cx="1287.2" cy="496.8" r="2.4"/><circle cx="1183.0" cy="573.9" r="2.4"/><circle cx="1271.1" cy="510.9" r="2.4"/><circle cx="1325.2" cy="450.4" r="2.4"/><circle cx="1218.3" cy="570.8" r="2.4"/><circle cx="1211.7" cy="541.8" r="2.4"/><circle cx="1303.9" cy="474.9" r="2.4"/><circle cx="1259.2" cy="505.7" r="2.4"/><circle cx="1353.2" cy="427.0" r="2.4"/><circle cx="1264.0" cy="504.0" r="2.4"/><circle cx="1220.6" cy="534.2" r="2.4"/><circle cx="1275.8" cy="510.3" r="2.4"/><circle cx="1212.1" cy="481.3" r="2.4"/><circle cx="1235.4" cy="540.4" r="2.4"/><circle cx="1251.4" cy="539.2" r="2.4"/><circle cx="1225.3" cy="561.7" r="2.4"/><circle cx="1169.0" cy="601.5" r="2.4"/><circle cx="1203.8" cy="570.3" r="2.4"/><circle cx="1315.7" cy="465.6" r="2.4"/><circle cx="1345.2" cy="432.0" r="2.4"/><circle cx="1269.6" cy="489.5" r="2.4"/><circle cx="1292.3" cy="494.8" r="2.4"/><circle cx="1253.0" cy="468.2" r="2.4"/><circle cx="1195.3" cy="558.7" r="2.4"/><circle cx="1307.4" cy="464.0" r="2.4"/><circle cx="1213.2" cy="550.2" r="2.4"/><circle cx="1239.2" cy="533.7" r="2.4"/><circle cx="1199.0" cy="568.7" r="2.4"/><circle cx="1183.2" cy="550.0" r="2.4"/><circle cx="1266.1" cy="499.3" r="2.4"/><circle cx="1352.7" cy="430.0" r="2.4"/><circle cx="1161.0" cy="581.3" r="2.4"/><circle cx="1276.2" cy="510.7" r="2.4"/><circle cx="1160.6" cy="601.5" r="2.4"/><circle cx="1269.7" cy="512.7" r="2.4"/><circle cx="1250.7" cy="491.9" r="2.4"/><circle cx="1290.1" cy="494.9" r="2.4"/><circle cx="1237.6" cy="526.0" r="2.4"/><circle cx="1270.5" cy="540.9" r="2.4"/><circle cx="1262.5" cy="522.8" r="2.4"/><circle cx="1231.6" cy="549.9" r="2.4"/><circle cx="1318.8" cy="428.1" r="2.4"/><circle cx="1292.3" cy="498.9" r="2.4"/><circle cx="1201.8" cy="599.8" r="2.4"/><circle cx="1215.0" cy="516.1" r="2.4"/><circle cx="1366.4" cy="416.1" r="2.4"/><circle cx="1269.3" cy="525.5" r="2.4"/><circle cx="1241.8" cy="551.3" r="2.4"/><circle cx="1224.2" cy="508.2" r="2.4"/><circle cx="1247.4" cy="547.7" r="2.4"/><circle cx="1154.2" cy="607.1" r="2.4"/><circle cx="1183.0" cy="545.9" r="2.4"/><circle cx="1227.5" cy="548.6" r="2.4"/><circle cx="1301.0" cy="473.3" r="2.4"/><circle cx="1308.8" cy="476.2" r="2.4"/><circle cx="1156.1" cy="624.7" r="2.4"/><circle cx="1276.6" cy="493.3" r="2.4"/><circle cx="1204.6" cy="573.4" r="2.4"/><circle cx="1190.6" cy="508.6" r="2.4"/><circle cx="1308.4" cy="441.1" r="2.4"/><circle cx="1333.7" cy="463.7" r="2.4"/><circle cx="1164.6" cy="508.6" r="2.4"/><circle cx="1248.8" cy="532.8" r="2.4"/><circle cx="1321.0" cy="456.4" r="2.4"/><circle cx="1233.5" cy="550.4" r="2.4"/><circle cx="1220.3" cy="559.8" r="2.4"/><circle cx="1317.7" cy="455.0" r="2.4"/><circle cx="1198.0" cy="517.3" r="2.4"/><circle cx="1323.0" cy="459.3" r="2.4"/><circle cx="1273.0" cy="497.4" r="2.4"/><circle cx="1216.1" cy="558.8" r="2.4"/><circle cx="1242.7" cy="530.7" r="2.4"/><circle cx="1172.5" cy="585.0" r="2.4"/><circle cx="1258.5" cy="522.2" r="2.4"/><circle cx="1253.2" cy="520.9" r="2.4"/><circle cx="1294.7" cy="473.2" r="2.4"/><circle cx="1232.1" cy="531.6" r="2.4"/><circle cx="1230.1" cy="419.2" r="2.4"/><circle cx="1158.8" cy="475.4" r="2.4"/><circle cx="1239.1" cy="544.6" r="2.4"/><circle cx="1233.9" cy="532.4" r="2.4"/><circle cx="1340.0" cy="456.4" r="2.4"/><circle cx="1258.2" cy="519.3" r="2.4"/><circle cx="1292.0" cy="491.2" r="2.4"/><circle cx="1298.6" cy="409.5" r="2.4"/><circle cx="1189.2" cy="588.6" r="2.4"/><circle cx="1178.6" cy="589.6" r="2.4"/><circle cx="1272.5" cy="485.4" r="2.4"/><circle cx="1251.2" cy="466.8" r="2.4"/><circle cx="1263.5" cy="495.3" r="2.4"/><circle cx="1289.3" cy="493.1" r="2.4"/><circle cx="1309.6" cy="472.8" r="2.4"/><circle cx="1201.9" cy="521.9" r="2.4"/><circle cx="1243.4" cy="520.1" r="2.4"/><circle cx="1242.2" cy="539.6" r="2.4"/><circle cx="1230.8" cy="437.6" r="2.4"/><circle cx="1334.7" cy="444.6" r="2.4"/><circle cx="1284.4" cy="525.2" r="2.4"/><circle cx="1251.3" cy="522.8" r="2.4"/><circle cx="1210.3" cy="524.7" r="2.4"/><circle cx="1262.1" cy="536.7" r="2.4"/><circle cx="1199.8" cy="586.2" r="2.4"/><circle cx="1230.5" cy="527.4" r="2.4"/><circle cx="1270.4" cy="492.6" r="2.4"/><circle cx="1155.2" cy="631.0" r="2.4"/><circle cx="1232.3" cy="546.0" r="2.4"/><circle cx="1231.8" cy="550.3" r="2.4"/><circle cx="1301.4" cy="434.1" r="2.4"/><circle cx="1397.6" cy="375.2" r="2.4"/><circle cx="1231.7" cy="539.9" r="2.4"/><circle cx="1247.1" cy="518.9" r="2.4"/><circle cx="1260.7" cy="476.4" r="2.4"/><circle cx="1238.0" cy="509.2" r="2.4"/><circle cx="1284.7" cy="486.8" r="2.4"/><circle cx="1224.3" cy="556.2" r="2.4"/><circle cx="1278.6" cy="485.1" r="2.4"/><circle cx="1229.2" cy="578.2" r="2.4"/><circle cx="1262.4" cy="528.6" r="2.4"/><circle cx="1197.9" cy="567.1" r="2.4"/><circle cx="1211.6" cy="568.6" r="2.4"/><circle cx="1238.5" cy="538.1" r="2.4"/><circle cx="1177.0" cy="576.2" r="2.4"/><circle cx="1345.7" cy="421.7" r="2.4"/><circle cx="1234.5" cy="533.8" r="2.4"/><circle cx="1220.3" cy="544.2" r="2.4"/><circle cx="1275.7" cy="478.5" r="2.4"/><circle cx="1244.9" cy="526.8" r="2.4"/><circle cx="1282.1" cy="480.3" r="2.4"/><circle cx="1197.5" cy="562.6" r="2.4"/><circle cx="1243.4" cy="504.1" r="2.4"/><circle cx="1149.2" cy="638.6" r="2.4"/><circle cx="1260.4" cy="526.6" r="2.4"/><circle cx="1202.1" cy="575.7" r="2.4"/><circle cx="1244.9" cy="541.3" r="2.4"/><circle cx="1224.7" cy="567.4" r="2.4"/><circle cx="1220.4" cy="557.2" r="2.4"/><circle cx="1247.5" cy="507.4" r="2.4"/><circle cx="1202.0" cy="552.0" r="2.4"/><circle cx="1252.5" cy="548.2" r="2.4"/><circle cx="1265.8" cy="486.6" r="2.4"/><circle cx="1213.3" cy="557.7" r="2.4"/><circle cx="1275.5" cy="539.1" r="2.4"/><circle cx="1315.7" cy="390.4" r="2.4"/><circle cx="1273.8" cy="503.5" r="2.4"/><circle cx="1208.2" cy="559.2" r="2.4"/><circle cx="1242.2" cy="544.6" r="2.4"/><circle cx="1349.6" cy="423.8" r="2.4"/><circle cx="1291.1" cy="475.1" r="2.4"/><circle cx="1233.5" cy="549.3" r="2.4"/><circle cx="1241.4" cy="537.5" r="2.4"/><circle cx="1431.3" cy="330.2" r="2.4"/><circle cx="1240.4" cy="546.8" r="2.4"/><circle cx="1277.3" cy="471.9" r="2.4"/><circle cx="1282.9" cy="471.2" r="2.4"/><circle cx="1272.4" cy="512.3" r="2.4"/><circle cx="1223.4" cy="508.0" r="2.4"/><circle cx="1298.1" cy="467.6" r="2.4"/><circle cx="1236.6" cy="472.2" r="2.4"/><circle cx="1232.1" cy="555.3" r="2.4"/><circle cx="1270.0" cy="499.2" r="2.4"/><circle cx="1315.5" cy="469.9" r="2.4"/><circle cx="1160.0" cy="608.0" r="2.4"/><circle cx="1269.9" cy="506.9" r="2.4"/><circle cx="1217.8" cy="512.9" r="2.4"/><circle cx="1322.7" cy="451.0" r="2.4"/><circle cx="1189.2" cy="546.6" r="2.4"/><circle cx="1302.9" cy="461.5" r="2.4"/><circle cx="1179.6" cy="575.6" r="2.4"/><circle cx="1249.6" cy="539.3" r="2.4"/><circle cx="1225.2" cy="552.5" r="2.4"/><circle cx="1213.8" cy="544.8" r="2.4"/><circle cx="1053.3" cy="643.2" r="2.4"/><circle cx="1221.2" cy="520.1" r="2.4"/><circle cx="1123.8" cy="636.7" r="2.4"/><circle cx="1214.3" cy="540.9" r="2.4"/><circle cx="1269.7" cy="482.7" r="2.4"/><circle cx="1242.1" cy="479.7" r="2.4"/><circle cx="1224.8" cy="562.2" r="2.4"/><circle cx="1376.6" cy="427.4" r="2.4"/><circle cx="1251.0" cy="488.6" r="2.4"/><circle cx="1308.6" cy="466.7" r="2.4"/><circle cx="1243.3" cy="528.9" r="2.4"/><circle cx="1243.6" cy="538.6" r="2.4"/><circle cx="1204.3" cy="523.5" r="2.4"/><circle cx="1239.0" cy="500.5" r="2.4"/><circle cx="1243.1" cy="479.4" r="2.4"/><circle cx="1247.0" cy="536.9" r="2.4"/><circle cx="1084.9" cy="690.9" r="2.4"/><circle cx="1244.2" cy="536.2" r="2.4"/><circle cx="1255.7" cy="499.2" r="2.4"/><circle cx="1187.9" cy="585.5" r="2.4"/><circle cx="1227.7" cy="549.1" r="2.4"/><circle cx="1279.2" cy="511.9" r="2.4"/><circle cx="1294.6" cy="451.5" r="2.4"/><circle cx="1261.0" cy="497.3" r="2.4"/><circle cx="1278.0" cy="505.8" r="2.4"/><circle cx="1201.5" cy="515.6" r="2.4"/><circle cx="1240.3" cy="528.8" r="2.4"/><circle cx="1187.5" cy="528.9" r="2.4"/><circle cx="1252.2" cy="532.5" r="2.4"/><circle cx="1265.0" cy="504.7" r="2.4"/><circle cx="1217.4" cy="560.8" r="2.4"/><circle cx="1238.0" cy="536.2" r="2.4"/><circle cx="1210.6" cy="575.1" r="2.4"/><circle cx="1263.2" cy="514.8" r="2.4"/><circle cx="1184.2" cy="614.2" r="2.4"/><circle cx="1212.2" cy="557.7" r="2.4"/><circle cx="1261.0" cy="515.7" r="2.4"/><circle cx="1261.3" cy="544.3" r="2.4"/><circle cx="1227.7" cy="574.7" r="2.4"/><circle cx="1246.0" cy="539.8" r="2.4"/><circle cx="1255.3" cy="492.1" r="2.4"/><circle cx="1229.3" cy="565.7" r="2.4"/><circle cx="1318.4" cy="477.7" r="2.4"/><circle cx="1234.2" cy="544.6" r="2.4"/><circle cx="1212.8" cy="554.5" r="2.4"/><circle cx="1282.5" cy="495.0" r="2.4"/><circle cx="1228.7" cy="549.5" r="2.4"/><circle cx="1259.3" cy="527.9" r="2.4"/><circle cx="1275.1" cy="497.3" r="2.4"/><circle cx="1251.8" cy="545.3" r="2.4"/><circle cx="1275.5" cy="487.5" r="2.4"/><circle cx="1172.6" cy="600.7" r="2.4"/><circle cx="1226.3" cy="555.7" r="2.4"/><circle cx="1279.2" cy="503.0" r="2.4"/><circle cx="1310.4" cy="493.7" r="2.4"/><circle cx="1257.6" cy="522.5" r="2.4"/><circle cx="1227.4" cy="553.6" r="2.4"/><circle cx="1249.6" cy="533.8" r="2.4"/><circle cx="1227.7" cy="549.0" r="2.4"/><circle cx="1179.4" cy="565.4" r="2.4"/><circle cx="1257.0" cy="524.4" r="2.4"/><circle cx="1210.8" cy="511.2" r="2.4"/><circle cx="1203.8" cy="542.7" r="2.4"/><circle cx="1299.9" cy="475.9" r="2.4"/><circle cx="1222.4" cy="547.5" r="2.4"/><circle cx="1263.1" cy="524.0" r="2.4"/><circle cx="1321.6" cy="464.2" r="2.4"/><circle cx="1196.6" cy="588.7" r="2.4"/><circle cx="1190.5" cy="586.3" r="2.4"/><circle cx="1271.7" cy="492.6" r="2.4"/><circle cx="1209.9" cy="536.1" r="2.4"/><circle cx="1317.8" cy="453.0" r="2.4"/><circle cx="1375.6" cy="398.3" r="2.4"/><circle cx="1271.1" cy="502.5" r="2.4"/><circle cx="1235.9" cy="527.8" r="2.4"/><circle cx="1248.5" cy="430.2" r="2.4"/><circle cx="1188.7" cy="561.5" r="2.4"/><circle cx="1197.4" cy="586.6" r="2.4"/><circle cx="1293.9" cy="417.1" r="2.4"/><circle cx="1272.7" cy="528.2" r="2.4"/><circle cx="1281.0" cy="496.5" r="2.4"/><circle cx="1281.3" cy="511.0" r="2.4"/><circle cx="1316.8" cy="464.4" r="2.4"/><circle cx="1275.4" cy="517.2" r="2.4"/><circle cx="1307.8" cy="407.7" r="2.4"/><circle cx="1235.7" cy="528.3" r="2.4"/><circle cx="1211.6" cy="499.7" r="2.4"/><circle cx="1265.4" cy="487.3" r="2.4"/><circle cx="1200.5" cy="518.9" r="2.4"/><circle cx="1167.2" cy="600.2" r="2.4"/><circle cx="1186.0" cy="529.1" r="2.4"/><circle cx="1209.4" cy="567.5" r="2.4"/><circle cx="1233.4" cy="530.8" r="2.4"/><circle cx="1212.0" cy="568.3" r="2.4"/><circle cx="1184.6" cy="543.7" r="2.4"/><circle cx="1263.3" cy="496.0" r="2.4"/><circle cx="1212.4" cy="532.4" r="2.4"/><circle cx="1262.7" cy="513.4" r="2.4"/><circle cx="1278.9" cy="496.1" r="2.4"/><circle cx="1256.9" cy="510.8" r="2.4"/><circle cx="1301.6" cy="482.3" r="2.4"/><circle cx="1321.8" cy="494.1" r="2.4"/><circle cx="1286.1" cy="472.4" r="2.4"/><circle cx="1276.7" cy="513.2" r="2.4"/><circle cx="1329.3" cy="446.2" r="2.4"/><circle cx="1218.9" cy="562.5" r="2.4"/><circle cx="1245.3" cy="513.6" r="2.4"/><circle cx="1268.9" cy="502.4" r="2.4"/><circle cx="1262.4" cy="523.8" r="2.4"/><circle cx="1234.8" cy="513.1" r="2.4"/><circle cx="1241.6" cy="534.5" r="2.4"/><circle cx="1203.7" cy="574.7" r="2.4"/><circle cx="1236.2" cy="542.7" r="2.4"/><circle cx="1216.4" cy="557.9" r="2.4"/><circle cx="1314.3" cy="470.4" r="2.4"/><circle cx="1215.1" cy="552.3" r="2.4"/><circle cx="1063.3" cy="669.3" r="2.4"/><circle cx="1275.8" cy="478.2" r="2.4"/><circle cx="1246.5" cy="485.0" r="2.4"/><circle cx="1165.3" cy="588.6" r="2.4"/><circle cx="1240.8" cy="496.3" r="2.4"/><circle cx="1264.8" cy="488.2" r="2.4"/><circle cx="1265.8" cy="518.8" r="2.4"/><circle cx="1212.2" cy="520.3" r="2.4"/><circle cx="1214.1" cy="550.8" r="2.4"/><circle cx="1157.7" cy="526.2" r="2.4"/><circle cx="1355.2" cy="278.3" r="2.4"/><circle cx="1405.9" cy="302.3" r="2.4"/><circle cx="1461.5" cy="310.1" r="2.4"/><circle cx="1413.4" cy="452.9" r="2.4"/><circle cx="1055.0" cy="660.9" r="2.4"/><circle cx="1082.9" cy="539.1" r="2.4"/><circle cx="1446.7" cy="326.1" r="2.4"/><circle cx="1370.2" cy="317.9" r="2.4"/><circle cx="1399.8" cy="331.4" r="2.4"/><circle cx="1358.2" cy="320.6" r="2.4"/></g>
<text x="34.99" y="1040.00" font-size="84">b</text>
<path d="M293.8 993.3 H417.6 V1044.2 H293.8" fill="none" stroke="#000" stroke-width="3"/>
<rect x="417.8" y="1015.2" width="392.2" height="7.7" fill="#000"/>
<text x="268.12" y="1028.30" font-size="27">5’</text>
<text x="330.56" y="1028.30" font-size="34" letter-spacing="-0.3">exon</text>
<text x="439.23" y="1007.80" font-size="34" letter-spacing="-0.3">intron</text>
<text x="817.17" y="1028.30" font-size="27">3’</text>
<text x="294.61" y="1077.00" font-size="22">-3</text>
<text x="339.61" y="1077.00" font-size="22">-2</text>
<text x="386.20" y="1077.00" font-size="22">-<tspan font-family="'Noto Sans', 'Liberation Sans', Arial, sans-serif">1</tspan></text>
<text x="434.31" y="1077.00" font-size="22"><tspan font-family="'Noto Sans', 'Liberation Sans', Arial, sans-serif">1</tspan></text>
<text x="478.00" y="1077.00" font-size="22">2</text>
<text x="523.00" y="1077.00" font-size="22">3</text>
<text x="567.93" y="1077.00" font-size="22">4</text>
<text x="612.81" y="1077.00" font-size="22">5</text>
<text x="657.65" y="1077.00" font-size="22">6</text>
<text x="702.64" y="1077.00" font-size="22">7</text>
<text x="747.58" y="1077.00" font-size="22">8</text>
<text x="792.52" y="1077.00" font-size="22">9</text>
<text x="289.06" y="1133.30" font-size="46">A</text>
<text x="332.43" y="1133.30" font-size="46">C</text>
<text x="377.36" y="1133.30" font-size="46">C</text>
<text x="421.86" y="1133.30" font-size="46">G</text>
<text x="467.51" y="1133.30" font-size="46">U</text>
<text x="513.71" y="1133.30" font-size="46">A</text>
<text x="558.64" y="1133.30" font-size="46">A</text>
<text x="601.58" y="1133.30" font-size="46">G</text>
<text x="646.51" y="1133.30" font-size="46">G</text>
<text x="691.87" y="1133.30" font-size="46">C</text>
<text x="737.09" y="1133.30" font-size="46">U</text>
<text x="783.29" y="1133.30" font-size="46">A</text>
<text x="289.06" y="1194.54" font-size="46">A</text>
<text x="332.43" y="1194.54" font-size="46">C</text>
<text x="377.36" y="1194.54" font-size="46">C</text>
<text x="421.86" y="1194.54" font-size="46">G</text>
<text x="468.78" y="1194.54" font-size="46" fill="#e0362c">A</text>
<text x="513.71" y="1194.54" font-size="46">A</text>
<text x="558.64" y="1194.54" font-size="46">A</text>
<text x="601.58" y="1194.54" font-size="46">G</text>
<text x="646.51" y="1194.54" font-size="46">G</text>
<text x="691.87" y="1194.54" font-size="46">C</text>
<text x="737.09" y="1194.54" font-size="46">U</text>
<text x="783.29" y="1194.54" font-size="46">A</text>
<text x="289.06" y="1255.78" font-size="46">A</text>
<text x="332.43" y="1255.78" font-size="46">C</text>
<text x="377.36" y="1255.78" font-size="46">C</text>
<text x="421.86" y="1255.78" font-size="46">G</text>
<text x="467.51" y="1255.78" font-size="46">U</text>
<text x="513.71" y="1255.78" font-size="46">A</text>
<text x="557.37" y="1255.78" font-size="46" fill="#e0362c">U</text>
<text x="601.58" y="1255.78" font-size="46">G</text>
<text x="646.51" y="1255.78" font-size="46">G</text>
<text x="691.87" y="1255.78" font-size="46">C</text>
<text x="737.09" y="1255.78" font-size="46">U</text>
<text x="783.29" y="1255.78" font-size="46">A</text>
<text x="289.06" y="1317.02" font-size="46">A</text>
<text x="333.99" y="1317.02" font-size="46" fill="#e0362c">A</text>
<text x="377.36" y="1317.02" font-size="46">C</text>
<text x="421.86" y="1317.02" font-size="46">G</text>
<text x="467.51" y="1317.02" font-size="46">U</text>
<text x="513.71" y="1317.02" font-size="46">A</text>
<text x="558.64" y="1317.02" font-size="46">A</text>
<text x="601.58" y="1317.02" font-size="46">G</text>
<text x="646.51" y="1317.02" font-size="46">G</text>
<text x="691.87" y="1317.02" font-size="46">C</text>
<text x="737.09" y="1317.02" font-size="46">U</text>
<text x="783.29" y="1317.02" font-size="46">A</text>
<text x="289.06" y="1378.26" font-size="46">A</text>
<text x="332.43" y="1378.26" font-size="46">C</text>
<text x="376.93" y="1378.26" font-size="46" fill="#e0362c">G</text>
<text x="421.86" y="1378.26" font-size="46">G</text>
<text x="467.51" y="1378.26" font-size="46">U</text>
<text x="513.71" y="1378.26" font-size="46">A</text>
<text x="558.64" y="1378.26" font-size="46">A</text>
<text x="601.58" y="1378.26" font-size="46">G</text>
<text x="646.51" y="1378.26" font-size="46">G</text>
<text x="691.87" y="1378.26" font-size="46">C</text>
<text x="737.09" y="1378.26" font-size="46">U</text>
<text x="783.29" y="1378.26" font-size="46">A</text>
<text x="289.06" y="1439.50" font-size="46">A</text>
<text x="333.99" y="1439.50" font-size="46" fill="#e0362c">A</text>
<text x="376.93" y="1439.50" font-size="46" fill="#e0362c">G</text>
<text x="421.86" y="1439.50" font-size="46">G</text>
<text x="467.51" y="1439.50" font-size="46">U</text>
<text x="513.71" y="1439.50" font-size="46">A</text>
<text x="558.64" y="1439.50" font-size="46">A</text>
<text x="601.58" y="1439.50" font-size="46">G</text>
<text x="646.51" y="1439.50" font-size="46">G</text>
<text x="691.87" y="1439.50" font-size="46">C</text>
<text x="737.09" y="1439.50" font-size="46">U</text>
<text x="783.29" y="1439.50" font-size="46">A</text>
<line x1="416.50" y1="1092.00" x2="416.50" y2="1445.60" stroke="#000" stroke-width="1.5"/>
<line x1="303.90" y1="1455.00" x2="303.90" y2="1486.30" stroke="#000" stroke-width="2.5"/>
<line x1="348.83" y1="1455.00" x2="348.83" y2="1486.30" stroke="#000" stroke-width="2.5"/>
<line x1="618.41" y1="1455.00" x2="618.41" y2="1486.30" stroke="#000" stroke-width="2.5"/>
<line x1="663.34" y1="1455.00" x2="663.34" y2="1486.30" stroke="#000" stroke-width="2.5"/>
<line x1="708.27" y1="1455.00" x2="708.27" y2="1486.30" stroke="#000" stroke-width="2.5"/>
<circle cx="393.6" cy="1468.5" r="4.6" fill="#000"/>
<line x1="573.68" y1="1455.00" x2="573.68" y2="1471.00" stroke="#000" stroke-width="2.5" stroke-dasharray="3 3"/>
<text x="286.45" y="1537.00" font-size="52" font-weight="bold" fill="#d49a27">U</text>
<text x="331.38" y="1537.00" font-size="52" font-weight="bold" fill="#d49a27">U</text>
<text x="376.31" y="1537.00" font-size="52" font-weight="bold" fill="#d49a27">U</text>
<text x="335.54" y="1561.00" font-size="32" font-weight="bold" fill="#d49a27">m</text>
<text transform="translate(276.37,1615.50) scale(0.92,1)" font-size="38.5" font-weight="bold" letter-spacing="-0.5" fill="#d49a27">U5</text>
<path d="M268.8 1615 V1535 Q268.8 1514 283 1514" fill="none" stroke="#d49a27" stroke-width="9.4"/>
<path d="M413 1514 Q427 1516 427 1535 V1600" fill="none" stroke="#d49a27" stroke-width="9"/>
<circle cx="426.8" cy="1603.7" r="11.6" fill="#d49a27"/>
<path d="M470.9 1612 V1535 Q470.9 1515 485 1515" fill="none" stroke="#6cc04a" stroke-width="9.4"/>
<path d="M733 1515 Q746.5 1517 746.5 1535 V1598" fill="none" stroke="#6cc04a" stroke-width="9"/>
<circle cx="746.5" cy="1600.3" r="11.3" fill="#6cc04a"/>
<text x="490.38" y="1537.30" font-size="45" font-weight="bold" letter-spacing="-1.5" fill="#6cc04a">AG</text>
<text x="559.18" y="1537.30" font-size="45" font-weight="bold" fill="#a77bd3">A</text>
<text x="559.72" y="1502.00" font-size="24" font-weight="bold" fill="#a77bd3">m</text>
<text x="581.30" y="1493.70" font-size="19" font-weight="bold" fill="#a77bd3">6</text>
<text x="603.55" y="1537.30" font-size="45" font-weight="bold" fill="#6cc04a">C</text>
<text x="648.82" y="1537.30" font-size="45" font-weight="bold" fill="#6cc04a">A</text>
<text x="693.74" y="1537.30" font-size="45" font-weight="bold" fill="#6cc04a">U</text>
<text transform="translate(479.37,1614.00) scale(0.92,1)" font-size="38.5" font-weight="bold" letter-spacing="-0.5" fill="#6cc04a">U6</text>
<text x="1110.79" y="987.70" font-size="46" letter-spacing="-2.0">IRS</text>
<line x1="878.00" y1="1018.30" x2="1420.30" y2="1018.30" stroke="#000" stroke-width="1.5"/>
<text x="946.07" y="1069.70" font-size="44.5" letter-spacing="1.5">WT</text>
<text x="1246.64" y="1063.90" font-size="46" font-style="italic" letter-spacing="-0.2">mtl<tspan font-family="'Noto Sans', 'Liberation Sans', Arial, sans-serif">1</tspan>6</text>
<text x="1355.74" y="1063.90" font-size="47" font-family="'Liberation Serif', 'Times New Roman', serif">Δ</text>
<text transform="translate(885.37,1130.00) scale(0.95,1)" font-size="44.0" letter-spacing="-3.1">0.06</text>
<text transform="translate(970.70,1124.40) scale(0.95,1)" font-size="41">±</text>
<text transform="translate(1011.37,1130.00) scale(0.95,1)" font-size="44.0" letter-spacing="-3.1">0.04</text>
<text transform="translate(1229.41,1130.00) scale(0.95,1)" font-size="44.0" letter-spacing="-3.1">3.38</text>
<text transform="translate(1314.60,1124.40) scale(0.95,1)" font-size="41">±</text>
<text transform="translate(1354.37,1130.00) scale(0.95,1)" font-size="44.0" letter-spacing="-3.1">0.<tspan font-family="'Noto Sans', 'Liberation Sans', Arial, sans-serif">1</tspan>6</text>
<text x="1121.5" y="1108.6" font-size="40" font-family="IPAGothic, 'Liberation Sans', sans-serif" text-anchor="middle" dominant-baseline="central">*</text>
<text x="1145.7" y="1108.6" font-size="40" font-family="IPAGothic, 'Liberation Sans', sans-serif" text-anchor="middle" dominant-baseline="central">*</text>
<text x="1169.9" y="1108.6" font-size="40" font-family="IPAGothic, 'Liberation Sans', sans-serif" text-anchor="middle" dominant-baseline="central">*</text>
<text transform="translate(886.04,1191.65) scale(0.95,1)" font-size="44.0" letter-spacing="-3.1">4.3<tspan font-family="'Noto Sans', 'Liberation Sans', Arial, sans-serif">1</tspan></text>
<text transform="translate(970.70,1186.05) scale(0.95,1)" font-size="41">±</text>
<text transform="translate(1009.28,1191.65) scale(0.95,1)" font-size="44.0" letter-spacing="-3.1"><tspan font-family="'Noto Sans', 'Liberation Sans', Arial, sans-serif">1</tspan>.77</text>
<text transform="translate(1230.04,1191.65) scale(0.95,1)" font-size="44.0" letter-spacing="-3.1">4.48</text>
<text transform="translate(1314.60,1186.05) scale(0.95,1)" font-size="41">±</text>
<text transform="translate(1352.28,1191.65) scale(0.95,1)" font-size="44.0" letter-spacing="-3.1"><tspan font-family="'Noto Sans', 'Liberation Sans', Arial, sans-serif">1</tspan>.26</text>
<text transform="translate(1113.85,1192.15) scale(0.93,1)" font-size="47" letter-spacing="-1.1">n.s.</text>
<text transform="translate(886.04,1253.30) scale(0.95,1)" font-size="44.0" letter-spacing="-3.1">4.8<tspan font-family="'Noto Sans', 'Liberation Sans', Arial, sans-serif">1</tspan></text>
<text transform="translate(970.70,1247.70) scale(0.95,1)" font-size="41">±</text>
<text transform="translate(1011.37,1253.30) scale(0.95,1)" font-size="44.0" letter-spacing="-3.1">0.58</text>
<text transform="translate(1230.04,1253.30) scale(0.95,1)" font-size="44.0" letter-spacing="-3.1">4.85</text>
<text transform="translate(1314.60,1247.70) scale(0.95,1)" font-size="41">±</text>
<text transform="translate(1354.37,1253.30) scale(0.95,1)" font-size="44.0" letter-spacing="-3.1">0.42</text>
<text transform="translate(1113.85,1253.80) scale(0.93,1)" font-size="47" letter-spacing="-1.1">n.s.</text>
<text transform="translate(865.44,1314.95) scale(0.95,1)" font-size="44.0">-</text>
<text transform="translate(884.90,1314.95) scale(0.95,1)" font-size="44.0" letter-spacing="-3.1">2.6<tspan font-family="'Noto Sans', 'Liberation Sans', Arial, sans-serif">1</tspan></text>
<text transform="translate(970.70,1309.35) scale(0.95,1)" font-size="41">±</text>
<text transform="translate(1011.37,1314.95) scale(0.95,1)" font-size="44.0" letter-spacing="-3.1">0.28</text>
<text transform="translate(1209.44,1314.95) scale(0.95,1)" font-size="44.0">-</text>
<text transform="translate(1227.28,1314.95) scale(0.95,1)" font-size="44.0" letter-spacing="-3.1"><tspan font-family="'Noto Sans', 'Liberation Sans', Arial, sans-serif">1</tspan>.3<tspan font-family="'Noto Sans', 'Liberation Sans', Arial, sans-serif">1</tspan></text>
<text transform="translate(1314.60,1309.35) scale(0.95,1)" font-size="41">±</text>
<text transform="translate(1354.37,1314.95) scale(0.95,1)" font-size="44.0" letter-spacing="-3.1">0.03</text>
<text x="1133.6" y="1293.5" font-size="40" font-family="IPAGothic, 'Liberation Sans', sans-serif" text-anchor="middle" dominant-baseline="central">*</text>
<text x="1157.8" y="1293.5" font-size="40" font-family="IPAGothic, 'Liberation Sans', sans-serif" text-anchor="middle" dominant-baseline="central">*</text>
<text transform="translate(865.44,1376.60) scale(0.95,1)" font-size="44.0">-</text>
<text transform="translate(884.90,1376.60) scale(0.95,1)" font-size="44.0" letter-spacing="-3.1">2.85</text>
<text transform="translate(970.70,1371.00) scale(0.95,1)" font-size="41">±</text>
<text transform="translate(1011.37,1376.60) scale(0.95,1)" font-size="44.0" letter-spacing="-3.1">0.20</text>
<text transform="translate(1209.44,1376.60) scale(0.95,1)" font-size="44.0">-</text>
<text transform="translate(1228.90,1376.60) scale(0.95,1)" font-size="44.0" letter-spacing="-3.1">2.04</text>
<text transform="translate(1314.60,1371.00) scale(0.95,1)" font-size="41">±</text>
<text transform="translate(1354.37,1376.60) scale(0.95,1)" font-size="44.0" letter-spacing="-3.1">0.<tspan font-family="'Noto Sans', 'Liberation Sans', Arial, sans-serif">1</tspan>6</text>
<text x="1145.7" y="1355.2" font-size="40" font-family="IPAGothic, 'Liberation Sans', sans-serif" text-anchor="middle" dominant-baseline="central">*</text>
<text transform="translate(865.44,1438.25) scale(0.95,1)" font-size="44.0">-</text>
<text transform="translate(885.41,1438.25) scale(0.95,1)" font-size="44.0" letter-spacing="-3.1">3.99</text>
<text transform="translate(970.70,1432.65) scale(0.95,1)" font-size="41">±</text>
<text transform="translate(1011.37,1438.25) scale(0.95,1)" font-size="44.0" letter-spacing="-3.1">0.42</text>
<text transform="translate(1209.44,1438.25) scale(0.95,1)" font-size="44.0">-</text>
<text transform="translate(1229.41,1438.25) scale(0.95,1)" font-size="44.0" letter-spacing="-3.1">3.82</text>
<text transform="translate(1314.60,1432.65) scale(0.95,1)" font-size="41">±</text>
<text transform="translate(1354.37,1438.25) scale(0.95,1)" font-size="44.0" letter-spacing="-3.1">0.80</text>
<text transform="translate(1113.85,1436.25) scale(0.93,1)" font-size="47" letter-spacing="-1.1">n.s.</text>
<text x="38.13" y="1708.60" font-size="84">c</text>
<rect x="179.1" y="1703.7" width="1237.3" height="514.7" fill="none" stroke="#000" stroke-width="3.2"/>
<line x1="169.00" y1="1727.73" x2="179.10" y2="1727.73" stroke="#333" stroke-width="2.6"/>
<text x="141.36" y="1740.93" font-size="38" letter-spacing="-1.6"><tspan font-family="'Noto Sans', 'Liberation Sans', Arial, sans-serif">1</tspan></text>
<line x1="169.00" y1="1805.60" x2="179.10" y2="1805.60" stroke="#333" stroke-width="2.6"/>
<text x="141.97" y="1818.80" font-size="38" letter-spacing="-1.6">0</text>
<line x1="169.00" y1="1883.47" x2="179.10" y2="1883.47" stroke="#333" stroke-width="2.6"/>
<text x="130.31" y="1896.67" font-size="38" letter-spacing="-1.6">-<tspan font-family="'Noto Sans', 'Liberation Sans', Arial, sans-serif">1</tspan></text>
<line x1="169.00" y1="1961.34" x2="179.10" y2="1961.34" stroke="#333" stroke-width="2.6"/>
<text x="130.91" y="1974.54" font-size="38" letter-spacing="-1.6">-2</text>
<line x1="169.00" y1="2039.21" x2="179.10" y2="2039.21" stroke="#333" stroke-width="2.6"/>
<text x="130.91" y="2052.41" font-size="38" letter-spacing="-1.6">-3</text>
<line x1="169.00" y1="2117.08" x2="179.10" y2="2117.08" stroke="#333" stroke-width="2.6"/>
<text x="130.91" y="2130.28" font-size="38" letter-spacing="-1.6">-4</text>
<line x1="169.00" y1="2194.95" x2="179.10" y2="2194.95" stroke="#333" stroke-width="2.6"/>
<text x="130.91" y="2208.15" font-size="38" letter-spacing="-1.6">-5</text>
<text transform="translate(111.2,1992.0) rotate(-90)" font-size="38.5" letter-spacing="-0.5">IRS</text>
<rect x="214.3" y="2046.8" width="35.9" height="148.1" fill="#fa8e80" stroke="#000" stroke-width="2.6"/>
<rect x="250.2" y="2037.8" width="35.9" height="157.1" fill="#cfa925" stroke="#000" stroke-width="2.6"/>
<rect x="286.1" y="2037.8" width="35.9" height="157.1" fill="#80cb37" stroke="#000" stroke-width="2.6"/>
<rect x="322.0" y="1753.5" width="35.9" height="441.4" fill="#94dedb" stroke="#000" stroke-width="2.6"/>
<rect x="357.9" y="1753.5" width="35.9" height="441.4" fill="#8cb7e1" stroke="#000" stroke-width="2.6"/>
<rect x="393.8" y="1882.2" width="35.9" height="312.7" fill="#e194d0" stroke="#000" stroke-width="2.6"/>
<rect x="451.5" y="2159.3" width="35.9" height="35.6" fill="#fa8e80" stroke="#000" stroke-width="2.6"/>
<rect x="487.4" y="2102.1" width="35.9" height="92.8" fill="#cfa925" stroke="#000" stroke-width="2.6"/>
<rect x="523.3" y="2085.4" width="35.9" height="109.5" fill="#80cb37" stroke="#000" stroke-width="2.6"/>
<rect x="559.2" y="1934.7" width="35.9" height="260.2" fill="#94dedb" stroke="#000" stroke-width="2.6"/>
<rect x="595.1" y="1944.7" width="35.9" height="250.2" fill="#8cb7e1" stroke="#000" stroke-width="2.6"/>
<rect x="631.0" y="2009.0" width="35.9" height="185.9" fill="#e194d0" stroke="#000" stroke-width="2.6"/>
<rect x="689.4" y="1940.0" width="35.9" height="254.9" fill="#fa8e80" stroke="#000" stroke-width="2.6"/>
<rect x="725.3" y="1918.6" width="35.9" height="276.3" fill="#cfa925" stroke="#000" stroke-width="2.6"/>
<rect x="761.2" y="1961.4" width="35.9" height="233.5" fill="#80cb37" stroke="#000" stroke-width="2.6"/>
<rect x="797.1" y="1761.1" width="35.9" height="433.8" fill="#94dedb" stroke="#000" stroke-width="2.6"/>
<rect x="833.0" y="1763.3" width="35.9" height="431.6" fill="#8cb7e1" stroke="#000" stroke-width="2.6"/>
<rect x="868.9" y="1818.6" width="35.9" height="376.3" fill="#e194d0" stroke="#000" stroke-width="2.6"/>
<rect x="927.1" y="2123.4" width="35.9" height="71.5" fill="#fa8e80" stroke="#000" stroke-width="2.6"/>
<rect x="963.0" y="2109.3" width="35.9" height="85.6" fill="#cfa925" stroke="#000" stroke-width="2.6"/>
<rect x="998.9" y="2114.0" width="35.9" height="80.9" fill="#80cb37" stroke="#000" stroke-width="2.6"/>
<rect x="1034.8" y="1809.0" width="35.9" height="385.9" fill="#94dedb" stroke="#000" stroke-width="2.6"/>
<rect x="1070.7" y="1837.2" width="35.9" height="357.7" fill="#8cb7e1" stroke="#000" stroke-width="2.6"/>
<rect x="1106.6" y="1939.9" width="35.9" height="255.0" fill="#e194d0" stroke="#000" stroke-width="2.6"/>
<rect x="1165.2" y="1918.6" width="35.9" height="276.3" fill="#fa8e80" stroke="#000" stroke-width="2.6"/>
<rect x="1201.1" y="1899.3" width="35.9" height="295.6" fill="#cfa925" stroke="#000" stroke-width="2.6"/>
<rect x="1237.0" y="1887.1" width="35.9" height="307.8" fill="#80cb37" stroke="#000" stroke-width="2.6"/>
<rect x="1272.9" y="1945.0" width="35.9" height="249.9" fill="#94dedb" stroke="#000" stroke-width="2.6"/>
<rect x="1308.8" y="1949.3" width="35.9" height="245.6" fill="#8cb7e1" stroke="#000" stroke-width="2.6"/>
<rect x="1344.7" y="1882.6" width="35.9" height="312.3" fill="#e194d0" stroke="#000" stroke-width="2.6"/>
<circle cx="231.2" cy="2036.8" r="4.9" fill="#fa8e80" stroke="#000" stroke-width="2.1"/>
<circle cx="232.2" cy="2044.8" r="4.9" fill="#fa8e80" stroke="#000" stroke-width="2.1"/>
<circle cx="228.8" cy="2054.1" r="4.9" fill="#fa8e80" stroke="#000" stroke-width="2.1"/>
<circle cx="238.8" cy="2054.1" r="4.9" fill="#fa8e80" stroke="#000" stroke-width="2.1"/>
<line x1="232.25" y1="2039.80" x2="232.25" y2="2053.80" stroke="#000" stroke-width="2.4"/>
<line x1="221.95" y1="2039.80" x2="242.55" y2="2039.80" stroke="#000" stroke-width="2.4"/>
<line x1="221.95" y1="2053.80" x2="242.55" y2="2053.80" stroke="#000" stroke-width="2.4"/>
<circle cx="252.4" cy="2037.8" r="4.9" fill="#cfa925" stroke="#000" stroke-width="2.1"/>
<circle cx="262.0" cy="2037.8" r="4.9" fill="#cfa925" stroke="#000" stroke-width="2.1"/>
<circle cx="273.7" cy="2037.8" r="4.9" fill="#cfa925" stroke="#000" stroke-width="2.1"/>
<circle cx="285.4" cy="2037.8" r="4.9" fill="#cfa925" stroke="#000" stroke-width="2.1"/>
<line x1="268.15" y1="2036.80" x2="268.15" y2="2038.80" stroke="#000" stroke-width="2.4"/>
<line x1="257.85" y1="2036.80" x2="278.45" y2="2036.80" stroke="#000" stroke-width="2.4"/>
<line x1="257.85" y1="2038.80" x2="278.45" y2="2038.80" stroke="#000" stroke-width="2.4"/>
<circle cx="290.8" cy="2039.8" r="4.9" fill="#80cb37" stroke="#000" stroke-width="2.1"/>
<circle cx="302.4" cy="2035.0" r="4.9" fill="#80cb37" stroke="#000" stroke-width="2.1"/>
<circle cx="302.4" cy="2040.2" r="4.9" fill="#80cb37" stroke="#000" stroke-width="2.1"/>
<circle cx="317.2" cy="2039.8" r="4.9" fill="#80cb37" stroke="#000" stroke-width="2.1"/>
<line x1="304.05" y1="2036.30" x2="304.05" y2="2039.30" stroke="#000" stroke-width="2.4"/>
<line x1="293.75" y1="2036.30" x2="314.35" y2="2036.30" stroke="#000" stroke-width="2.4"/>
<line x1="293.75" y1="2039.30" x2="314.35" y2="2039.30" stroke="#000" stroke-width="2.4"/>
<circle cx="326.8" cy="1756.3" r="4.9" fill="#94dedb" stroke="#000" stroke-width="2.1"/>
<circle cx="340.8" cy="1756.3" r="4.9" fill="#94dedb" stroke="#000" stroke-width="2.1"/>
<circle cx="350.6" cy="1756.3" r="4.9" fill="#94dedb" stroke="#000" stroke-width="2.1"/>
<circle cx="338.4" cy="1745.8" r="4.9" fill="#94dedb" stroke="#000" stroke-width="2.1"/>
<line x1="339.95" y1="1747.00" x2="339.95" y2="1760.00" stroke="#000" stroke-width="2.4"/>
<line x1="329.65" y1="1747.00" x2="350.25" y2="1747.00" stroke="#000" stroke-width="2.4"/>
<line x1="329.65" y1="1760.00" x2="350.25" y2="1760.00" stroke="#000" stroke-width="2.4"/>
<circle cx="374.4" cy="1750.6" r="4.9" fill="#8cb7e1" stroke="#000" stroke-width="2.1"/>
<circle cx="380.5" cy="1753.5" r="4.9" fill="#8cb7e1" stroke="#000" stroke-width="2.1"/>
<circle cx="372.8" cy="1753.5" r="4.9" fill="#8cb7e1" stroke="#000" stroke-width="2.1"/>
<circle cx="374.4" cy="1761.9" r="4.9" fill="#8cb7e1" stroke="#000" stroke-width="2.1"/>
<line x1="375.85" y1="1749.00" x2="375.85" y2="1758.70" stroke="#000" stroke-width="2.4"/>
<line x1="365.55" y1="1749.00" x2="386.15" y2="1749.00" stroke="#000" stroke-width="2.4"/>
<line x1="365.55" y1="1758.70" x2="386.15" y2="1758.70" stroke="#000" stroke-width="2.4"/>
<circle cx="405.1" cy="1877.8" r="4.9" fill="#e194d0" stroke="#000" stroke-width="2.1"/>
<circle cx="417.2" cy="1877.8" r="4.9" fill="#e194d0" stroke="#000" stroke-width="2.1"/>
<circle cx="405.1" cy="1887.1" r="4.9" fill="#e194d0" stroke="#000" stroke-width="2.1"/>
<circle cx="419.8" cy="1887.1" r="4.9" fill="#e194d0" stroke="#000" stroke-width="2.1"/>
<line x1="411.75" y1="1880.70" x2="411.75" y2="1883.70" stroke="#000" stroke-width="2.4"/>
<line x1="401.45" y1="1880.70" x2="422.05" y2="1880.70" stroke="#000" stroke-width="2.4"/>
<line x1="401.45" y1="1883.70" x2="422.05" y2="1883.70" stroke="#000" stroke-width="2.4"/>
<line x1="322.00" y1="2218.40" x2="322.00" y2="2228.70" stroke="#333" stroke-width="2.6"/>
<circle cx="471.5" cy="2145.0" r="4.9" fill="#fa8e80" stroke="#000" stroke-width="2.1"/>
<circle cx="469.5" cy="2160.7" r="4.9" fill="#fa8e80" stroke="#000" stroke-width="2.1"/>
<circle cx="469.5" cy="2171.4" r="4.9" fill="#fa8e80" stroke="#000" stroke-width="2.1"/>
<line x1="469.45" y1="2145.00" x2="469.45" y2="2173.60" stroke="#000" stroke-width="2.4"/>
<line x1="459.15" y1="2145.00" x2="479.75" y2="2145.00" stroke="#000" stroke-width="2.4"/>
<line x1="459.15" y1="2173.60" x2="479.75" y2="2173.60" stroke="#000" stroke-width="2.4"/>
<circle cx="507.6" cy="2093.6" r="4.9" fill="#cfa925" stroke="#000" stroke-width="2.1"/>
<circle cx="499.7" cy="2107.1" r="4.9" fill="#cfa925" stroke="#000" stroke-width="2.1"/>
<circle cx="511.8" cy="2107.1" r="4.9" fill="#cfa925" stroke="#000" stroke-width="2.1"/>
<line x1="505.35" y1="2097.60" x2="505.35" y2="2106.60" stroke="#000" stroke-width="2.4"/>
<line x1="495.05" y1="2097.60" x2="515.65" y2="2097.60" stroke="#000" stroke-width="2.4"/>
<line x1="495.05" y1="2106.60" x2="515.65" y2="2106.60" stroke="#000" stroke-width="2.4"/>
<circle cx="543.5" cy="2079.3" r="4.9" fill="#80cb37" stroke="#000" stroke-width="2.1"/>
<circle cx="535.6" cy="2090.7" r="4.9" fill="#80cb37" stroke="#000" stroke-width="2.1"/>
<circle cx="546.3" cy="2090.7" r="4.9" fill="#80cb37" stroke="#000" stroke-width="2.1"/>
<line x1="541.25" y1="2080.70" x2="541.25" y2="2090.10" stroke="#000" stroke-width="2.4"/>
<line x1="530.95" y1="2080.70" x2="551.55" y2="2080.70" stroke="#000" stroke-width="2.4"/>
<line x1="530.95" y1="2090.10" x2="551.55" y2="2090.10" stroke="#000" stroke-width="2.4"/>
<circle cx="570.0" cy="1934.7" r="4.9" fill="#94dedb" stroke="#000" stroke-width="2.1"/>
<circle cx="575.7" cy="1930.7" r="4.9" fill="#94dedb" stroke="#000" stroke-width="2.1"/>
<circle cx="581.4" cy="1934.7" r="4.9" fill="#94dedb" stroke="#000" stroke-width="2.1"/>
<line x1="577.15" y1="1933.70" x2="577.15" y2="1935.70" stroke="#000" stroke-width="2.4"/>
<line x1="566.85" y1="1933.70" x2="587.45" y2="1933.70" stroke="#000" stroke-width="2.4"/>
<line x1="566.85" y1="1935.70" x2="587.45" y2="1935.70" stroke="#000" stroke-width="2.4"/>
<circle cx="609.5" cy="1935.7" r="4.9" fill="#8cb7e1" stroke="#000" stroke-width="2.1"/>
<circle cx="607.4" cy="1947.9" r="4.9" fill="#8cb7e1" stroke="#000" stroke-width="2.1"/>
<circle cx="617.4" cy="1947.9" r="4.9" fill="#8cb7e1" stroke="#000" stroke-width="2.1"/>
<line x1="613.05" y1="1937.90" x2="613.05" y2="1951.50" stroke="#000" stroke-width="2.4"/>
<line x1="602.75" y1="1937.90" x2="623.35" y2="1937.90" stroke="#000" stroke-width="2.4"/>
<line x1="602.75" y1="1951.50" x2="623.35" y2="1951.50" stroke="#000" stroke-width="2.4"/>
<circle cx="651.0" cy="2000.7" r="4.9" fill="#e194d0" stroke="#000" stroke-width="2.1"/>
<circle cx="649.0" cy="2012.1" r="4.9" fill="#e194d0" stroke="#000" stroke-width="2.1"/>
<circle cx="649.0" cy="2016.4" r="4.9" fill="#e194d0" stroke="#000" stroke-width="2.1"/>
<line x1="648.95" y1="2001.70" x2="648.95" y2="2016.40" stroke="#000" stroke-width="2.4"/>
<line x1="638.65" y1="2001.70" x2="659.25" y2="2001.70" stroke="#000" stroke-width="2.4"/>
<line x1="638.65" y1="2016.40" x2="659.25" y2="2016.40" stroke="#000" stroke-width="2.4"/>
<line x1="559.20" y1="2218.40" x2="559.20" y2="2228.70" stroke="#333" stroke-width="2.6"/>
<circle cx="708.9" cy="1930.3" r="4.9" fill="#fa8e80" stroke="#000" stroke-width="2.1"/>
<circle cx="703.9" cy="1947.1" r="4.9" fill="#fa8e80" stroke="#000" stroke-width="2.1"/>
<circle cx="716.0" cy="1947.1" r="4.9" fill="#fa8e80" stroke="#000" stroke-width="2.1"/>
<line x1="707.35" y1="1930.30" x2="707.35" y2="1952.10" stroke="#000" stroke-width="2.4"/>
<line x1="697.05" y1="1930.30" x2="717.65" y2="1930.30" stroke="#000" stroke-width="2.4"/>
<line x1="697.05" y1="1952.10" x2="717.65" y2="1952.10" stroke="#000" stroke-width="2.4"/>
<circle cx="744.6" cy="1896.4" r="4.9" fill="#cfa925" stroke="#000" stroke-width="2.1"/>
<circle cx="745.3" cy="1927.9" r="4.9" fill="#cfa925" stroke="#000" stroke-width="2.1"/>
<circle cx="741.0" cy="1935.7" r="4.9" fill="#cfa925" stroke="#000" stroke-width="2.1"/>
<line x1="743.25" y1="1899.30" x2="743.25" y2="1940.00" stroke="#000" stroke-width="2.4"/>
<line x1="732.95" y1="1899.30" x2="753.55" y2="1899.30" stroke="#000" stroke-width="2.4"/>
<line x1="732.95" y1="1940.00" x2="753.55" y2="1940.00" stroke="#000" stroke-width="2.4"/>
<circle cx="780.2" cy="1949.4" r="4.9" fill="#80cb37" stroke="#000" stroke-width="2.1"/>
<circle cx="780.2" cy="1964.4" r="4.9" fill="#80cb37" stroke="#000" stroke-width="2.1"/>
<circle cx="778.2" cy="1970.0" r="4.9" fill="#80cb37" stroke="#000" stroke-width="2.1"/>
<line x1="779.15" y1="1949.30" x2="779.15" y2="1970.70" stroke="#000" stroke-width="2.4"/>
<line x1="768.85" y1="1949.30" x2="789.45" y2="1949.30" stroke="#000" stroke-width="2.4"/>
<line x1="768.85" y1="1970.70" x2="789.45" y2="1970.70" stroke="#000" stroke-width="2.4"/>
<circle cx="816.1" cy="1752.1" r="4.9" fill="#94dedb" stroke="#000" stroke-width="2.1"/>
<circle cx="813.1" cy="1761.1" r="4.9" fill="#94dedb" stroke="#000" stroke-width="2.1"/>
<circle cx="816.1" cy="1768.6" r="4.9" fill="#94dedb" stroke="#000" stroke-width="2.1"/>
<line x1="815.05" y1="1753.90" x2="815.05" y2="1768.60" stroke="#000" stroke-width="2.4"/>
<line x1="804.75" y1="1753.90" x2="825.35" y2="1753.90" stroke="#000" stroke-width="2.4"/>
<line x1="804.75" y1="1768.60" x2="825.35" y2="1768.60" stroke="#000" stroke-width="2.4"/>
<circle cx="844.6" cy="1763.3" r="4.9" fill="#8cb7e1" stroke="#000" stroke-width="2.1"/>
<circle cx="851.7" cy="1759.3" r="4.9" fill="#8cb7e1" stroke="#000" stroke-width="2.1"/>
<circle cx="856.7" cy="1763.3" r="4.9" fill="#8cb7e1" stroke="#000" stroke-width="2.1"/>
<line x1="850.95" y1="1762.30" x2="850.95" y2="1764.30" stroke="#000" stroke-width="2.4"/>
<line x1="840.65" y1="1762.30" x2="861.25" y2="1762.30" stroke="#000" stroke-width="2.4"/>
<line x1="840.65" y1="1764.30" x2="861.25" y2="1764.30" stroke="#000" stroke-width="2.4"/>
<circle cx="885.3" cy="1796.0" r="4.9" fill="#e194d0" stroke="#000" stroke-width="2.1"/>
<circle cx="887.4" cy="1822.9" r="4.9" fill="#e194d0" stroke="#000" stroke-width="2.1"/>
<circle cx="885.3" cy="1837.1" r="4.9" fill="#e194d0" stroke="#000" stroke-width="2.1"/>
<line x1="886.85" y1="1799.30" x2="886.85" y2="1840.00" stroke="#000" stroke-width="2.4"/>
<line x1="876.55" y1="1799.30" x2="897.15" y2="1799.30" stroke="#000" stroke-width="2.4"/>
<line x1="876.55" y1="1840.00" x2="897.15" y2="1840.00" stroke="#000" stroke-width="2.4"/>
<line x1="797.10" y1="2218.40" x2="797.10" y2="2228.70" stroke="#333" stroke-width="2.6"/>
<circle cx="944.1" cy="2115.5" r="4.9" fill="#fa8e80" stroke="#000" stroke-width="2.1"/>
<circle cx="940.9" cy="2125.7" r="4.9" fill="#fa8e80" stroke="#000" stroke-width="2.1"/>
<circle cx="951.9" cy="2125.7" r="4.9" fill="#fa8e80" stroke="#000" stroke-width="2.1"/>
<line x1="945.05" y1="2116.30" x2="945.05" y2="2128.90" stroke="#000" stroke-width="2.4"/>
<line x1="934.75" y1="2116.30" x2="955.35" y2="2116.30" stroke="#000" stroke-width="2.4"/>
<line x1="934.75" y1="2128.90" x2="955.35" y2="2128.90" stroke="#000" stroke-width="2.4"/>
<circle cx="980.1" cy="2096.7" r="4.9" fill="#cfa925" stroke="#000" stroke-width="2.1"/>
<circle cx="975.4" cy="2115.5" r="4.9" fill="#cfa925" stroke="#000" stroke-width="2.1"/>
<circle cx="985.6" cy="2115.5" r="4.9" fill="#cfa925" stroke="#000" stroke-width="2.1"/>
<line x1="980.95" y1="2099.90" x2="980.95" y2="2118.70" stroke="#000" stroke-width="2.4"/>
<line x1="970.65" y1="2099.90" x2="991.25" y2="2099.90" stroke="#000" stroke-width="2.4"/>
<line x1="970.65" y1="2118.70" x2="991.25" y2="2118.70" stroke="#000" stroke-width="2.4"/>
<circle cx="1015.4" cy="2106.1" r="4.9" fill="#80cb37" stroke="#000" stroke-width="2.1"/>
<circle cx="1017.0" cy="2112.4" r="4.9" fill="#80cb37" stroke="#000" stroke-width="2.1"/>
<circle cx="1017.8" cy="2120.2" r="4.9" fill="#80cb37" stroke="#000" stroke-width="2.1"/>
<line x1="1016.85" y1="2106.90" x2="1016.85" y2="2118.70" stroke="#000" stroke-width="2.4"/>
<line x1="1006.55" y1="2106.90" x2="1027.15" y2="2106.90" stroke="#000" stroke-width="2.4"/>
<line x1="1006.55" y1="2118.70" x2="1027.15" y2="2118.70" stroke="#000" stroke-width="2.4"/>
<circle cx="1051.7" cy="1798.0" r="4.9" fill="#94dedb" stroke="#000" stroke-width="2.1"/>
<circle cx="1050.8" cy="1808.2" r="4.9" fill="#94dedb" stroke="#000" stroke-width="2.1"/>
<circle cx="1051.7" cy="1816.8" r="4.9" fill="#94dedb" stroke="#000" stroke-width="2.1"/>
<line x1="1052.75" y1="1799.60" x2="1052.75" y2="1816.00" stroke="#000" stroke-width="2.4"/>
<line x1="1042.45" y1="1799.60" x2="1063.05" y2="1799.60" stroke="#000" stroke-width="2.4"/>
<line x1="1042.45" y1="1816.00" x2="1063.05" y2="1816.00" stroke="#000" stroke-width="2.4"/>
<circle cx="1086.8" cy="1834.1" r="4.9" fill="#8cb7e1" stroke="#000" stroke-width="2.1"/>
<circle cx="1083.7" cy="1840.4" r="4.9" fill="#8cb7e1" stroke="#000" stroke-width="2.1"/>
<circle cx="1093.9" cy="1840.4" r="4.9" fill="#8cb7e1" stroke="#000" stroke-width="2.1"/>
<line x1="1088.65" y1="1835.70" x2="1088.65" y2="1838.70" stroke="#000" stroke-width="2.4"/>
<line x1="1078.35" y1="1835.70" x2="1098.95" y2="1835.70" stroke="#000" stroke-width="2.4"/>
<line x1="1078.35" y1="1838.70" x2="1098.95" y2="1838.70" stroke="#000" stroke-width="2.4"/>
<circle cx="1111.2" cy="1939.9" r="4.9" fill="#e194d0" stroke="#000" stroke-width="2.1"/>
<circle cx="1123.0" cy="1939.9" r="4.9" fill="#e194d0" stroke="#000" stroke-width="2.1"/>
<circle cx="1137.0" cy="1939.9" r="4.9" fill="#e194d0" stroke="#000" stroke-width="2.1"/>
<line x1="1124.55" y1="1939.40" x2="1124.55" y2="1940.40" stroke="#000" stroke-width="2.4"/>
<line x1="1114.25" y1="1939.40" x2="1134.85" y2="1939.40" stroke="#000" stroke-width="2.4"/>
<line x1="1114.25" y1="1940.40" x2="1134.85" y2="1940.40" stroke="#000" stroke-width="2.4"/>
<line x1="1034.80" y1="2218.40" x2="1034.80" y2="2228.70" stroke="#333" stroke-width="2.6"/>
<circle cx="1182.4" cy="1910.0" r="4.9" fill="#fa8e80" stroke="#000" stroke-width="2.1"/>
<circle cx="1178.1" cy="1923.6" r="4.9" fill="#fa8e80" stroke="#000" stroke-width="2.1"/>
<circle cx="1189.5" cy="1923.6" r="4.9" fill="#fa8e80" stroke="#000" stroke-width="2.1"/>
<line x1="1183.15" y1="1913.60" x2="1183.15" y2="1925.70" stroke="#000" stroke-width="2.4"/>
<line x1="1172.85" y1="1913.60" x2="1193.45" y2="1913.60" stroke="#000" stroke-width="2.4"/>
<line x1="1172.85" y1="1925.70" x2="1193.45" y2="1925.70" stroke="#000" stroke-width="2.4"/>
<circle cx="1218.1" cy="1886.4" r="4.9" fill="#cfa925" stroke="#000" stroke-width="2.1"/>
<circle cx="1219.5" cy="1905.0" r="4.9" fill="#cfa925" stroke="#000" stroke-width="2.1"/>
<circle cx="1217.4" cy="1909.3" r="4.9" fill="#cfa925" stroke="#000" stroke-width="2.1"/>
<line x1="1219.05" y1="1887.10" x2="1219.05" y2="1911.40" stroke="#000" stroke-width="2.4"/>
<line x1="1208.75" y1="1887.10" x2="1229.35" y2="1887.10" stroke="#000" stroke-width="2.4"/>
<line x1="1208.75" y1="1911.40" x2="1229.35" y2="1911.40" stroke="#000" stroke-width="2.4"/>
<circle cx="1256.7" cy="1881.4" r="4.9" fill="#80cb37" stroke="#000" stroke-width="2.1"/>
<circle cx="1248.8" cy="1890.0" r="4.9" fill="#80cb37" stroke="#000" stroke-width="2.1"/>
<circle cx="1261.0" cy="1890.0" r="4.9" fill="#80cb37" stroke="#000" stroke-width="2.1"/>
<line x1="1254.95" y1="1882.60" x2="1254.95" y2="1891.60" stroke="#000" stroke-width="2.4"/>
<line x1="1244.65" y1="1882.60" x2="1265.25" y2="1882.60" stroke="#000" stroke-width="2.4"/>
<line x1="1244.65" y1="1891.60" x2="1265.25" y2="1891.60" stroke="#000" stroke-width="2.4"/>
<circle cx="1284.5" cy="1940.7" r="4.9" fill="#94dedb" stroke="#000" stroke-width="2.1"/>
<circle cx="1297.4" cy="1940.7" r="4.9" fill="#94dedb" stroke="#000" stroke-width="2.1"/>
<circle cx="1291.7" cy="1952.1" r="4.9" fill="#94dedb" stroke="#000" stroke-width="2.1"/>
<line x1="1290.85" y1="1945.50" x2="1290.85" y2="1948.00" stroke="#000" stroke-width="2.4"/>
<line x1="1280.55" y1="1945.50" x2="1301.15" y2="1945.50" stroke="#000" stroke-width="2.4"/>
<line x1="1280.55" y1="1948.00" x2="1301.15" y2="1948.00" stroke="#000" stroke-width="2.4"/>
<circle cx="1323.0" cy="1936.4" r="4.9" fill="#8cb7e1" stroke="#000" stroke-width="2.1"/>
<circle cx="1319.5" cy="1956.4" r="4.9" fill="#8cb7e1" stroke="#000" stroke-width="2.1"/>
<circle cx="1332.3" cy="1956.4" r="4.9" fill="#8cb7e1" stroke="#000" stroke-width="2.1"/>
<line x1="1326.75" y1="1937.60" x2="1326.75" y2="1961.40" stroke="#000" stroke-width="2.4"/>
<line x1="1316.45" y1="1937.60" x2="1337.05" y2="1937.60" stroke="#000" stroke-width="2.4"/>
<line x1="1316.45" y1="1961.40" x2="1337.05" y2="1961.40" stroke="#000" stroke-width="2.4"/>
<circle cx="1356.7" cy="1877.9" r="4.9" fill="#e194d0" stroke="#000" stroke-width="2.1"/>
<circle cx="1366.7" cy="1877.9" r="4.9" fill="#e194d0" stroke="#000" stroke-width="2.1"/>
<circle cx="1361.7" cy="1888.6" r="4.9" fill="#e194d0" stroke="#000" stroke-width="2.1"/>
<line x1="1362.65" y1="1881.60" x2="1362.65" y2="1886.00" stroke="#000" stroke-width="2.4"/>
<line x1="1352.35" y1="1881.60" x2="1372.95" y2="1881.60" stroke="#000" stroke-width="2.4"/>
<line x1="1352.35" y1="1886.00" x2="1372.95" y2="1886.00" stroke="#000" stroke-width="2.4"/>
<line x1="1272.90" y1="2218.40" x2="1272.90" y2="2228.70" stroke="#333" stroke-width="2.6"/>
<text x="256.01" y="2261.8" font-size="38.5" letter-spacing="-2.225"><tspan font-style="italic">nhm<tspan font-family="'Noto Sans', 'Liberation Sans', Arial, sans-serif">1</tspan></tspan> #2</text>
<text x="499.23" y="2261.8" font-size="38.5" letter-spacing="-0.764"><tspan font-style="italic">ysh<tspan font-family="'Noto Sans', 'Liberation Sans', Arial, sans-serif">1</tspan></tspan> #<tspan font-family="'Noto Sans', 'Liberation Sans', Arial, sans-serif">1</tspan></text>
<text x="742.40" y="2261.8" font-size="38.5" letter-spacing="-1.460"><tspan font-style="italic">trk2</tspan> #3</text>
<text x="960.31" y="2261.8" font-size="38.5" letter-spacing="-0.288"><tspan font-style="italic">sec7<tspan font-family="'Noto Sans', 'Liberation Sans', Arial, sans-serif">1</tspan></tspan> #<tspan font-family="'Noto Sans', 'Liberation Sans', Arial, sans-serif">1</tspan></text>
<text x="1180.29" y="2261.8" font-size="38.5" letter-spacing="-0.310"><tspan font-style="italic">atg<tspan font-family="'Noto Sans', 'Liberation Sans', Arial, sans-serif">1</tspan>803</tspan> #2</text>
<text x="349.78" y="1726.80" font-size="19" letter-spacing="-0.95">p = 9.9e- 9</text>
<line x1="360.00" y1="1737.40" x2="423.50" y2="1737.40" stroke="#000" stroke-width="3.2"/>
<text x="589.48" y="1909.50" font-size="19" letter-spacing="-0.95">p = 2.6e- 4</text>
<line x1="600.00" y1="1920.40" x2="663.10" y2="1920.40" stroke="#000" stroke-width="3.2"/>
<text x="825.18" y="1730.00" font-size="19" letter-spacing="-0.95">p = 8.8e- 3</text>
<line x1="836.00" y1="1742.00" x2="899.30" y2="1742.00" stroke="#000" stroke-width="3.2"/>
<text x="1075.18" y="1808.20" font-size="19" letter-spacing="-0.95">p = 2.4e- 6</text>
<line x1="1074.00" y1="1819.50" x2="1136.70" y2="1819.50" stroke="#000" stroke-width="3.2"/>
<text x="1301.08" y="1850.00" font-size="19" letter-spacing="-0.95">p = 6.0e- 4</text>
<line x1="1311.60" y1="1861.40" x2="1374.40" y2="1861.40" stroke="#000" stroke-width="3.2"/>
<rect x="1469.2" y="1804.3" width="51.4" height="51.4" fill="#fa8e80" stroke="#000" stroke-width="2.4"/>
<text x="1541.07" y="1837.50" font-size="29" letter-spacing="-1.539">WT+pDblet</text>
<rect x="1469.2" y="1862.9" width="51.4" height="51.4" fill="#cfa925" stroke="#000" stroke-width="2.4"/>
<text x="1541.07" y="1896.10" font-size="29" letter-spacing="-0.516">WT+pU5WT</text>
<rect x="1469.2" y="1921.5" width="51.4" height="51.4" fill="#80cb37" stroke="#000" stroke-width="2.4"/>
<text x="1541.07" y="1954.70" font-size="29" letter-spacing="-0.797">WT+pU5AGA</text>
<rect x="1469.2" y="1980.1" width="51.4" height="51.4" fill="#94dedb" stroke="#000" stroke-width="2.4"/>
<text x="1541.92" y="2013.30" font-size="29" font-style="italic" letter-spacing="-2.771">mtl<tspan font-family="'Noto Sans', 'Liberation Sans', Arial, sans-serif">1</tspan>6</text>
<text x="1600.29" y="2013.30" font-size="26.5" font-family="'Liberation Serif', 'Times New Roman', serif">Δ</text>
<text x="1616.58" y="2013.30" font-size="29" letter-spacing="-1.3">+pDblet</text>
<rect x="1469.2" y="2038.7" width="51.4" height="51.4" fill="#8cb7e1" stroke="#000" stroke-width="2.4"/>
<text x="1541.92" y="2071.90" font-size="29" font-style="italic" letter-spacing="-2.771">mtl<tspan font-family="'Noto Sans', 'Liberation Sans', Arial, sans-serif">1</tspan>6</text>
<text x="1600.29" y="2071.90" font-size="26.5" font-family="'Liberation Serif', 'Times New Roman', serif">Δ</text>
<text x="1616.58" y="2071.90" font-size="29">+pU5WT</text>
<rect x="1469.2" y="2097.3" width="51.4" height="51.4" fill="#e194d0" stroke="#000" stroke-width="2.4"/>
<text x="1541.92" y="2130.50" font-size="29" font-style="italic" letter-spacing="-2.771">mtl<tspan font-family="'Noto Sans', 'Liberation Sans', Arial, sans-serif">1</tspan>6</text>
<text x="1600.29" y="2130.50" font-size="26.5" font-family="'Liberation Serif', 'Times New Roman', serif">Δ</text>
<text x="1616.58" y="2130.50" font-size="29" letter-spacing="-0.45">+pU5AGA</text>
<path d="M238.8 2310 H388.5 V2370 H238.8" fill="none" stroke="#000" stroke-width="5.5"/>
<rect x="388.5" y="2335.5" width="15.5" height="9" fill="#000"/>
<text x="259.53" y="2362.00" font-size="57.7" font-weight="bold" letter-spacing="-1.76"><tspan fill="#3c3a9c">U</tspan><tspan fill="#3c3a9c">C</tspan><tspan fill="#3c3a9c">U</tspan></text>
<line x1="279.20" y1="2377.80" x2="279.20" y2="2400.40" stroke="#000" stroke-width="3"/>
<line x1="319.60" y1="2377.80" x2="319.60" y2="2400.40" stroke="#000" stroke-width="3"/>
<line x1="361.20" y1="2377.80" x2="361.20" y2="2400.40" stroke="#000" stroke-width="3"/>
<text x="258.74" y="2448.40" font-size="56.6" font-weight="bold" letter-spacing="-1.686" fill="#d49a27">AGA</text>
<path d="M243.9 2488 V2440 Q243.9 2423 258.0 2423" fill="none" stroke="#d49a27" stroke-width="8.4"/>
<path d="M383.0 2423 Q396.0 2425 396.0 2440 V2488" fill="none" stroke="#d49a27" stroke-width="8.4"/>
<path d="M476.8 2310 H626.5 V2370 H476.8" fill="none" stroke="#000" stroke-width="5.5"/>
<rect x="626.5" y="2335.5" width="15.5" height="9" fill="#000"/>
<text x="496.53" y="2362.00" font-size="57.7" font-weight="bold" letter-spacing="-2.232"><tspan fill="#3c3a9c">U</tspan><tspan fill="#3c3a9c">C</tspan><tspan fill="#3c3a9c">C</tspan></text>
<line x1="517.20" y1="2377.80" x2="517.20" y2="2400.40" stroke="#000" stroke-width="3"/>
<line x1="557.60" y1="2377.80" x2="557.60" y2="2400.40" stroke="#000" stroke-width="3"/>
<text x="496.74" y="2448.40" font-size="56.6" font-weight="bold" letter-spacing="-1.686" fill="#d49a27">AGA</text>
<path d="M481.9 2488 V2440 Q481.9 2423 496.0 2423" fill="none" stroke="#d49a27" stroke-width="8.4"/>
<path d="M621.0 2423 Q634.0 2425 634.0 2440 V2488" fill="none" stroke="#d49a27" stroke-width="8.4"/>
<path d="M714.8 2310 H864.5 V2370 H714.8" fill="none" stroke="#000" stroke-width="5.5"/>
<rect x="864.5" y="2335.5" width="15.5" height="9" fill="#000"/>
<text x="735.63" y="2362.00" font-size="57.7" font-weight="bold" letter-spacing="-3.387"><tspan fill="#3c3a9c">C</tspan><tspan fill="#3c3a9c">U</tspan><tspan fill="#000">G</tspan></text>
<line x1="794.60" y1="2378.00" x2="794.60" y2="2400.00" stroke="#000" stroke-width="3" stroke-dasharray="3 3"/>
<text x="734.74" y="2448.40" font-size="56.6" font-weight="bold" letter-spacing="-1.686" fill="#d49a27">AGA</text>
<path d="M719.9 2488 V2440 Q719.9 2423 734.0 2423" fill="none" stroke="#d49a27" stroke-width="8.4"/>
<path d="M859.0 2423 Q872.0 2425 872.0 2440 V2488" fill="none" stroke="#d49a27" stroke-width="8.4"/>
<path d="M952.8 2310 H1102.5 V2370 H952.8" fill="none" stroke="#000" stroke-width="5.5"/>
<rect x="1102.5" y="2335.5" width="15.5" height="9" fill="#000"/>
<text x="973.63" y="2362.00" font-size="57.7" font-weight="bold" letter-spacing="-2.781"><tspan fill="#3c3a9c">C</tspan><tspan fill="#3c3a9c">U</tspan><tspan fill="#3c3a9c">C</tspan></text>
<line x1="1032.60" y1="2378.00" x2="1032.60" y2="2400.00" stroke="#000" stroke-width="3" stroke-dasharray="3 3"/>
<text x="972.74" y="2448.40" font-size="56.6" font-weight="bold" letter-spacing="-1.686" fill="#d49a27">AGA</text>
<path d="M957.9 2488 V2440 Q957.9 2423 972.0 2423" fill="none" stroke="#d49a27" stroke-width="8.4"/>
<path d="M1097.0 2423 Q1110.0 2425 1110.0 2440 V2488" fill="none" stroke="#d49a27" stroke-width="8.4"/>
<path d="M1190.8 2310 H1340.5 V2370 H1190.8" fill="none" stroke="#000" stroke-width="5.5"/>
<rect x="1340.5" y="2335.5" width="15.5" height="9" fill="#000"/>
<text x="1212.56" y="2362.00" font-size="57.7" font-weight="bold" letter-spacing="-3.852"><tspan fill="#000">A</tspan><tspan fill="#000">A</tspan><tspan fill="#000">G</tspan></text>
<text x="1210.74" y="2448.40" font-size="56.6" font-weight="bold" letter-spacing="-1.686" fill="#d49a27">AGA</text>
<path d="M1195.9 2488 V2440 Q1195.9 2423 1210.0 2423" fill="none" stroke="#d49a27" stroke-width="8.4"/>
<path d="M1335.0 2423 Q1348.0 2425 1348.0 2440 V2488" fill="none" stroke="#d49a27" stroke-width="8.4"/>
</svg>
</body></html>
